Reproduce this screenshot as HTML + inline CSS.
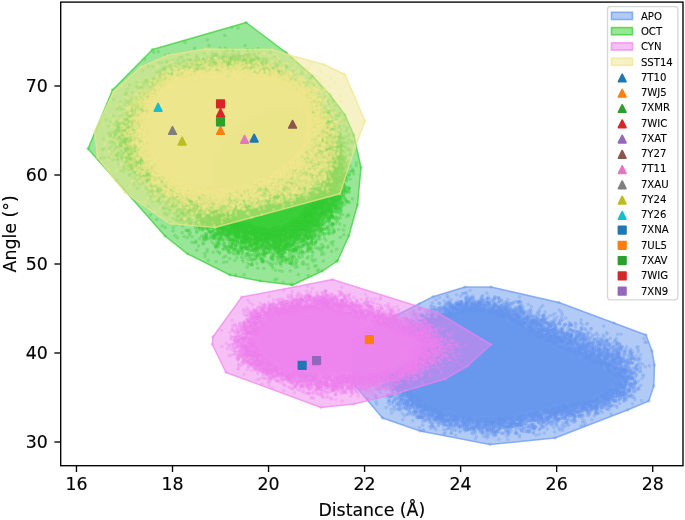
<!DOCTYPE html>
<html lang="en"><head><meta charset="utf-8"><title>Distance vs Angle</title>
<style>html,body{margin:0;padding:0;background:#fff}body{width:685px;height:520px;overflow:hidden}
svg text{font-family:"DejaVu Sans","Liberation Sans",sans-serif;fill:#000;stroke:#000;stroke-width:.15px}svg text.lg{stroke-width:.1px}</style></head>
<body>
<svg width="685" height="520" viewBox="0 0 685 520" style="display:block">
<defs><filter id="bl" x="-10%" y="-10%" width="120%" height="120%"><feGaussianBlur stdDeviation="2.2"/></filter><marker id="mb" markerUnits="userSpaceOnUse" markerWidth="20" markerHeight="20" refX="10" refY="10"><circle cx="10" cy="10" r="7.25" fill="#6d9df1" fill-opacity="0.3" stroke="#6d9df1" stroke-opacity="0.3" stroke-width="2.5"/></marker><marker id="mg" markerUnits="userSpaceOnUse" markerWidth="20" markerHeight="20" refX="10" refY="10"><circle cx="10" cy="10" r="7.25" fill="#3cd13c" fill-opacity="0.3" stroke="#3cd13c" stroke-opacity="0.3" stroke-width="2.5"/></marker><marker id="mp" markerUnits="userSpaceOnUse" markerWidth="20" markerHeight="20" refX="10" refY="10"><circle cx="10" cy="10" r="7.25" fill="#f387f3" fill-opacity="0.3" stroke="#f387f3" stroke-opacity="0.3" stroke-width="2.5"/></marker><marker id="my" markerUnits="userSpaceOnUse" markerWidth="20" markerHeight="20" refX="10" refY="10"><circle cx="10" cy="10" r="7.25" fill="#f4ea92" fill-opacity="0.3" stroke="#f4ea92" stroke-opacity="0.3" stroke-width="2.5"/></marker><clipPath id="ax"><rect x="60.70" y="2.10" width="622.30" height="463.60"/></clipPath></defs>
<rect width="685" height="520" fill="#fff"/>
<g clip-path="url(#ax)">
<path d="M352 340L395 316L433 296.7L465 287L491 287L559 302.5L614 323L646 335L652 351L654.5 365L653.8 386L648.8 401L627.5 410L555 438L490 444.5L420 431L382.5 418L352.5 382.5Z" fill="#6495ed" fill-opacity="0.5" stroke="#6495ed" stroke-opacity="0.7" stroke-width="1.5" stroke-linejoin="round"/>
<g transform="scale(0.2)" fill="none" stroke="none"><path d="M2455 1435l-258 53 39 27-37 2 120-50-36 7-28 25 53 9-63 3 63 4-25 2-1 1 14 0 33-51 0 19 8 1 15 0 10 1-8 6-4 2-1 0 22 7-40 0 43 4-35 1 7 2 47 3 4 1-60 0 51 0-55 1 25 0-26 0 66 0-36 2-36 0 27 0 32 1-3 0-10 1 102-36-33 2-34 3 68 2-4 1-28 2-7 0 1 1 36 1-65 1 27 0-33 4 63 2-52 1 4 0 53 5-9 1-20 1-39 0-1 1-1 0 48 5-1 3 30 0 16-31 6 6-8 1 48 3-5 12-8 2 25 4-16 2-22 1 88-12-23 0 11 5-25 5 342 82-98-13 5 13-17-49-70 10 23 18 36 7-56 9-24-58-52 12-6 5 51 5-11 5 4 4-1 9 29 0-44 1-19 2 60 0-2 6-47 2-22 1 44 3-45 0 14 1 56 1-30 2 29 1-21 1-23 2 42 0-44 0-71-69 6 5 13 0-17 0-3 1 11 6-28 1 35 4-24 3 15 2-28 1 30 3-41 2 73 0-13 1-23 1-6 1 21 2-40 0 23 1 35 2-20 0-24 2-7 3 37 0-45 1-9 1 52 3-56 0 18 0 27 0 27 4-34 0 0 1-8 3-10 1 11 2-8 3-25 0 68 1-55 0-6 1 32 1-23 1 31 1 15 0-57 0 51 0-41 4-41-77-16 0 18 6 9 1-63 1 25 0-24 0 39 1 9 2-50 1 35 1-25 2 44 2-42 2 31 1 10 0-28 1-4 1 26 2-4 0-28 0 49 0-44 1 57 0-70 2 46 2-12 1 24 0-63 0 37 0-8 3-2 0 26 3-53 1 49 0 26 1-46 0 27 1-58 0 22 0 40 2-52 0 20 0 20 1-32 0-1 0-2 1-2 0 23 1-19 1 1 0 34 0-26 2-21 0 26 1 33 0-8 0-47 0 18 1 22 0-7 0-21 0 22 1-18 1 32 0-24 1 36 0-58 0 38 1 15 0-44 1 19 0-32 0 49 0-33 1 27 0 25 1-17 0 2 0-36 0 47 1-35 4-4 1 1 0 41 1-15 0-28 1 25 0-15 1 35 2-1 1-4 1-16 0 13 7-134-78 52 1-46 0 17 1 10 1 2 0 19 1-63 1 16 1-14 1 38 1-27 0 50 1-67 1 23 0 29 1-25 0 38 4-11 0 9 4-44 0-8 2 4 0-8 0 31 1-2 1 22 0 7 3-45 3-12 1 46 0-13 1-36 0 20 0 12 0 20 1 17 0-9 0-55 2 41 0 5 2-35 0-11 2-2 1 67 2-32 1 5 0 24 1-15 1-8 0 12 1 14 2-6 4-148-51 40 2-9 1-1 0 24 1-47 0 66 1-12 1-13 3-8 1 24 2-59 0 58 0-30 2-21 1-1 1 46 1-32 0 32 0-32 1 50 0-36 3-38 0 53 0 5 1-27 0 3 1-39 2 30 1 46 0-34 0 10 1 26 0-17 0-50 0-2 2 39 0-23 1 43 0-43 0 34 1-16 0-6 0-4 0 39 2-16 1-8 0 28 0-56 1 49 0-30 1 14 1-53 0 14 1-6 0 24 0 14 1-33 2-32-41-10 2-4 0-4 1-19 2-1 0 40 0-12 1 8 0 13 1-18 0-10 1-33 1 61 0 7 1-19 1-42 2 7 3-9 0 8 0 14 2-17 0-16 1 29 0-8 0-11 1 53 1-28 0 35 1-2 0-40 0-8 0 12 0 13 0 27 1-33 0-35 2 55 2-42 1-20 0 40 1-34 0 64 1 2 0-48 0 23 2-1 0-2 1 2 0-37 2 13 0 42 1 7 1-14 0-47 1 17 0 46 3-8 0-59 1 49 0-50 0 4 1 36 0-20 0 17 3-3 0 23 0-15 1-36 1 27 2-12 0-26 0 36 1-37 2 9 1 4 1 1 0 5 0 11 0-25 3 12 1-6 0-23-59 7 2-11 3-55 9 47 3-45 1 28 2 1 2 20 0 5 2 8 1-45 0 18 1 25 2 1 3-72 0 40 1-4 1 20 1 20 7-41 0 7 1-43 3 12 1 20 3-10 0-21 2 68 1 7 2-63 1-11 0 61 0-54 1 43 0 1 2 11 0-7 1 19 0-27 0 29 2-27 1 17 1 2 0-67 1 62 0-9 1-23 0 9 1 27 1-23 0 26 0-8 2-17 1-34 0 27 1-10 2-27 1 25 0 9 0-21 1 28 0-9 1-40-60-12 15 14 2-31 4 8 15-23 2-31 0 31 3 0 2-9 0 56 1-39 1 9 2 29 0 0 5-28 2 7 1-3 2-2 4 14 1 7 1-17 0 1 0-67-45-2 22-36 19-45 28-28 14 92-36 19 4-9 6-7 0-6 2 7 15 16 2-23 0 20 4 2 0 0 2-60 1 24 1 12 3-6 3-6 0-17 0 32 1 23 4-2 0-51 1 19 0 40 2-10 0-41 5 18 0 11 1-23 1-5 2 35 2 6 2-12 2-2 0-15 1 29 1-24 2 25 3-24 1 14 2 92-77 3 1 1 2-51 0-14 0 55 1 12 0-40 0-17 2 34 3-19 0 33 0-46 0-3 0 45 1 3 1 4 0 7 2-63 1 45 1-24 1 21 0-1 0-6 4 26 1-57 1 30 0 7 0-12 1-28 0 63 1-76 0 40 0 27 2-67 0 44 2-4 2 26 0-34 2-16 0 43 0-4 0-10 3-14 1 27 2-7 0-27 1 22 0 6 1-7 1-46 0 51 0-22 2 18 0 30 1-69 0 27 0-4 1-23 2 56 1-64 1 42 0 20 1-26 2-2 0 8 0 14 0-35 1 39 0-7 0 6 0-10 1-2 1-10 1-9 2-23 0 36 0-3 1-1 0 10 0-1 1-31 1 3 2 20 0-2 3 7 0 0 1-6 1 12 0-11 2-35 0 18 0-18 1 28 1-7 2-23 1 13 2 15 0-13 0 113-77-13 1-7 1-12 2 30 0-8 0 7 3-27 1-4 1-15 0 14 6-15 0 33 2-11 3-15 2-8 2 9 0-5 6 3 5 388-32 69-3-25 1-33 1 72 1-77 1 52 1-33 1-5 1 16 0 19 1 4 1 14 2-29 2-7 0 36 1-4 1-3 0-25 0-20 0 61 1-13 0-20 1-15 2 6 1 27 0-34 0 19 0 12 0-14 1 11 1-23 0 16 0 7 1-24 0 13 2 30 0-40 1 5 1 2 2 18 5-5 3 17 1-3 2-13 2 0 0 20 1-1 7 69-49-38 1-4 1 4 1 41 0-2 0-27 1-21 0 25 2-21 0 21 1-16 1-13 0 64 1-74 1 5 3 22 0-11 4 13 1 13 3-32 0 33 0 14 1-45 0 6 2 48 0-57 0-1 0 43 2 7 3 5 3-63 1 72 0-34 1-32 3 3 1 6 2 47 0 3 2-17 0 11 0-45 1 15 0 45 0 0 1-72 0 44 1-34 1 61 0-22 1-35 2 55 1-5 1 8 0-9 0-38 3-22 0 46 0-47 1 0 1 15 1 55 0-14 1-30 0-18 1 49 0-12 0 15 2-11 1-7 0 3 3-1 1 15 1-16 0 24 3-46 3 29 0-23 0 33 1-34 1 37 2-16 1 20 0 65-79-24 9-23 3 39 1-26 0 16 3-10 4 6 0 16 1-23 4 32 0-5 1-33 2 16 2-7 1 5 1-10 2 25 3 5 2-47 2 10 3 1 1-18 0 51 1-37 0 22 1 12 0-7 1-42 1-3 1 59 1-34 1 18 0 12 1-22 0-8 1 41 0-21 0-45 0 32 0 39 1-52 1-12 0 14 1-7 1 26 1-34 0 15 3 31 0-24 1-7 0 28 0 14 1-5 1-44 0 9 1 33 1 1 0 3 1-5 3-10 0-2 1 28 0-58 1-3 0 52 1-31 1 16 3-40 0 21 1-3 0 106-62-25 6 18 1 14 1-7 1 7 1-39 3 21 12-33 2 46 3-3 0-39 1-4 1 51 3 9 1-4 2-53 0 60 1-35 3-35 1 37 1 41 3-59 1-14 0 6 1 34 3-8 3 19 1-19 0 19 3-30 1 53 1-26 1-36 0 121-62-31 24 48 3-48 3-27 7 19 10 5 2 14 1 23 2-40 4-4 1 22 2 64-10 7 10 240-1-10 18 6 18-43 27-29 8-24 9 18 2-24 1 40 1-83-67-41 9 36 4-34 9 56 3-15 0 2 13-16 3-1 2 33 2-18 1-34 1 48 1-39 1 48 4-21 2 18 1-62 2 32 2-33 1 79 2-30 1-68-71-29 7-18 5-3 3 43 4-23 3-4 1-8 3 24 1-39 1 66 0-66 3 32 1 28 1-8 0-48 2 30 1-38 2 50 2 9 1-58 7 1 5 61 3-30 0-22 3 53 2-29 0 0 0-32 1 71 2-52 3-3 1 30 0 23 1-70 0 34 1 9 1 16 0-60 2 69 1-138-79-6 3 3 1 30 1 10 1 20 2-40 1-24 1 20 1 15 3 0 0 30 0-13 0-18 4-19 1 40 0-41 0 34 1-21 1 42 2-70 3 17 3-10 3 57 2-34 3 23 2-21 1 32 1-61 1 23 0-17 0 4 1 1 1 28 0 7 2-17 2 19 0-29 1 12 1-14 0-2 3 37 1-26 0-11 1 14 1-13 0 29 0-4 2-14 1 19 1-26 2 31 3-16 0-30 0 39 2-17 0 8 1 36 0-58 2 17 0-5 1-21 1 49 1-49 2 12 1 27 0 12 0-62 1 69 1-53 0 27 1 7 0-24 0-52-78-38 0 11 0 23 1-39 0 24 1-35 1 52 0-28 1-4 0-18 2 11 0 16 3 16 0 5 1-46 0-1 2 49 1 8 2-58 1 75 2-32 1 9 0-45 0 40 2-11 0-18 0-4 1 63 2-59 0 42 1-11 0-39 0 67 2-71 0 29 0 11 1-29 1-9 1 35 1-19 1 30 0 15 0-64 0 54 1-28 0 20 0 21 0-32 1-1 1-12 1-23 0 58 1-45 0 19 1 39 1-69 1 29 1-22 0 41 2-42 1 32 0 17 1-47 1 17 1 29 3-62 0 13 2 10 3 9 1 19 0 3 0-11 1-33 0 28 0-17 1 53 0-25 1-38 0 53 1-56 1 67 0-32 3-15 0 11 4 32 0-40 1 5 1 22 2-23 0 40 0-16 0-13 0 1 1-2 3 23 1-2 0-139-78 30 1-32 0 5 0 32 0-3 0-7 1 7 1 38 0-27 0 0 2-23 1 36 0-63 0 5 1 6 1 0 1 53 0 11 0-53 2-7 0 49 2 11 1-27 2-26 0 21 1 15 0-29 2 39 0-48 0-4 1 7 0-16 0 38 1 9 0 23 1-41 0 41 1-43 1-28 1 59 1 3 0-44 1 35 2-11 0 9 1-3 0-2 1 18 1 7 2-37 1 11 0 10 1 6 1-18 1 22 2 8 1-31 0 14 2-7 1 8 4 5 4-75-52-34 0 15 0 25 0-41 0 26 0 4 1-19 0 10 1 7 1 8 2-12 1 4 1-3 3 9 1 0 2-594-9-31 0 16 2-17 1 28 2-20 2 14 0-3 7-6 5-27-22 7 6-37 138-2 1-19 4 22 0-17 4-14 1 28 0-21 2-6 1 27 0 839-78-9 2 11-2 77 0-16 2-14 0-29 0 30 1-37 0 37 2-32 0-14 0 46 1-26 0-4 0 52 0-47 1 12 0-28 1-8 0 24 3 46 1 5 0-5 1-30 1 21 0-57 1 67 1-66 0 46 2-22 1 25 0-20 2 31 4 0 0-7 1 19 0-4 1-19 0 24 1-16 0 1 1-8 1-21 1 17 0-8 2 32 2 1 0-10 2 5 3-1 7 4 1 2 3 15-51 1 1 43 1-49 2 1 0 28 1 44 1-39 2-8 1 2 1 41 3-57 0 18 0 29 0-35 1 12 2 11 1-45 1 56 0-23 1 24 0 7 1-55 0 19 1-4 2 31 1-32 1 24 0-29 1-3 1-7 3 10 1 11 0 5 2-41 1 58 1-21 1 32 0-35 1 8 0 14 1-56 2 25 2 37 0-37 0 8 0-23 1 64 1-45 1 22 2-41 0 2 0 41 1-47 2 36 0-3 1-13 0 38 0-50 0 37 1-10 1-33 0 10 0 5 1 38 0-5 1 10 0-24 1-17 0 24 0-33 1 31 1 6 0 17 0-6 1 4 0-21 1 29 0-67 0 41 0 16 0 6 2-49 0 45 4-37 2 31 0-1 2-20 0 2 0 30 1 3 1-32 5 79-77 3 2 1 0-34 1 39 0-30 2 14 0 23 4-58 3 39 2-38 0 2 1 20 2-7 1 36 2 7 0-18 4-18 1 34 1-13 1 2 2-12 1-36 1 39 1-11 1 47 0-22 0-31 4 8 1 20 0-9 1-12 0-15 1-6 4 15 1 16 0 4 1 11 0 1 1 9 4-58 0 58 1-38 0 42 2-36 0 24 0 6 2-43 1 46 0-16 0-35 1-12 1 40 1-41 1 0 0 44 1 14 0-18 0-9 1 22 1-50 0 38 1-31 1 55 2-59 0 0 0 13 1-11 2 56 1-29 2-6 3 16 0 62-68 17 14-20 3 16 4 4 1-14 4 25 1-38 3 14 4-15 1 53 1-70 1 5 1 10 3-5 3 29 1 3 1-23 1-13 4 3 6 10 5-17 0 56 1 23-36 1 20 44 13-19 4-7 46-54-39 15 1-4 3-52 1 48 0-37 1-16 0 67 3-32 2-1 3-13 0-4 1-5 0 0 8 47 3-52 1 5 3 13 1 14 0-39 7 25 4 0 1-3 1-11 2 26 2-21 1-9 0 33 2 2 2-42 3 32 2-17 1-10 1 47 2-51 5 14 1 3 1 40 0-42 0-10 0 58 4-58 0 32 1-34 1 50 0 4 1-107-76-4 2 39 0-22 0-39 0 23 1-28 0 48 0-10 0 0 1 32 0-5 1-31 1 11 0 31 0-19 1-49 1 43 0 19 0-62 1 9 2-17 3 8 0 10 3 59 1-72 1 70 0-35 1-30 2 32 0 13 1-6 1 9 1-35 0 22 2-7 0 27 1 4 0-16 1-4 1 4 0-14 0 18 2-1 0-21 1 40 1-11 1-36 1 35 0 7 0-29 3 35 3-9 2 3 0-32 1 8 1 10 1-9 1 26 3 1 1-4 3-10 2-4 1-5 2-1 1-5 1 17 1 2 5-19 5 11 2 18 1-76-70-1 6 0 1-1031-13 8 1-3 3 22 0-18 1 24 1-26 0-2 1 18 0 0 1-17 2-4 4 8 0-13 2 29 3 2 2-15 0-7 1 25 1-14 0-21 0 13 2 5 1-5 1 8 1-17 4 8 4 1 0-8 6 24 0-30 0 32 2-17 0-2 0-12 0 12 2-10 3 17 0 7 1 7 0 1 1-4 0-4 0-19 3 22 2-17 0 18 1-27 0 3 1-3 3-4 1 17 1 9 0-8 0 8 2-14 1 11 0 15 0-19 0-5 2 20 2 2 2-34 2 36 1-4 0-21 0 14 1-17 0 30 0-17 3-34-79 4 3 4 1-11 1 8 2-30 7 13 2-12 1-18 2-15 2-12 5 37 1 20 0 0 1 14 1-20 0 25 0-76 1 34 2 28 0 4 0-6 1-51 0 20 2 47 1-12 1-25 3-7 1 38 1 4 5-2 0-65 1 70 0-6 2-28 0 30 1-43 2 36 1-39 1 34 1-23 1 1 0 26 2 3 0-18 3-18 0 5 2-26 2 27 3-1 1 32 2-46 1-4 0 35 1 5 0-1 0-1 2 12 0-60 1 0 0 42 2-64-53-16 7-13 3-4 3 16 3 17 3-6 1 7 0 2 8-1 13-22 5-50 80 76-62-5 14-24 1 10 2-20 26 8 17 53-70 59 3 2 1-24 1-13 1 6 0-4 0-10 0 17 1-39 1 43 0-15 1 20 0 19 0-14 1-26 3-29 3 31 0 33 1-4 1-7 1-36 3 53 2-64 4 34 2 17 0-24 1 34 1 0 0-6 1 0 0 1 6-6 6-16 1-7 3-22 5 26 3-19 2 12 3-5 0 21 0 27-60 17 3 17 1-10 1-18 0 6 0 4 1 29 1-45 0-1 1 30 0-15 2 0 0 13 2 14 0-2 1-39 0 44 3-23 0-3 1 14 0-33 1 45 1-29 1-9 6 12 0 38 2-11 1-13 2 26 2-27 1 25 1-12 0-1 3-23 0 24 1-9 0-25 1 58 1-42 0-14 2 32 0 11 1-4 1-11 0 4 0-9 1-12 0 18 1 16 0-12 1-12 0-16 0-4 3 56 0 6 0-40 0 7 1-29 0 18 1 30 0-11 1-5 0-41 1 32 0 22 0-47 0 61 2-2 1-55 2 40 2 18 0-12 2-14 0 22 5-31 0 15 2-13 0 17 1-36 1 24 0 9 1-51 0 4 1 64 0-14 2 3 0 28-11 0 2 7 6-2 1 4 0 940-38-3 5-3 3 1 1 0 0 0 0-5 1 10 0-5 0 3 0 0 3-9 7-20 1 8 1-7 1-1 2 2 0 10 0 9 3 6 0-12 1-6 1 16 2-16 0-11 2 14 0-9 1 25 1-75 1 60 0 17 0-50 2 34 0-49 0 10 1-7 0-7 0 20 0 124-79-37 1 8 1 12 0-13 1 23 0-14 1 14 2-1 0-21 3-8 1 40 1-15 1-7 2-18 1-6 0 40 0 5 1 2 0-8 2-16 0 13 1 1 2-15 3-17 2 6 1-5 2-21 1 40 1-26 1-8 0 53 1-27 0-42 0 42 0-5 1-17 0 7 0-19 1 37 0-8 1 5 0 9 1 7 0-31 0 19 0-30 1 48 1-3 0-7 0-48 3 12 1 29 1 27 0-50 1-18 1 14 0 16 3 18 1-31 0 50 0-76 1 17 1 43 0-42 1 4 0-8 1 2 2 61 1-31 1 26 1-10 1-15 0 13 1-44 0-4 0 28 1-36 1 1 1 32 0 19 1 20 3-76 4 10 0 7 4-12 2 4 0 15 1 64-79-2 2 2 0 17 1 11 1-20 1 16 7 4 2-33 5 67 0-36 3 11 3-27 4 2 0 40 1-35 3-23 4 20 3-22 2 8 5-7 3 13 0 22 3-28 5 32 0-9 3-15 2 25 4 10 0-42 3 74-63 65 3-131 120-61-50-5 2-3 2 22 1-13 5-33 0 9 15 6 4-5 42-75-71 33 1-27 2 3 1 40 0-26 1 21 0-10 1 14 0-53 1 42 1-45 0 2 1 15 0 9 0-25 1 33 0-18 2 34 2-50 1 0 0-12 1 71 1-16 0 9 0-20 2 9 0 13 3-54 1-2 1 67 0-20 0-20 1-32 1 14 2 55 6-31 0 16 0-38 0-13 3 14 0 25 1 11 1-11 1-40 0 20 0-24 1 15 1-3 3 57 1-48 1-4 8 2 6 31 1-24 5-1 1-7 1-32-66 9 1-33 1 12 0 20 2-21 0 17 0-35 1 19 0-7 0 24 1-42 0 36 0-25 1-32 0 56 1-43 0 13 3-3 0 26 0-55 0 33 0 29 1-32 0 26 1-31 0 25 0-1 0-45 0 0 1 25 0 2 0-27 2 33 1-35 0 10 0 25 0-8 0-31 1 49 0-15 0 15 0-38 0-13 2 26 1 49 0-47 0 36 1 7 0-35 0 32 1-63 1 39 0-1 1-8 3-2 0 41 0-9 0 11 1-35 0-4 2-36 0 36 2-28 0 16 0 52 1-58 0 10 0-28 0 7 0 2 1 34 2-6 0 24 1-30 0 16 1-17 1 22 0 22 0-36 1 8 1 27 1-58 1 10 1 26 3-37 1 14 0 28 4-35 1-11 1 1 5 53 7-54 0 19 1-8 2 33 2-32 1 41 2-78-65-8 3 2 1 15 0-28 2 6 0-28 1 45 2-1 1 5 1 0 0-12 0 14 1-22 1 2 1-40 1-16 0 21 0 7 0-5 0 14 1 4 1-22 0 34 0-16 1-11 1-13 1 58 0-58 0 17 2-11 0 23 1-7 1 17 0-43 0 18 2 36 1-26 0 36 0-46 0-3 2-13 1-5 1 36 0-13 1-21 0 27 1 41 0-44 0 20 1 20 1-72 1 32 0 40 1-41 1 28 0 6 1-62 1 53 0-6 1 5 0-17 1 18 0-29 0-20 1 32 1 2 2-37 0 55 1-45 1 31 1 32 2-49 0 21 0-9 0-24 2 29 1 10 0-34 0 36 1 9 1-1 2-28 1-25 0-3 0 51 1-28 0 11 1-12 0-23 2 49 0-17 0 16 0 18 1-22 0-64-47 5 3-5 1-26 3 10 0 20 1 6 1-7 0-22 1 20 2 9 1-74 3 63 0-55 0 17 1 21 0-10 0 22 1-41 0-7 1-10 1 59 1 9 0-10 0-32 2 18 2 24 1-73 0 54 0-27 1-12 0 63 0-15 2-46 0 36 0-28 1 38 0-45 0 41 0-46 1 12 0 9 0-11 1 43 1-58 0 16 0 43 0 3 1-35 2-8 0 20 0 11 0-47 0-6 1 61 0-57 0 14 1 31 1-2 0-13 1 17 0-6 3-11 2 18 0-19 2-9 2 30 0-65-31-13 6-6 3-8 2-7 2-4 0 12 3-24 1-10 2 45 1-21 0-30 0 48 0-19 1 34 0-57 0-14 1 9 0 63 1-9 0-23 0 0 0 30 2-17 1-15 0-32 1 18 1-1 0 21 1-1 0 4 1-22 1 41 0-80-5-12 1 10 2-5 1-6 0-371-8 2 1 14 4 18 0-24 1 1 0-77-30 7 3-15 1 20 1-21 2 8 0 26 1-26 1 27 3-16 1 0 0 0 0 8 1 14 1-36 0 33 1-12 3-1 3-18 0 13 0 51 0-53 0 40 0 12 1-51 0 15 1 17 0-50 0 61 2-4 0-6 0-52 1 23 0 33 1-20 0-42 1 64 1-43 1 20 0 34 1-22 0-22 1 30 0-132-79-4 1-3 0 1 3 29 2-8 0-7 0-4 1 7 0 6 2-26 3 15 3-16 1 40 1-19 1-16 1 15 1 1 3 28 0 4 0-36 4 35 0 5 0-13 1-23 1 17 1-32 0 16 1 53 1-59 0 51 0 9 1-19 0-11 0 2 1-6 1 7 0 28 2-67 3-2 0 64 1-4 1-26 1 16 0-1 2 18 2-20 1 12 1-10 0 22 0 0 0-48 3 11 0 33 3-10 0-28 0-14 2 42 1-41 1-2 3 39 0-36 3 27 4-14 2 30 1-4 0-10 3-8 0-19 1 32 0-33 2 13 1 38 0-8 0-132-78-10 1 55 0-35 1-1 2 15 1-9 1 10 1 23 0 6 0-10 1-25 2 33 0-36 1 45 1-33 1 15 0 9 0 1 1-52 3 19 1-16 0 3 1-3 0 48 1-33 2-1 0-20 0 49 1-7 0 4 1-5 0-2 1-17 1 4 0 6 3-12 0-6 3 15 2-43 2 69 0 1 1-18 0-26 2-10 0 61 0-38 4 5 12 34 1-2 4-19 2-46 6 43 1-20 1 6 0 25 3-43 5-78-79 27 2-7 8 28 4-7 2-26 3 25 0-2 4 8 4-21 4 29 1-68 5 59 8-34 2 42 2-40 16-78-56 184 94 31-22-2 1-3 0 65 1-35 1-35 3 24 0-13 0 34 1-33 1 61 6-11 2-2 1-3 1 10 8-38 2 44 8-9 16-31 18 115-71-38 3-2 1-5 1-16 0 43 1-35 1 28 0-14 1-5 2 7 0-17 0-2 0 31 2 2 1-28 2 8 0 30 2-3 0-2 1-44 0 30 1 22 1-19 1-25 0 48 2-2 3 11 2-8 1-34 4 21 2 6 0-56 0 36 1 14 1-21 4 34 1-67 1 68 2 1 1 9 0-71 8 71 9-9 6 59-69-15 2 5 0 5 1 32 0-2 1-22 0-40 1 32 1 4 0 29 2 1 1-62 1 20 0 13 1-17 0 18 2-22 2-13 0 25 2-40 1 35 1-23 1-12 1 36 3-5 0 8 1-35 2 72 0-26 1-33 0 60 0-11 1-61 2-1 1 40 1-31 7 26 0-24 0-2 3 3 0 55 1-16 1-50 0 66 1-45 1-12 3 49 0 13 1-14 2-8 1 0 4-25 1-23 1 36 11-25 0 46 4 23-68 16 1-22 0 40 3-20 2 15 1-10 0 21 1-29 1 20 0-36 0 34 2 4 1-22 1 48 0-62 2 32 1-18 0 15 2 27 2-52 0 42 0 25 0-15 0 7 1 4 0 2 0-47 0-25 2 10 2-4 0 62 2-24 1 25 0-69 1 65 1-16 2 30 1-52 1 42 1-67 1 13 2-9 0-3 2-3 1 14 2 65 0-17 2-25 1 11 0-31 0 56 0-53 2 42 1-33 0-16 1 25 0 2 0 16 0 18 1-71 1 48 0 22 1-34 2 30 0-33 4-26 2 30 1 35 0-25 1-45 5 53 0-6 1 52-63 33 0-24 1 40 2-47 0-2 1 40 0-63 0 15 1 23 0-28 2 42 1-51 1 4 0 26 0 46 2-67 1 57 1-32 0-1 0-28 1 60 1-42 0 11 0-31 1-1 0 44 0 17 3-52 1 55 0 5 0-2 1-32 1-12 1 17 1-13 0 32 1-53 0 16 1 2 1 28 1-29 2-19 1 61 0-36 3-10 2 21 1-14 0 48 1-33 3 33 1-11 0 10 0-18 2-30 0-13 0-6 0 39 1-44 1 26 0 38 0-51 3 37 3-52 1 36 1-27 0 35 1-12 3-5 1-27 0 64 3-12 1-46 1 47 0 2 0 19 1 71-69 7 0-20 0 5 1-24 2 36 0-33 0-26 0 31 1-21 0 33 0-43 1 7 0 20 2-27 0 11 0 27 0 18 1-19 0-10 2-19 2 17 0-19 1 27 0-17 1-8 0 50 1-68 0 25 0 8 1 11 1-28 2 23 1 30 0-58 1-14 0 19 1 34 1-21 1-7 1-18 1 68 1-34 1 25 0-13 1-41 1 6 2-4 1 39 0-36 2-16 1 69 0-37 0 36 0-3 0-38 1 0 2 47 1-32 2-7 0 11 1 16 0-8 2 23 0-26 1-2 0-10 1 17 2 14 0-54 1 3 0 4 3-10 4-8 7 70 4-65 0 3 2 140-77 0 1 4 0-35 1-3 0 8 0 9 1-22 0-1 1-26 0 34 0 25 1-56 1 56 0-63 1 35 1 36 0-69 2 58 2-19 0-13 1-6 0-20 1 39 0-15 0-29 1 59 1-25 1-33 0 19 0 28 3-12 1 29 1-53 1 34 0-12 0 38 2-35 2-22 0-11 4 7 2-9 0 14 1 53 1-47 1 20 2-23 2 9 1-21 0 20 1 18 1 4 0-16 1 18 0-31 1 16 2-10 1-26 1 53 6-16 0-22 1 8 0 48 3-54 13 58 4 0 0-18 1 37-79 19 0 25 0-39 0 8 1 6 0 13 0 27 2-8 0-4 1-13 0 8 1 5 0-15 0 5 1 12 0-3 2 3 0-39 2 38 0 12 2-8 0-51 0 9 0-5 1 57 1-50 2-2 0-22 2 41 1 19 1 4 1-54 2 37 1-38 1 57 1-55 0 44 0-58 4 73 1-57 10 6 2 10 2 34 3-63 1 17 1 59 3-39 0-35 1 27 4-13 1 12 1 32 1-36 1-7 0 9 2 30 4-53 0-2 6 7 2 134-76-28 1-20 1 28 1-36 1 50 2-36 0-15 0 47 1-32 2 9 1-16 3 0 0 6 0 31 1-37 2 46 1 7 1-44 5-25 1 57 1-11 0-26 5 17 5-24 4 23 3 26 2-51 2 57 5-18 8-34 6 107-65-14 0 48 1-51 4 45 6-67 1 22 0-23 0 23 0-7 2 52 4-16 6 11 6-33 3-20 2 9 8 2 11-13 7 2 11 75-69 22 10 49 6-37 5-9 7 5 17 53-48-198 80 2 30-127-28 18 3 3 0 28 6-116-5-101-4 33 3 6 3 21 30-138-37 65 2-55 1 0 5 24 1 36 1 6 7-9 2-28 0-11 2 20 40-91-57 18 30-79-35-41 5 21 11-53-11-5 4" marker-start="url(#mb)" marker-mid="url(#mb)" marker-end="url(#mb)"/>
<path d="M2325 1435l-228 84 138-41-70 6 15 14 41 7-59 9 33 2 117-47-9 12-63 5 50 20 18 1-66 1 58 1 6 0 3 4-13 0-15 2-30 0 0 1 58 0-19 3 61-67-19 11 32 17-26 1 29 9-3 3-37 1 6 1-1 1 13 5 2 0 11 5 37 0-13 1-51 0 62 0-51 1 22 1 34 4-70 2 46 1-14 2-21 1-1 0 44 0 52-53-20 12-4 3 6 15 38 1-45 1 21 7-8 6 26 1-16 1 9 0-1 0-3 0-31 1-3 2 36 0-25 0 76-28 17 14 1 1-13 5 2 1-5 3 44 5 61-32-4 23-2 1 7 1-30 2 37 4 190-4 12 48 4 12 18 18-55-21-11 7-43 0 17 13 34 4-44 5-85-76 72 5-57 6 38 17-40 6-6 10 6 4-13 4 74 2-18 3-54 3 19 1 16 0-21 0 22 7 39 0-1 2-35 2-40 0-81-73 44 6-9 7-20 3 6 3 23 1-10 4 1 1-12 1 20 1-36 1 43 1-48 0 9 1 9 5 37 0-53 1 4 2 27 0-14 2 29 0-48 1 6 1 10 0 36 2 1 1-49 4 11 1 7 1-4 0 19 1-34 1-4 1 26 0-8 2 7 1 4 0-28 0 21 1-9 1 16 1 0 1 2 1 42 0-21 1-23 0-18 0 26 1 39 0-45 0 1 1 10 2-25 0 49 1 8 0-7 1 6 0-43 1 37 0-44 1-9 0 51 2-47 0 11 0-21 1 48 1-36 1 33 0-43 1 35 0 3 0-46 1-85-79 70 0-21 6-24 1-9 0 12 2 36 3-22 2-31 0-2 2 64 0-53 0 9 1 4 0 13 0 3 3 3 1-37 1 18 1-29 1 44 1 4 0 19 1-7 0-46 1 3 2 14 2 16 1-46 1 10 0 58 0-39 0-10 1 15 2-26 0 1 0-12 0 22 0 40 2-64 0 78 0-57 2-1 1 20 0 29 0-42 0 12 2 24 0-29 0-11 2 36 0-40 2 52 0-33 1 18 1-37 2 42 0-18 0-38 1 35 2 4 0-5 1-28 0 10 1 30 0-32 0 8 1-13 0-3 0 28 0-36 0 75 0-59 1 26 1-32 0 47 1-35 1 47 2-49 0 40 0-32 1 38 1-34 1 33 0-34 0 32 0-16 1-14 0 4 2 0 1 26 1 10 6-156-76 71 0 4 0-72 2-3 3 43 0-25 2 21 1 36 1-47 1-28 1 31 0-26 1 67 1 2 0-7 1-2 2-55 4 32 0-19 0 27 1-34 0 2 0 43 1-2 0-13 3-29 0 2 0 49 0-64 1 10 2 55 1-43 0-23 1 76 1-24 0 10 0-56 0 39 0 4 1-25 0-15 1 50 1 16 0-60 1 25 1-8 0 34 1-66 1 57 2-37 0 3 0-4 0 21 1 9 0-33 0 18 1 24 2 9 0-23 1 15 1 1 1 14 1-14 0-1 1-91-50-13 1 9 0 31 1-8 1-63 1 47 0-38 0 32 1-35 2 13 0 34 1-43 0-7 1 53 2-63 1 71 1-25 0 0 1-39 0 69 1-47 0 33 0 16 0-21 1-56 0 56 0-42 1 29 0-23 1 38 0-17 1-10 0 4 1-31 0 71 0-67 1 14 2-23 0 48 1-27 0 23 1-16 1 33 1-43 0-16 0 16 0 40 0-50 1-8 0 8 1 64 0-40 0 33 1-54 0 35 1 30 6-56 0 42 0-15 0 8 1-20 0-29 0 25 0 9 1-82-39 18 1-51 2 58 0 9 0-1 0-60 1 49 0-47 1 43 2-52 1 40 0-15 1 16 0-17 1 33 0-46 0 27 4 11 1 16 1-57 1 65 0-64 2 44 0-28 0 0 1 49 0-54 0 5 1 20 0 30 1-20 0-30 1-11 0 46 1 11 3-18 2-20 2 29 0-13 0 21 2-74 1 42 0 11 0-10 1 11 0-50 1 51 2 13 1 10 0-32 1-21 0 21 1 26 1-63 0 64 0-1 2-48 1-24 1 6 4 17 0-19 0 3 2 32 0-5 0-18 0 6 0-20 0 6 1-7 1 24 2-23 0 0 0 7 5-3 1-42-47 19 0 5 1 8 0-17 0-28 4 27 3-45 4 64 0-55 2-13 1 52 0 14 0-30 2-31 1 44 0-35 2 51 2-3 1-39 3 33 1 7 1-12 1-51 2 48 2-19 0 37 0-27 1 13 4-6 1-5 1 11 0-16 1-15 0 25 0-22 3 20 1-24 0 37 2-33 0 2 2-5 2-29 0 39 1 4 1 32 0-36 2-1 0-33 1 52 1-36 1-18 1 51 0-9 1 24 0-27 0-1 1-25 0 25 1-5 1 19 1-38 0-22-70-59 15 1 1 58 5 0 10-16 2 15 9-15 1-36 0 31 2-19 4 40 0-47 0-6 1 53 1-4 1-30 2-37 7 71 3-3 0-7 0-6 1-20 0 17 2 11 2-56 1-21-33-96 14 20 68-10 0 72-48 8 7-19 4 13 11 2 2 6 2 7 2 4 2-5 0 5 2-44 3 24 6 10 1-8 0 16 2 0 5-56 3 24 2-4 0 32 5 6 2-54 0 32 2 0 1-12 1-17 1 42 0-44 2-2 0 31 1 16 2-31 0-11 1 26 0 10 1-17 1 5 0 24 1-5 2-27 0 27 0 43-76 0 0-5 3 33 2-11 2 27 1-39 4 17 0 7 1 11 2 3 0-74 1 62 2-11 1 12 0-6 0-33 0 49 1-40 0-10 0 27 0-26 1 13 0 8 1 11 0-45 3 35 1 22 0-65 1 24 0 45 5-1 1-15 1-8 1-8 0 6 1-39 1 31 1 4 1-9 0 2 0 23 1 15 0-4 1-63 0 41 1 24 0-24 0-8 2-13 1-25 1 21 1 3 1-28 1 8 1-1 0 21 2 3 1-10 0 1 1-11 1 53 0-45 2 10 0-19 3 33 1-24 1 33 1-9 1-3 2-36 1 23 0 14 1 7 0-22 1 14 1-34 0 19 1 9 2 6 1-36 2 37 1-14 1 79-79-15 0 0 1 3 2 14 3 2 0-19 1 15 0 19 0-43 4 2 3-1 4 9 1-6 5 12 0-13 2 1 0-6 5 9 2-3 1 391-31 12-2 61 0-59 1 20 0 9 0-19 0-12 0 11 1-13 0 45 1-45 1 70 0-73 1 30 1 4 1-13 0-18 1 68 0-40 1 6 1 35 0-40 1 21 0-48 2 14 0 38 0 18 0-43 1 30 1-40 2-8 1 49 0-14 3 4 2-3 2-3 5 23 2-19 3-2 1 22 14 2 4 63-55-57 1 51 1-42 0 5 1 14 3 16 0-12 1 4 0-13 0 41 2-46 1-5 0 30 1 16 0 17 1-30 0-33 0 11 0 29 1-15 1 2 1-14 0 11 0-1 1-22 0 35 1-16 2-17 0 51 1-11 1 9 1-15 0 4 1 7 2-33 0 31 0-40 0-19 1 22 0 17 1 6 0-30 1 51 0-69 0 31 1-25 1-1 3-2 0 39 0-1 2 7 0-22 1-11 0 61 0-51 1-10 2 45 1 1 0-55 2 9 0 29 0-19 2-13 1-11 0 38 2 16 0-41 0 18 0 45 1-33 0-29 1 8 1 29 1 18 0-70 0 34 0-23 0 67 1-56 0-5 1 36 0-25 1 40 0-43 1 42 0-40 1 25 0-23 1 1 0-20 0 11 1-7 1 34 1-2 1 11 0-9 1 18 0-55 0 9 1 19 0-9 0 22 1-36 0 0 0 56 2-39 0 6 2 20 2 10 0-27 1 0 0-3 2-9 0 45 5-10 0 9 1 6-78 7 3 38 2 4 3-48 1 5 1 71 2-62 1 58 2-56 1-6 1-8 1 43 1-24 0 0 1 57 1-43 4-12 3-23 2 19 1 34 1-23 3-25 1 16 1 34 2 10 3-13 1-15 1-19 2 33 0-10 1-27 0-2 2 29 1-35 1 9 0 36 1-7 0 25 4 9 0-50 1 44 3-55 3 17 0-23 0 55 2-17 0-10 0 12 1-25 1 42 0-38 1-12 1 1 1-14 0 52 2-41 1-15 0 10 0 9 1-15 4 76-78 1 4 44 7 28 3-75 4 26 2 27 3-28 0 20 7 32 4-63 2-11 8 11 3 34 4-37 9 44 1-38 2-15 2 10 0 3 2 21 1 1 0-10 0 36 1-10 0-25 2 0 1 32 0-18 2 4 0 58-61-24 8 51 0-20 1-4 16 14 5 35 0-28 2-23 7-19 6 50 0-45 0 6 2 53 1-67 3 5 5 25 0 21 1-35 1 24 4-21 0 18 1 98-46 16 33 1 6-60 3 41 2-55 1 109-61 35 56-17 1 144 40 28 43-70-22-57 1-5 9 64 6-40 5 38 5-138-68 22 12 13 7-24 7 18 3-32 0 37 1 12 2-57 0 6 0 52 2-54 3 66 4-46 1-13 1 54 2 5 2-12 2-21 7 8 0-15 1-26 0 17 0 31 4-50 0 0 1 61 1-36 0-106-69 46 6-25 2 52 5-64 1 32 1 4 1 24 2-19 1 18 2 2 0-35 2-10 3 26 2-51 1 1 3 32 4-2 0 11 0 29 1-49 4 47 3-35 0 6 0-28 0 10 3 39 0-59 0 60 1-42 3-15 1 37 1 26 2-66 0 19 0 35 1 14 1-40 1 9 1 14 1-47 0-3 0 32 2 31 1-34 1-11 0-12 1 35 4-34 0 19 3-2 0-107-77 31 0-29 0 55 1-37 2 8 4-29 0 50 1-37 4 18 0-31 4 21 1 18 2-1 1 6 2 5 5-34 0-16 3 66 1-26 0 29 2-13 2-20 1-3 0-28 2 0 2 55 0-21 1 25 1 3 0-9 2-7 0-43 0 7 1 53 0-58 1 52 1-21 2-31 1 68 3-33 1-6 0-17 1 41 1-53 0 4 0 61 2-32 0-28 0 51 1-32 1 42 0-66 0-9 1 61 0-20 0-19 2 6 0-7 0-18 1 19 0-1 1-21 1 14 0 10 1 16 0-22 0-14 0 13 3 5 0-12 0 37 1 20 1-2 1-48 2-16 1 36 0 24 0-58 0 3 2 70 1 1 0-126-79 18 1-49 0 57 0-55 0 51 0 7 3-4 1-28 1-5 1 54 1-32 2-26 0-1 1 18 1 10 2-41 0 24 0 47 1-14 0 10 0-1 1-37 1 21 1-38 0 56 1-59 2 18 0 26 2 12 1-51 0 53 1-68 0 31 0-15 2 24 0 9 0-9 1-44 1 55 2-43 1 40 1-38 0-7 0 62 0 9 0-28 1-35 0 41 3-21 1 25 2-9 0-19 1 12 1-10 0 41 1-17 1-55 3 26 1 37 1-46 1 2 0 51 1-31 0-14 1-28 2 50 3-50 0 39 0 29 2-34 0-27 0-6 2 59 0-10 0 7 1-30 0-13 0 22 2 34 2-45 1 24 1-22 1 8 0 3 0 32 1-23 0-5 0-12 1-8 1 34 1 18 3-22 1 13 1-22 1-58-79-7 1 9 0-47 0 10 1 5 1-5 0-1 1 16 0 0 0 9 1-1 1-8 0 14 0-40 2 45 0 2 1-37 1 40 0-41 0 15 2 20 0-59 0 36 0 29 2-27 1 2 0 21 0 9 0-43 1 41 1-40 1-25 1 33 0 27 1-19 0 29 0-63 2 61 0-44 1 43 1-61 0 51 0-45 1 19 0 12 1 28 0-19 0-34 1 16 2 27 0-26 0-21 2 45 2-20 1 18 0-29 5 18 3-13 0 20 0 16 6-8 6-101-54 29 0-25 4-1 0 14 4 7 9-605-16 9 0-5 2-3 0-6 1 6 0-13 1 8 4-11 1-4 2 10 1-2 3-22-14 2 4-316 14 276 123 0 2-7 2 8 1-13 8 5 0-1 1-9 1-3 1 13 0 823-79 4 3 13 0 3 4-3 1 10 1-15 0 9 2 58-7-14 3 10 0-43 0 36 1-6 0 0 2-6 0-12 0 35 1 26 0-17 0-36 1-22 0 41 1 31 0 4 4-78 0 73 0-40 1 13 1-23 0 27 0-42 1 23 0 30 1 17 1-24 1 5 0 18 1-11 0-14 1 16 0-6 0-11 2-11 1 12 1-9 2 3 0 16 3-10 1-2 0 9 2-5 1 12 5-2 2 12 4 29-49 11 0-24 0 44 0-49 1 44 1 13 3 8 1-22 0 27 0-67 1 61 0-9 1-16 0-40 2 8 0-8 0 37 2-32 2 30 0 1 1-9 0 18 1-29 1 23 1-5 0-7 0-30 1 38 2-32 0 47 0-30 0 39 1-36 2 43 1-66 1 12 1 58 1-6 1-11 0 10 2-62 3 58 0-52 0 59 0-36 1 3 1 30 1-38 2 40 0-71 0 77 0-55 0-11 1 2 0-13 1 55 0-38 0 30 0-25 1 19 0-26 1 19 0-5 1 37 1-44 1 26 1-42 2 46 3 26 0-74 1 28 0 11 0 21 0-25 1 15 1-17 0-2 1 22 0 2 0 4 1-9 1-39 0 46 3-30 1 17 0-3 5 34 0-44 1 43 0 0 1-27 3-8 0 28 2 2 4 6 1-2 0 7-78 52 2-34 2 13 0 17 3 0 1-48 0-4 0 52 1 27 0-60 2 21 0 5 1-21 1 1 1-6 1 25 1 3 2-27 1-18 0 18 0-6 0-8 3 48 0 0 1-39 0-10 0 34 0 9 1-11 1-37 0 76 1-74 0 3 3 51 2-30 0 41 1-37 1 33 1-40 1 34 0 6 1-42 1 2 0 40 1 2 2-45 0 21 1 30 1-41 0-5 1 50 0-47 2-11 1 61 1-52 0-22 0 4 3 24 0-2 0 8 2 18 2-44 2-4 1 39 0-31 1 22 2-10 1 38 0-59 1 10 3-16 1 15 1 12 0-16 0-2 0 10 1 41 1-39 1-2 3 55 0-59 0-14 0 33 2 10 1 9 0-4 1 65-76-31 1 30 2 8 3-6 6-22 1-14 2 61 1-31 0 9 1 35 11-74 2 37 0 17 1 17 3-20 2-17 2-20 0-14 3 26 9 18 3-18 1 9 0-14 1 49 6-5 3-45 3 43 1-52 0-2 7 18 1 56-64 11 47 58 4-72 10 2 8 0 14-2 1 13 17-3 17-60-51-20 1-7 4 16 0-13 2 60 2-51 2-9 1-1 1-4 1 32 2-12 1-19 0-2 1 31 1 20 0-51 3 46 0-41 1 22 1 18 0 1 1-10 1 28 6-55 0 0 0 30 2-7 1-28 1 55 0-42 8-17 0 59 0-16 1-22 1 16 0-20 0 4 0-6 1 12 1 15 2-1 1-2 2-17 1 2 1-20 1 8 1 41 2-42 1-11 1 74 2-69 0 6 2-9 1 2 2 48 2-43 1 19 5-19 1 43 0-21 0-66-77 14 0-33 1 11 0 29 2-12 0-49 0 44 0-42 1 23 1 0 0 48 0 0 2-63 0-8 0 36 1 13 1-20 0 40 1-3 1 6 1-12 0-33 2 26 0 16 1-63 0 47 1-15 3-24 0 33 0 12 0 11 0-56 1 38 0 14 1-31 0-15 1 26 1 8 1-35 2 16 0 4 3 30 2-29 0-22 1 38 0-6 4-24 2 9 1 19 1 3 1-5 1-12 0 11 1-2 0 2 2-18 0 30 0-31 1 25 1 10 0 1 2-24 1 22 1-1 2-9 0-20 1 28 3 8 1-36 8 6 2 17 0-4 2-4 2 19 0-15 1-3 0 1 1-22 1 22 2-21 1-61-79 21 6-2 8-1001-14-19 1 5 1-8 2-5 0 7 2-11 1 12 0 6 1-18 3 22 1-14 1 13 0 6 1-21 0 16 1-25 1 27 0-10 2 13 2-5 3-19 2 20 1 8 1-14 1-17 1 6 1-7 0 23 1-13 1 8 0 2 6-21 4 21 1 12 2-35 3 9 4-1 1 29 0-25 1 23 1-11 0-3 1-5 0 8 0-18 1-4 2 26 0-1 1-4 1-5 2 5 1-14 5 29 1-23 0-9 0 33 1-22 0 11 1-10 0 11 1-7 2 19 4-47-77-10 2-2 4 15 4-9 2-5 0 14 3-6 1-3 1-58 0 56 2-5 1-1 0 2 2-17 1 28 0-74 2 54 2-46 2 17 1 24 0 28 1-47 1-7 2 51 0-42 2-30 0 26 0 44 0-12 1 11 2-29 1 5 0 8 3-11 0 27 1 0 1-28 3 14 1-29 0-23 3 45 0-7 1 33 1-38 0 13 1-49 1 33 1 38 7-9 0 11 0-10 1-18 1 32 1 0 1-6 1-12 0 18 0-37 1 34 2-13 1 15 0-16 1-62 0 75 0-94-49-47 10 22 5 27 5 9 1-70 10 42 2-122 12 113 14 34 3 8 1-75 3 51 13 7 15-22 23 43-64 29 1-4 1 18 1 34 3-33 3 16 1-37 1 23 0-40 1 67 1-23 0-13 3 17 1 19 1-15 2-1 0 11 1-13 0-20 0 32 2-3 0 4 1-27 1 21 0-12 0 16 1-24 1 24 1 12 2-45 0 12 0 20 0-3 0 11 14-33 1 29 5-49 5 49 2-35 1-3 3 3 2-17 3 52 3-12 2 10 1-18 5 7 2 52-79-25 1 24 2-1 1-5 3 15 1-16 0-3 0 3 2-12 4 16 0-6 1 11 0-26 1 0 4 26 1-13 0-10 0 42 3-26 3 16 1-34 1 49 2-47 0 3 1 35 1-33 2 43 2 1 0-39 1 23 1 14 1-28 0 36 0-15 2-21 1 33 6-35 1-15 0 34 1-40 1 41 1 32 0-47 1 26 2 5 1-47 0 36 1 10 0-59 1 54 1-17 0-17 1 47 0-34 1 46 0-47 1-2 1 22 0-45 0 52 1-58 1 78 1-11 0-16 2-3 0-47 0 73 1-7 0-63 1 48 0-32 2 49 0-22 2 20 0-12 1 12 1-56 1 43 1 35-15 5 4-4 4-1 3 1 4 945-33 1 3-15 3 7 2-9 1-5 2 13 1-4 4 14 3-25 1 3 0-14 0-12 1 29 0-27 0-5 5 48 2-48 0 49 0-46 1 46 0 0 1-39 1 26 0 11 1 69-78-1 4 13 3-25 0-11 0 22 2-9 1-13 0 8 0 26 1-7 0 13 1 0 1-11 0 8 0-22 0 6 2-17 0-1 2-5 0 9 4-24 0 42 0 13 4-45 1 19 3-41 0 43 1-31 0 56 0-32 1-33 0-1 1 3 1-9 1 21 0-5 1 7 0 30 0-21 1 37 1-13 1-25 1 34 0-15 1-35 2 28 0-8 1-4 1 31 3-27 0-6 2 23 0-39 1 30 0-40 1 55 0 8 1-5 1-18 2-1 0-41 1 24 1 19 1-26 2-21 0 71 1-46 2-26 1 31 0-27 2 11 1 2 1-12 3 13 0 43 0-36 1 21 2 13 2-5 1 32-77-5 1 32 0 0 2 13 2 6 0-26 3 16 1-44 3 5 1 3 4 44 0-26 3 23 0-47 1 74 3-6 2-42 1-20 0-3 4 21 0 1 2-4 3 27 2-33 0 20 0 16 1-48 4-2 7-3 4 23 5 5 2-24 11 50 6-53 1 87 5 36 1-121-5 8 0 31 19-122-17 0 1 33 1-6 1-27 0 37 1 42 0-64 1-6 0-1 9-5 1 55 1-32 8 16 3-31 2-3 0 37 5-37 2-4 11-43-49 15 1-30 0 48 3-50 0 4 0-25 2 15 1 17 0 12 3-12 2-1 3-7 1 14 1 32 2-48 1 5 2 48 3-58 0 3 2 32 0 9 1-15 1-32 1-2 0 12 1 12 1-36 0 19 1-16 2-1 2 17 2 2 1-23 1 27 1 50 3-55 2 22 1-22 2-13 2 29 7-21 4-2 7-26-70-3 3-20 2 13 0 12 1 5 1-16 1-4 0 9 0 12 4-29 0 22 2-60 0-1 1 59 0-62 0 69 1-55 1 17 0 0 1-18 0 30 1 23 1-54 0-9 0 15 1 26 0-17 0 0 1 34 3 1 4-11 0-43 0-11 0 19 0 24 2 14 0 6 0-39 1 25 0-9 1-38 2 46 0 20 0-39 4-3 5 5 1 38 0-15 1-6 0-10 1-37 1-5 1 46 0 30 3-16 1 2 0-44 1 15 0 38 0-30 2-41 0 22 1 7 0-25 1-3 2 4 0 55 1-53 0 62 2-58 2 48 2-29 12-15 0-35-62 19 1-4 2 1 0-28 1 10 0-35 1 36 0-4 3-47 1 15 1 53 1 0 0-14 0-4 2-45 1 0 0 14 1 2 1-29 0 38 0-6 1 14 1 28 0-12 1-7 1 21 0-53 0 53 0-52 2 40 2-31 0 29 2-6 0 8 2-46 1 2 0 14 1-1 1 8 2-1 0-26 1 7 0 0 1-2 0-12 0-3 1 44 2-25 0-7 0-6 1 61 0-54 1-3 0 47 3-36 1 11 0 8 0-38 2 0 0 68 0-39 1 2 2-26 2 45 0 11 3-34 4 38 2-52 1 53 1-79-49-14 4 9 3-28 2-15 3 40 1-17 0-10 1 15 1-4 0 25 1-17 1 0 0 15 1-31 0 38 0-35 1 18 0-52 1-3 0 67 0 1 2-3 0-27 1 30 0-4 1-18 1-15 0-8 0-23 0 20 0 18 1-13 0 12 0-9 1 8 0-26 0 10 1 49 0-32 0 23 3-5 4-10 2 5 0-1 1 23 1-35 1 2 1 10 1 22 0-47 1 48 0-75 1 26 0-1 1 29 0-33 2 39 0-12 0-23 1 29 1-59-27-2 2-2 5-43 2 45 1-48 4 22 0 3 0-24 1 11 2 2 1 6 1-42 2 25 1-9 1 15 0 27 1-31 2 33 1-55 0-16-6-21 1-8 2 12 1-23 1 32 1-378-10 3 4 13 0-4 0 0 2 25 3-43 0 27 1-105-39 3 2-8 1 3 2 12 0-16 3 15 2 7 4-7 2-8 0 45 1-12 0-11 1-14 0-14 0 38 1 2 0 4 1-38 2 38 1-39 0 20 0-16 1 19 0-8 0 30 1-12 2 8 0-15 0 5 2-1 4-36 1 0 2 47 0 4 3-104-79-24 1 9 1 14 2-14 1 2 4 10 2-17 0 10 3-9 0 32 2-30 3 39 1-8 1-40 0 25 0-12 1-8 2 14 0 38 1-31 2-6 1 13 1-23 0 43 2-30 0-21 0 38 0-31 1 57 0-12 0-46 0 9 0 28 0-20 1-26 0 39 0 13 0-21 1-12 0 20 2-5 0-26 1 38 1 17 0-31 3 10 1 5 2-21 1-4 0-14 0 41 0 8 2-23 1-14 0 43 1-17 0 0 1-12 1 30 1-55 1 22 0 36 0-15 1-4 2 30 2-55 0-22 1 71 0-38 1-3 1 8 0-23 1 42 4-22 1 41 0-68 2 70 1-36 0 35 0-13 3 3 0 8 1-25 2-50 1 23 1-46-77-7 0 14 1-2 2-25 0-2 1-6 0-29 1 63 1-61 3 57 0-22 0-21 0-8 3 31 0-5 0 32 4 9 1-39 3 35 2 0 0-18 1 5 1-58 0 62 6-2 2-44 4 41 1-5 3-20 3-2 1 42 1-27 2-43 1 65 7 9 1 1 1-8 0-21 1 26 5 0 8-84-70-44 2-1 3 19 3-24 2 57 9-51 2 25 15 16 8-17 4-87-30 28 70 102 9 96-13-9 0 40 1-30 1 33 0-34 1-25 0 9 0 53 1-32 5 17 4-7 0 1 5 23 7-36 15 44 7-60 5 58 4-40 11-15 2 106-75 2 0-40 1 29 0-8 0 31 1 1 0-26 1 9 1-25 0-19 1 73 1-37 0-14 2 3 0 4 0-5 1 13 0-24 0 39 1 12 3 2 1-19 0-15 0 1 1-10 0-10 2 4 0 57 2-31 2 10 0 18 0-65 0 61 1-9 1 5 2-24 0 12 2-28 0 24 0-22 6 30 10 4 5-28 2-30 0 12 9 7 10 38 0 56-68 33 0-43 1 19 0 2 0-8 2 26 1-34 0-24 1 19 1 26 1-13 1 33 0-22 1-47 1 18 2 33 1-32 0 50 0 6 0-22 3-17 0 4 1-5 0-36 0 44 0-12 0 21 0-10 1-35 0 52 1-59 0 29 0 46 1-75 1 15 1 58 0-50 0 22 1 24 1 1 1-48 1 54 0-57 1 33 1-28 2 50 0 0 1-18 3-15 1-5 5 7 1-35 0 44 3-14 0-9 1 22 0 11 4-25 3-35 4 56 1-40 0 56 3-43 12 69-67-20 0 28 4-15 1 19 1 25 0 6 1-26 2-24 1 5 1 9 1 38 0-19 1 20 0-32 1-9 0 15 1 16 0 4 1-43 0 1 1-2 3 2 1-5 0 10 1 25 0 23 1 5 1-69 1 36 0 17 1-59 0 76 1-54 1 10 2 14 0-31 0 24 2 28 1-59 0 61 1-45 2 3 0 41 1-69 0 57 1 5 0 13 1-9 1-65 0 70 1-12 0-46 1 47 2-22 0-24 0 43 3-7 1-1 7 0 1 26 2-48 1-28 0 16 1 9 0-2 0 24 2-25 1-8 0-3 2 96-58-25 0 35 1-32 0 47 2-45 0-4 0 71 1-18 0-27 2-6 1 6 0 22 1-35 2 15 0 16 0-36 3 10 0 15 0 37 1-13 1 12 1-23 0 11 0 1 1-30 1 30 0-1 1-10 0-23 1-3 0 10 1 8 1 19 1-7 0 7 1 6 0-6 0-6 3-18 1 21 1-11 0-36 1 18 0-8 2 40 1-11 1 16 1-41 0 46 1-71 0 49 0 28 0-40 1-23 1 6 4-6 1 31 1-17 0 39 7-7 2 7 0-7 1-26 2 10 0-5 1 25 0-22 1 37 3-65 3 65 2-40 0 114-74-2 3-15 2-34 0-12 2 43 0-41 0-6 1 66 1-47 0-7 1 7 0-7 1 17 0 29 1 15 1-52 1 23 0 8 1-39 0 7 1-10 0 16 1-30 1 39 0 1 3 10 3 23 1-31 0-38 1 60 1-49 2 59 0-72 1 8 1 31 0-23 0 38 1 8 0-33 0-1 2 5 0-8 1 40 1-33 0-23 1 14 0 42 1-43 0-6 1 59 0-3 0-66 2 7 1 56 1 4 3-45 1 28 0 13 1-12 0-3 1-16 1-32 1 28 2-17 1-4 3 59 1-13 2-49 2-9 1 42 2 9 1 7 3-7 3-7 0 61-76 7 0-15 3 48 3-2 1-20 0 10 1-30 1-7 1 25 0-17 1 2 1 45 1-18 2 6 0-15 2-22 0-4 0 28 1-27 0 32 1-42 2-13 2 52 1-13 0 8 1-42 1 46 2-15 1-32 0-1 0 37 2 0 1-38 0 34 3-33 0 58 0-50 2 47 0-12 1-15 1-4 0 16 1-4 0 27 1-52 2 3 0 5 1-3 1 49 2-67 1 40 0-33 3 49 9 0 4-21 3 9 2 3 3-1 2 23 2 65-77-24 0 2 0-23 1 46 0-41 0-10 1 38 0-26 0 26 9-14 0-21 1 17 1 50 0-22 1 12 0-32 1 18 1 16 2 3 0-49 3 14 0-32 1 24 0-28 0 42 0-15 2 16 0-12 3 48 1-28 3 28 1-24 1 23 0-25 3 18 3-7 2-40 3 1 0-18 6 65 3-49 2-20 1 36 0-4 0 40 1-19 10-22 2 57-69 50 4-29 3 13 0-32 1 43 0-24 1-8 2 54 2-8 0-20 1 16 1-48 2 0 1 48 1 10 1-2 0-63 1-1 1-9 2 64 2-31 1 34 0-26 0-16 6-4 3 29 2 10 0-21 9 35 17 3 6 76-66-63 1 15 0 43 1-48 1 28 1-34 2 24 6 35 1-13 4-25 3 40 1-42 0 40 4-47 3 8 2 9 9-5 4-29 1 107-47-20 1 3 0 28 38-23 10-184 35-40 11-99-13-6 4 9 1 13 8-1 10-52-25-64 0 60 4-1 1-33 1-26 4 63 4-10 5-39 17-82-36 57 4-43 2 34 3-14 0-28 12 16 8-59-24-13 2 19 15-127-17" marker-start="url(#mb)" marker-mid="url(#mb)" marker-end="url(#mb)"/></g>
<path d="M404.5 372.5L405 381L406.5 386.5L408 389.5L412.5 395L413 396.5L419.5 402.5L424.5 406L434 411L443.5 414.5L447 415L450 416.5L458.5 418.5L462 418.5L464.5 419.5L480 421L496.5 421L511.5 419.5L514 418.5L518 418.5L541 413L544 411.5L566.5 406L570.5 406L573 405L583 404L595.5 401L606 396L611.5 392L617 386L619 381.5L618.5 377L617 374.5L614 371.5L601 364L581.5 354.5L576 352.5L571.5 350L569 349.5L564 346.5L561.5 346L544.5 337.5L543.5 336.5L535 332.5L532 330L529.5 329L521 323.5L516.5 321.5L512.5 318.5L510 318L504.5 315L495 311.5L482 309L467 309L458.5 310.5L455.5 312L451 313L440 318.5L433.5 323.5L432 324L420 336L413 346.5L408.5 355.5L408 358.5L406.5 361.5Z" fill="#6495ed" fill-opacity="0.94" filter="url(#bl)"/>
<path d="M88 148.8L112.5 90L152.5 49.5L246.2 22.5L286 52.5L312.5 76L330 95L345 115L353.8 135L361 167.5L357.5 205L348.8 236L337.5 261L322.5 271L292.5 285L260 281L230 275L187.5 253.8L165 236Z" fill="#32cd32" fill-opacity="0.5" stroke="#32cd32" stroke-opacity="0.7" stroke-width="1.5" stroke-linejoin="round"/>
<g transform="scale(0.2)" fill="none" stroke="none"><path d="M1231 112l-41 28-265 72 112-14 8 30 79-51 102 50 204 35-32 41-2 8-24 1 15 5-7 2-28-58-65 26-6 6 15 1-7 0 24 2 4 4-30 0 44 1-8 0-35 10-4 2 58 0-5 0-32 1-19 0 9 3 44 1-76-69-26 0 2 1 6 21 24 1 1 5-70 1 20 5 21 5 8 1-2 3 12 1-22 0 4 1-39 2 76 0-57 3 4 1-15 3 30 1-19 1 38 0-3 3-46 1 28 0-25 1 2 2 12 0 1 0-3 1-14 1 24 1-3 2-16 0 50 0 7 1-27 0-10 1-20 0-52-69-29 1 58 11-70 3 35 5 7 6-8 1 38 1-28 2 20 3-59 1 47 5-19 1 42 0-43 0-8 1 10 1 3 3-38 1 30 3-6 1 8 1-7 0 42 1-31 1-35 0 29 1-32 0 64 0-11 0-47 1 62 0-37 1 27 1-32 0 29 2-10 0-18 4 40 2-18 1-16 0-21 1 10 0-10 2 67 0-138-52 16 5-4 3 7 2 33 9-54 5-8 10 9 5-15 3 17 4 37 2-33 1 14 1 12 1-6 1-32 0-81-78 49 27 17 19-4 16-10 2-26 1-20 1 45 4-37 5-1 0 25 1-47 2-12-19-63 1 30 1 31 1-44 13 53 0-74 1 11 1-53-46 21 24-54 18-48-66 29 11-68 38 40 36 20 29 15 4 0 8-31 10 10 2-10 10-2 1 105-76 6 1-39 27-32 4 26 2 38 11-6 1-29 1-8 0-24 3 15 1-12 6 69 4 1 4-19 2-24 0 16 1-11 0-25 1 4 0 63 2-72 1 42 1 24 0-59 1 4 1 15 1 43 0-19 0-46 0 7 2 138-79-43 3-9 1 18 9-3 3 9 1-26 4 40 1-3 0-36 1 11 2-13 2 10 2 2 0 40 1-18 2-6 2 1 2 22 1-2 2-19 0-11 4 2 0-8 0 1 1 12 1 31 4-50 0 14 1-2 0 11 0-26 1 22 1 16 0-40 1-11 0 53 0-25 1 27 0-17 1 24 0-66 3 1 0 7 2 59 1-43 1 26 2-10 1 30 1-40 4 10 1 7 1 4 1-53 1 66 0-45 2-14 0 60 1-52 1-9 0 19 0-8 1 101-77 26 3-58 0 36 1 10 2-41 0 12 0 4 0 8 1-2 2 25 3-44 0 54 1-65 5 63 0-19 2-20 1 39 1-36 2-16 2 37 0-21 2 18 2-14 2-8 1 37 0-7 2-5 0-20 1 35 0-34 1 38 0-21 1-2 1 2 1-10 2-10 0-8 1-20 0 25 1-26 1 67 1 2 1-37 1 20 4-9 2 4 1 4 3-51 0 31 1-29 0-4 1 57 2-50 0 43 1 14 0-65 1 9 3 33 2 12 4-41 1-9 1 11 2-6 0 81-79 21 0-31 1 31 3-9 0 14 1-23 1 9 0-9 2 53 1-32 1 33 1-7 0 11 0-25 1-2 0 15 3 7 2-61 0 36 1 16 0-21 1-32 1 0 6-6 0 70 2 4 2-39 1-5 1 44 0-52 1 16 0 34 1-13 1-40 2 53 0-64 1-3 0 40 1 31 2-58 1 7 4-16 2 32 1 30 0-4 1-7 0-46 1 57 2 1 0-43 1 3 0 30 1-16 1-42 0 15 0-6 1 58 0-10 1-31 1-25 0 20 1 47 1-49 0 32 0-19 1 9 2 5 0 23 0-64 1-9 0 3 1 25 0 30 1-53 0 71 2 26-69 6 1 23 2-50 1 40 0-19 1 47 0-68 1 46 4-25 0 48 1-52 0 21 1 37 1-76 1 29 1 34 2 5 0-23 2-26 2 25 0-13 1-21 1 13 0 2 3 16 2-30 1 53 3-26 2-4 0-9 0 8 4 41 0-57 1 14 2 25 2-32 1 13 2-27 0 56 0-13 0 8 1 5 0-19 1 21 0-54 0 9 3-9 0 10 2-4 1 2 0 49 4-31 3-33 0 65 1 5 0-30 0 20 0 8 1-29 1 22 1-23 2 5 0 13 2-30 1 115-70-57 2 3 0 61 0 1 1-44 1 9 1-20 0-14 3 30 3 39 0-21 3 5 0-49 1 9 1-20 0 39 1-20 1-4 0 21 1-29 1 41 0 27 0-15 4-47 1 64 0-20 1-18 0 22 1 0 1-11 1 5 1 0 0-47 1 18 0-24 1 36 2-22 0 5 0 44 1-4 0-51 2 3 2 63 4-58 3 6 1 1 0-9 1 35 0-30 1-11 1 44 0-17 0 34 0-36 0 5 1-8 1 12 1-2 1 24 4-9 0 2 0-56 2-2 1 75 0-54 0 36 3-47 1-3 4-1 0 117-68-42 0 26 0-16 4 21 1-20 0 42 0-9 3 2 5 27 3-30 1 19 1-48 0 59 0 3 1-66 1 3 2 0 0 47 0-34 1 26 0 4 3-45 0 4 2 19 0-4 1 30 0 4 1 12 0-67 0-2 1 5 0 1 2 38 0-20 1-3 0 11 0 24 8-28 2-19 1-2 1-14 0 25 1-11 2 7 0 40 1-63 0 34 0 25 1-13 0-12 1 33 4-55 1 47 0-2 1 20 0-67 1-4 0 69 0 3 0-10 0-32 1-15 0 39 0-47 2 28 1-7 1-6 0 18 1 25 4-62 0 32 2-2 2 7 2-3 0-17 1 48 0-36 1 67-76-4 2 17 20-13 1 4 1-4 1 23 3-15 3-14 1-2 0 5 1-1 2 12 0-9 0 7 8 25 2-42 1 19 0-3 2-9 0 27 1-33 1 9 0 32 2 8 1-33 2 17 2-14 1-10 0 13 0-23 1 5 0-2 1 29 1-33 0 54 0-66 1 72 0-24 1-19 1 43 1-33 0-22 1-19 0 14 3 45 0 7 2-55 0-8 1 59 2 5 0-56 1 46 1 49-42 44 9-59 18-1 10 112-13 46 68 42 27-91-61-32 7 37 3 5 1-43 7 26 2 9 9-39 10 6 2 13 3 11 0-29 3 19 1-3 0 7 3-24 2 31 8-23 0 14 0-76-75 14 5-32 0-4 1 11 2 62 6-78 1 11 1-5 2 9 0-16 0 58 3-45 2 51 0-60 0 40 4-41 0 3 1 25 3-17 4-9 1 21 2 16 3-20 0 1 0-9 1 15 2-1 1-2 1 6 2 14 1 17 1-40 1 13 1 8 0-2 2 16 1-22 2 15 0-20 2 33 1-17 2 12 8 9 1-7 3-5 0-5 3 1 1 8 1 19 0-150-79 55 0-46 0 31 3 10 0 15 0-20 0-26 1 9 1 34 0 6 2-13 1-28 2-3 0 15 3-20 1 26 1-13 2 23 4-17 1 17 0-6 1 20 3 0 4 1 3-3 0 1 1-81-32-4 0-400-2-7 1-43 0-16 0-4 0 5 2 47 1-52 3 40 0-27 1-14 1 19 0-15 1 27 2-46-11-35 3-14 1 48 2-2 1-24 1 1 1-12 1 22 0-21 0 5 0 27 2-61 0 52 0-47 1 34 0-3 3 39 1-38 1-9 3 40 4-38 1 40 0-46 0 25 1-30 1 22 1 8 1-16 2-21 1 31 2-21 2 10 1-7 2 1 0-11 3 17 4-23 0 14 4 0 1 1 0-13 3-5 4 11 1-17 3 9 4-9 5-69-71 40 1 2 1-15 3 4 2 16 0-3 2 10 1-25 5-24 1 53 4-4 2 11 2-50 1 22 1 18 0-1 2 14 0-23 5 11 0 7 1-25 4 28 3-15 0 14 3-12 1-17 0 4 1 3 0-14 4 39 1-53 1 47 1-20 3-9 0 30 2-11 1-18 1 24 2-18 1-13 2 26 3-61 2 63 1-39 1 25 0 4 4-91-69 33 8-71 8 38 16 23 23-45 1 35 0 18 8-79-32-75 9 70 10-63 38 62 5-28 7 25 14-18 18 7 5 92-65-20 7-30 0 24 2 5 2 31 9-74 1 70 1-72 8 57 0-29 4-28 1 30 2 39 0-65 3 49 1-34 0 51 1-45 3 12 1 23 2 5 0 11 2-15 0-7 0 10 3 3 1-46 0 46 0 0 1 0 2-16 4-1 0 18 1-42 1 49 1-8 2-2 0 4 1 4 1-13 0-13 2-19 1-6 5 36 1 34-78-1 0 22 0 6 1-33 0 1 5 52 0-11 1 0 0-4 1-8 4-2 0-16 1 11 1 13 1 9 6-53 1 58 3-38 4 21 2 16 1-44 2-2 1 28 1-14 1 16 2-29 2 6 1 14 1-9 0-24 4 30 0 22 3-46 3 16 0 23 1-20 0 15 0-3 1-27 0-9 2 22 4-20 0 32 1 10 2-39 4 3 0 2 2 14 1-16 0 13 1-6 2 764-72 7 0-12 3 17 4-16 0 22 1 1 3-19 1 13 5 2 3 2 0-9 5 7 4 1 3 2 17 27-52-5 0 8 0-28 2 21 3 33 3-36 3-2 1 13 1 9 1-5 3-5 3 18 1-1 1-15 1-23 1-3 0 56 1 1 1-27 1 13 1-18 0 13 1 35 0-56 3-10 0 6 1 19 1 9 0-37 3 32 0-17 0-22 2 45 0-41 3 5 0-3 0 6 2 12 0 21 1-46 2 51 0-9 0-30 1 41 0-15 0-5 1-19 1 7 1-19 1 56 1-39 1 37 1-43 1 34 0-25 0 12 1 23 0-16 0 14 1-6 0-24 0 19 0-12 1-25 0-2 0 40 2 29 1-71 0 21 1 15 2 1 0 20 1-10 1-9 0-8 1 22 0 20 1-44 0 36 0-40 1 33 0-31 1 5 0-9 1-3 0 43 1-1 0-38 1 18 1-14 1-14 0 46 1 15 1-29 1-9 0 41-71 63 20-62 7 4 8 66 3-44 7-15 2 18 2-20 6 57 6-66 4 55 1-51 1-1 1 35 0 60 11-18 29 40 2-19 9-19 21 14 4-97-70 10 1 26 2 11 2-41 2 41 2-32 1-2 1 16 3-19 4 22 2 24 4-47 0-1 1-4 1-4 1 56 1-31 2-17 0-7 1 13 0 30 1 5 1-44 0 6 0-4 1-4 1 41 0-19 2 26 0-51 0 41 2-37 0 15 1 30 0-38 2 48 1-23 0-35 1 46 0-28 0 37 1-38 0-3 0 25 2-11 1-18 1 22 1-20 2-13 1 0 1 24 0 34 0-44 1-11 1 15 1-3 0 28 0-19 0-15 0 51 1-58 1 1 2 11 0-10 1 72 0-7 1-37 1-29 0 36 0 10 0-26 2 31 1-5 0 11 1-47 1 15 1 18 0-18 1-14 1 13 2 27 1-42 0 9 0-21 0 55 0-26 0-10 0-11 0 57 0-28 0 10 1-21 0 40 1-29 0-12 0-2 0-43-79 0 0-8 0-36 1 18 0 7 0-17 1 29 1-6 0 31 0-27 0-17 1-7 1 11 1-16 1 44 1-46 1 49 0-55 1 35 0 26 1-55 0 59 1-19 2-35 0 46 1-40 1-16 1 54 0-14 1-16 0 31 1-24 0-16 1 19 1-14 1 7 0-18 2-3 1 56 0-58 0 5 0 4 1 25 0-24 0 19 1-5 2-20 2 1 1 6 0 44 0-22 1-17 0 13 0 25 1-4 0-6 0 12 1 1 1-18 0 18 3-43 0 6 1 16 0 13 1-27 0 16 1-13 0-7 0 29 0-15 0 23 1-16 3-12 1 16 1 17 3-8 3 4 2-22 2 12 1 7 1 1 0-1 2-5 1-7 2-1 0 12 4 4 1 0 3-8 1 6 0-867-73 4 9 4 1 17 2 6 4-9 1 3 1-31 5 12 2-3 1-5 3 0 2 9 3 7 4-16 1 2 1 15 4 8 2-8 2 3 3-7 1-6 1-7 3 1 2 14 2-14 4 24 2-9 0-15 2 5 0 7 4-11 4 19 1-103-78 75 0-47 1 24 0 13 2-35 1 42 1-45 6-24 5 21 3-5 0 30 0-14 3-4 0-20 1 48 4-36 3 34 1-37 2-2 2 51 2-51 0 27 2-46 1 78 0-63 1 5 5 8 2 37 2 12 1 0 0-15 2-51 0 11 1 30 0-9 0 25 3-36 0 20 0-41 3 54 2-35 0 14 0-26 5 47 0 8 2-24 2-33 2 62 1-66 0 24 1 35 1-55 1 18 0 26 1-56 1-2 0 57 0-78-72 14 9-35 2-34 2 26 7 30 6-32 18 18 3 15 1-26 2 28 1-35 2 47 2-16 2 5 7 11 2-47 0 3 1-3 4-61-39 14 33 8 33 0 12-1 34 42-69 22 2 22 0-35 2 32 0-10 3 11 1-49 0-2 3 17 0 24 1-9 1-26 2-14 1 52 2-63 0 29 0 39 4-13 2 19 2-28 1-27 1-8 0 46 5-3 0-45 0 50 1-40 0 18 0 16 1 14 1-18 4 14 3-34 0-23 1 68 0-41 3 25 4-25 1 30 0-28 4 23 0 9 2-9 6 1 2 13 1-28 0 9 0 0 8-53 2 106-75 8 2-13 1 44 0-57 1 11 2 51 0-11 2 2 0-50 2 3 2 48 0-57 2 5 0 7 2 23 0-19 0 33 1-49 0 12 2 57 1-23 0 9 0-47 0 2 1-16 2 10 0 61 2-35 0 9 0-45 0 63 1-66 2 17 0 43 1 16 1-37 0-1 1-4 1 42 0 2 0-78 4 3 0 45 1 25 0-17 3-38 5 10 0-20 0 70 1-4 0-74 1 39 0 18 1-56 1 15 1 19 0 9 1 4 0-14 0-28 1 14 0 10 0 43 0 0 1-11 0-1 0-38 1 33 0-2 0-34 3 25 0 13 0 14 3 3 2-18 0-42 1 53 1 7 2-15 0-56 1 56 0 6 2-63 2 45 1-2 2-34 0 16 1 16 0 53-79-1 1-12 3 23 6 0 0-10 0-9 3 18 7-23 1 19 4-6 1-7 6 10 1-16 2 19 7 0 2-2 8-20 1-1 2 23 0 8 1-27 1-3 0 26 1-26 4 3 0 22 11-21 4 11 2 863-78-9 1 8 14-2 6 14-22 2 2 5 3 27 0-27 0-10 1 56 0-62 1 41 1-31 0 5 1 14 0 7 1-36 2 37 0-30 2 1 0 4 3 41 2 4 0 17 0-30 1-22 0-22 1 35 1-21 1 10 0 47 1-63 0 28 0 3 1-26 2 16 1-23 2 18 0-18 0 1 2 32 1-11 0 48 0-60 1-1 0-8 1 31 0 12 1-18 0 27 0-32 0 43 0-43 1-3 0 18 1-18 0-3 0 0 1 8 0-6 1-10 0 29 0 6 1-24 0 33 0-42 0 37 0-17 2-6 0 28 1-37 2 5 1-16 0 32 0-22 1 27 1-9 0 13 1-28 1 22 0 30 3-41 0-13 0 18 0 21 0-31 1 8 0 9 1-25 1 39 2-45 0-4 1 22 1-13 0 12 0 36 0-6 0-41 2 11 0 8 0 39 1-26 1-16 0-27 1 64 1-13 0 18 0-58 5 11 0 11 1-2 0 19 1 2 0-11 2 3 1-19 1 22 1 79-79-4 14-38 4 2 11 50 6-51 4 38 2-31 2 14 7-14 7 42 2 11 8-25 6-14 1-12 1-23 2 81-3-56 10-24 1 26 2-27 0 7 3 19 0-18 2-7 0 10 0-11 0 21 1-17 0 37 1-17 2-22 2 16 1 3 2 48 5-70 4 11 1-7 3-4 2 16 4-13 1 14 0 11 5 5 1 38 3-65 1 48 6 19 1-48 2 7 0-7 2 9 1-17 1-10 1 38 0-33 2-7 0 6 1-7 1 28 1-23 1 16 2-19 1 23 3-17 0 28 2-96-79 39 0-19 1 25 0 7 1-51 0-7 2 48 0-50 1 28 0-9 0 42 1-22 0-16 0-17 1 33 0-28 0 21 0 11 1 13 0-15 1-20 0 39 1-11 0 12 0-51 1-8 2 49 1 10 1-38 0-19 1 40 1-36 0 28 1-3 1-17 0 4 1-9 0 36 1-43 0 34 1 17 0-29 1-21 1 26 0 20 0-27 1 35 1-11 0-31 1-2 0 33 1-43 0 27 3 17 0-17 1 6 0 22 3-24 1-5 1 18 0-34 1 10 1 25 0-29 1-7 1 14 2-3 0 31 1-24 0 19 0-15 0-10 0 36 0-16 1-7 1-22 1 6 1 2 0 12 0-7 1-23 0 25 0 0 1 10 0-25 0 8 1 36 3-43 0 23 1 4 0-32 1 15 1 20 0-16 1 14 0-38 1 11 0 19 0-23 1-5 1 13 0 38 1-19 1 3 1-10 1-15 0 19 0-17 1 4 2 17 1-19 0 21 1-8 1-3 2-2 1 27 0 0 1 4 0-34 1-6 0 7 0 33 0-15 2-36 0 29 1-2 0 16 0-40 0-900-78 26 1-9 3 3 0-26 0 17 1-5 1-2 4 19 5 1 0-20 1 15 2-13 0 25 4-13 3-14 1 13 1-20 1 11 0 5 1 23 1-38 4 32 0-27 1 21 2-30 1 6 2 21 2-4 1 15 0-40 5 16 0 35 2-1 0-1 1-7 1-36 0 29 1 16 1-28 0-1 1 1 2-8 0 22 2-20 1-9 1 38 1-32 1 20 0 5 1 3 2 6 4-43 0 39 1 11 3-54 0 38 2-2 0 4 1 12 1-121-78 64 1-43 0 0 1 30 2-13 0-9 2-3 1-36 2 4 0 29 0 38 0-17 1 18 2-29 0-32 2 38 2-3 1 3 0-5 1-49 0 53 1-48 0 24 0 29 0 15 1-67 1 65 0-5 3-34 0-19 2 56 0-6 1 0 0-48 1-12 0 5 0 49 2 8 0 3 1 2 0 9 0-24 1 0 2 10 0-64 3 74 0-12 0-4 0-6 1 1 0-17 1-4 1 6 3 21 1-50 1 31 0 15 3-7 1 10 3 12 1-48 0 5 1 27 0 8 1-48 1 4 0 15 2-6 1 30 0-7 1 8 0 6 1-26 0-20 2 29 1 30 1-42 4 0 0 25 2-36 0 39 1-1 3-2 1 0 1-47 1 27 0 16 0-72-79 7 2-16 1-4 2-3 4 27 1-8 0 4 1-4 4 11 2-3 1-7 3 9 0-9 2 7 3-59 1 55 1-6 2 3 7-64 2 72 1-27 1 10 2-32 1 3 1 41 6-30 5-18 0-2 4 6 5 44 0-2 2-20 1 13 0-13 1 24 1-21 0-28 4 27 3 18 2-75-64-35 8 24 3-32 2 46 24-38 18-15 1 40 0 44 9 40 10-35 12 27 12-3 5 11 4 73-43-23 1-16 1-11 1-4 7 64 3-56 0-4 0 57 0-31 2 24 1 9 0-46 0 47 1-27 0 21 1-14 0-4 1 17 1-50 1 7 0-6 0 14 1 45 2-53 1 36 1 17 3-70 0 66 2-39 1 36 1-17 0-6 2-20 0-4 1-6 0 26 1 32 1 3 0-35 1 5 0 31 4-54 0 55 1-73 1 61 2-62 1 73 7-42 2 30 1-28 1 42 0-24 1 5 9 16 2-25 2-40 0-4 4 62 2 61-77-34 1 51 0-62 0 14 0 49 1-27 2-7 2-22 1 53 0 5 2-61 3 44 1 9 2-59 1 11 2 29 0 18 3-60 0 64 2-59 2 20 0-8 1 44 0 10 0 2 0-24 1-12 1 20 0-52 2 4 2-1 1 21 1-26 2 46 0 18 1-33 1-4 0 7 2 29 0-47 1 5 2 36 1-3 0-56 2 70 4-15 2 6 4-32 0-9 0 29 1-1 0-15 1 8 1 15 3-10 1-26 1-20 0 10 1 45 2 4 2-28 0-32 1 1 0 40 0-5 0-18 2 27 0 30 0-63 1 16 2-10 0 65-47 9 12-6 3 6 3-10 4 12 3-5 3 22 5-12 1-5 3 0 1 23 0-5 1 10 1-18 0-2 5-17 0 38 2 816-77-13 0-13 3 0 2 34 1-20 0 13 0-33 0 19 1 3 2 11 1-18 2 36 0-40 1 1 0 18 0 1 1-20 3 34 0-32 1 10 0-24 1 49 1-42 0 7 1-4 0-10 0 47 2-35 1-12 1 24 1 25 0-17 0-31 3-1 0 24 0 24 1-38 0-10 1 12 0 5 0 2 0 19 1-31 1 3 1 9 2-11 1 1 0 42 0-21 1-24 0 21 1 8 0 7 0 3 1-15 1-17 0-8 0 44 1-28 1-9 0-11 1-2 1 16 2-13 0 29 0-22 0 1 1 16 0 20 0-25 0 6 0 8 1-9 1-18 1-9 0 32 1 16 0-25 1 20 0-7 1-14 2-25 0 36 0-32 0 12 1 10 0-4 1-3 2 30 0-33 1-1 2 22 1-18 1 32 1-25 1 3 0 19 2-2 1 9 0-12 0-33 1 22 0-18 0 2 0 5 1 9 0-20 0-4 1 32 1-33 1 8 1 19 0-14 1 19 0 63-76-35 3 4 0-10 1 1 5 18 0 19 1-35 2 43 1-47 0 3 2 18 1 11 1-27 0 4 1 0 0 15 1-1 2-15 4-7 1 8 1 2 0 4 1-7 0-3 1 42 0-24 0-15 2-5 0 13 0 17 1-16 1-12 0-5 0 54 1-52 0 37 3-32 3 28 0-35 4 3 2 46 0-44 1 22 0-5 2-20 1 50 4 17 2-41 0 10 4-10 0-27 1 11 1 39 1-5 0-25 3-20 0 24 1-20 0 27 5 6 0 29 1-55 3 23 1-7 1 96-41-86 42-36 4 44 0 10 0-33 0 19 1-5 1-11 1-12 0-3 1 40 5-38 1 19 0 37 2-41 0 20 0-22 0-6 5-21 3 12 0-8 0 30 0-24 1 20 0 1 1-8 0-21 0 31 3-21 2-7 1 2 0 14 3-21 1 27 2 8 0-23 0 26 3-33 1 28 1-7 2-15 2-6 0 9 3 18 1 15 5 17 3-42 1-7 1 14 1 32 1-42 2 26 0-4 2-25 2-1 0 26 1-14 0-27 1 50 1 2 2-14 3-35 0 10 1 49 1-46 0-36-79 11 1-16 0 15 2-7 1 1 1-35 1-10 2 32 1-28 0 34 1-33 0 49 1-58 0 56 0-1 1-6 0-44 1 28 0-1 0 21 0 8 1-43 0 16 0-17 0 4 0 35 1-49 1 37 0-14 1-28 1 44 1-33 0 49 2-33 0 31 2-54 0 14 1-19 2 5 0-1 1 34 0-41 0 24 1-1 0 6 1 13 0-16 0 18 1 18 1-52 0-4 0 30 0-16 1 42 0-18 0-38 0 43 0-41 0 5 0 42 2-45 0 26 0 1 1-27 0 11 1 9 2 13 0 20 0-16 1-44 0 58 1 1 0-40 0 26 0-26 0 38 1-58 0-7 0 33 1 12 1-28 0-10 1 40 0 5 0 2 0-50 1 41 0 24 0-33 2-8 1 0 0 9 0 29 3-67 0 50 1-36 1 51 1 3 1-51 1 45 1 2 1-59 1 23 0-4 1 17 0 30 0-60 0 50 0-13 0-8 1-26 0 46 0-6 1-45 0-13 1 9 1 27 0-11 0 30 0 11 1-22 1 20 0-3 1-45 0-18 1 49 0 11 1-47 0 16 2 47 1-11 1-32 0-31 1 45 0-37 0 30 0 30 1-13 1 11 0-36 0-13 1 23 0 35 0-607-14-18 1 8 0 6 0-15 1-11 1 26 0-6 0-19 1 32 2 7 1 4 0-41 0 12 1 25 0-41 1 7 0 30 1-29 1 8 1-12 0-2 0 34 0-21 1 28 0 4 0-9 1-23 0-9 0 4 1 33 1-98-21 6 0-20 0 13 1-10 2 1 0 28 1-25 1-7 0 59 0 4 1-63 0-2 0 60 1-38 0 41 1-24 0-38 0 39 0-41 0 20 1 21 0-38 2 48 0 3 0 12 1-1 1-6 0 12 2-15 0-26 1-26 1 45 0 15 0-59 0 28 0-9 1-30 1 54 0 6 0-26 0-3 1-26 0 4 0 58 1-25 0-124-53 9 0 3 1 5 1-14 0 1 1 8 3 5 8 24 1-15 2-13 3 29 1 11 1-4 0-30 0 48 0-19 1-35 0 17 3 11 0-30 0 22 1 30 1-51 2 44 0-6 0 1 2-12 0 22 1-5 1-22 0-12 0 7 1 42 0-62 1-5 0 0 1 58 2-32 1-24 1 55 1-1 1-39 1 2 1 47 0-5 0 0 1 7 0-17 0-6 1 29 0 1 2-13 0-29 1-2 0 25 1-58 0 50 1-7 1-122-79 39 0-3 1-6 0 18 1-11 1 9 1-11 0-18 0 37 0-51 1 46 2-11 2 21 0-44 2 12 1 0 0 0 1 7 0 35 0-5 2-37 0 46 0-55 1-2 1 49 1-17 1 27 2-65 0 11 1 18 0 13 1 13 0-24 0 8 0 12 1-57 0-4 2 76 0-46 1 4 4-29 0 46 3-6 1-27 0 42 0-61 0 5 1 41 0 29 1-5 1-63 3 64 0-48 2 25 0 28 1-52 0-2 1 18 0 29 0-49 3-8 4 19 1 26 1-3 0 15 1-48 2 47 1-57 2 55 1 1 1-59 0 33 0 25 1-20 0-44 2-2 0 17 2 13 0-21 1 13 1 37 0-55 3 20 1 43 3-41 0 30 2-39 1-62-77-21 0 40 3-22 2-3 2-21 0 40 2 16 1-20 1 25 1-5 1 10 0-52 0 43 1-46 0 52 1-45 1 43 1-14 2-29 2-10 1-4 0-1 0 60 0-3 8-20 2 0 1 1 1-5 4 33 1-6 2-35 2 6 1-24 1 34 1-17 1-20 11 37 8-10 3 17 3-2 0-38 0 56 1-102-66 10 1-31 0 44 3-1 3-5 20-42 3 9 7 9 17 69 17 32 6 10 4-29 0 29 6-48 1 14 0 33 1-44 13 39 13 81-44-45 1-25 1 24 0 21 4 18 0-30 3-14 1 32 0-48 1 19 0 38 1-37 1 9 1 35 0-32 3-28 2 13 2 55 1-23 3 23 2-1 1-18 5 9 1-13 7-20 4 26 3-11 1 23 7 0 0-3 1-40 3 26 6-27 2 26 2-13 1 24 1-7 0 3 2 78-73 16 1-41 1 25 0-4 1-43 1-10 2 30 1 26 0 1 0 10 1-26 0 19 1-24 1 25 1-61 1 7 2 2 0 24 1-36 0 75 2-34 0-18 1 28 3-43 0 34 2 14 1-36 1 43 0-46 2 17 1 42 0-5 0-30 1 35 2-39 2-34 1 69 0-19 0-33 2 49 1-3 0-14 1 26 2-12 0 7 1-1 0 5 2-71 3 23 2 35 0-36 1 16 1 19 1 8 1-29 0-4 0 6 0 15 1-11 1-33 0 25 0 24 2-11 1-18 1 33 1-3 0 12 2-20 0-31 1 41 1-37 0 6 0 36 3-6 0-59 1 30 1 11 0 18 3-19 0 30 3-42 3 38 1-9 0 38-79 20 1 32 0-74 1 2 0 54 1-22 1-34 0 69 0 2 1 3 1-25 1 27 0-3 0-68 0 44 1-16 0 3 0 17 2-53 0 55 1 10 0-8 1-17 0-35 1 68 0-28 0-9 0-1 1 13 0 24 0-10 0-37 1-20 1 24 0 20 1-48 1 15 0 11 0 8 1 39 0-7 1-62 0 73 0-73 1 54 1-9 1 23 0-34 1 35 0-22 0-46 0 37 1 2 0 28 1-66 0 46 0-26 1 26 0-1 1 15 0-55 2 20 0-29 0 0 1 69 1-66 1 26 0-8 0 44 0-16 1 22 0-46 1 36 0-48 0 14 0-10 2 11 2-6 0-14 0-4 0 4 1 20 0-18 1 54 0 1 1-52 1 38 0-52 0 58 1-8 0-27 1-20 0 59 2-2 0-36 0 20 1-4 0 31 1-12 1-6 0 13 1-51 0 14 2 8 1-20 2 10 0 48 1 0 0-2 0-74 1 17 0 27 1 32 0-1 1-50 0 34 0 7 1-16 0 7 1-30 0 50 0-58 0 27 1-42 0 7 0 44 1 16 0-46 1 6 0 42 0-35 0-2 1 11 1-23 1-18 1-2 1 44 0-6 1-21 0 28 1 5 0-35 0 18 1-20 1 55 0-2 0-52 0 31 1 25 2-36 0-33 2 53 0-35 0 78-79 17 0-1 1-23 0 27 1 5 0-38 1 21 2 7 1-5 0-4 2-19 0-2 2 28 1-25 0 10 1-2 1 8 0-8 1-6 0 19 0-13 1-1 1 2 1 18 1 14 0-11 1-28 1 27 0-20 1 18 1-6 1-15 0 33 2-48 0 2 1 41 0-1 0-25 1 23 0 14 1-35 0-13 1-5 0 6 2 6 0 21 1-17 0 1 0-1 0-9 1 23 0 5 2-19 0 32 0-40 1 9 0 0 1 27 0-13 1 22 0-45 0-4 1 53 0-9 0-2 1-49 1 7 0 14 0 8 0-21 0 34 1-9 0 16 1-11 0 21 0-1 1-2 0-10 0-6 1 14 1-4 0-16 1-34 0 47 0-8 1-1 1 19 1-24 0-22 0-7 1 55 0 6 0-2 1-43 1 48 1-8 1-31 1 29 0-44 0-2 1 17 1-18 0 8 0 26 0-5 1-29 0 59 1-22 0-43 1 2 1 52 0-57 2 7 0 55 1-33 0 29 1-23 0 38 1-36 0-34 1 52 1-24 0-31 0 12 0 64 1-67 1 8 0 13 0-8 0-3 0-20 1 48 1-39 0 24 0 10 0-42 0 30 1 28 0-15 0-27 1 22 0 11 0 9 0 17 1-37 0-27 1 41 0 2 0-21 1-7 0-6 0 57 1 1-6 469-66-2 4 0 4 12 2-5 0-13 1 4 1 10 1-14 0 6 0 3 1-4 3-9 0-5 4 21 2-4 1-1 2-17 1 4 0 22 0-26 2 16 0-4 2-16 1-3 1 19 0-16 1 13 1-19 0 36 1-32 1-1 0 25 1 7 3-27 0 0 1 15 0 4 2-21 0-12 1 38 0-37 1 20 0-3 2 7 0 15 1-23 1-20 1 34 0-18 1-17 2 13 0 28 1-23 1-9 2 24 0-27 1 17 0-27 0-6 1 36 1 7 0-19 0 31 1-4 0-6 0-4 1-38 0 34 0-42 1 53 1-23 1 6 0-17 0 25 0-18 1 13 0-12 0 8 0-38 1 16 0 1 0 45 0-8 0-25 1 32 0-58 1 35 1 5 0-15 0-15 0 18 1 21 0 17-79 74 0-40 0-10 0 15 1 37 0 1 2-39 0-35 0 9 0 49 1-40 1 52 0-62 1 40 0-52 1 2 1 21 0 13 0 12 1 11 0-51 1 46 0-53 1 71 1-57 0 12 1 2 1-12 0 24 0-3 2 21 0-41 0 10 0-5 1-21 1 50 0-7 1-36 0 27 0 13 1 26 0-11 1-52 0 61 1-60 2 2 1 57 0 3 1-3 1-11 0-55 0-6 1 32 1 30 0 3 1-63 0 8 0 58 1-16 0-17 0-18 1 51 1-47 0-5 0 0 0 23 3 31 0-41 0-21 1 67 0-43 0 44 2-38 0 23 2-1 0-35 1 37 1 16 0-62 1-7 0 41 1-35 0-12 0 22 1 41 1-52 4 19 0-16 0 18 2-14 0-1 1 22 1-31 1-9 1 56 0-28 0-12 1 19 0 37 0-74 0 6 1 50 0-36 1-1 1 3 0 56 1-42 1 32 0-57 1 0 1-11 1 70 0-20 1 25 0-32 0 13 1-16 0 10 0-10 1 17 0-13 0-42 0 32 1-26 1 49 0-40 1 12 1-16 1-4 0 28 0-38 1 72 2 56-76-27 0-20 0 7 1 7 0 20 2 14 0-43 2 10 0 0 3 6 0 2 1 13 0-21 5 13 1-18 0 18 3-23 4 17 2-14 2 9 0-17 0-1 1 21 0-4 2 27 3-13 2-20 3 4 1 35 4-38 0-12 2 52 2-23 2-18 0 44 1-49 0-5 1 31 0 35 3-48 2 6 4 19 2-30 0-9 5 29 2-13 4 62-39 25 31-106 17 12 2 8 0-9 1-11 3 24 2-11 9-12 4 16 1 44 14-10 5-57-43-19 0-42 1 12 0 7 0-25 1-4 0 72 1-23 0-5 0-34 1-15 1 51 2 15 0-32 1 22 0-40 1 34 2 27 0-40 1 6 0 9 0-12 1 20 2-43 0 28 1 27 1-62 0 42 0-29 1-1 1 22 0-6 0-8 0-7 1-16 0 9 0 19 0-10 0-18 1 2 1-1 1 7 0 0 1 12 1-14 1 47 2-39 0 21 2-8 0 22 0-30 1-19 1-3 0 32 1-36 1 14 0 45 1-22 2 21 0-4 1 5 1 2 2 18 0-17 1-57 0 42 0-45 0 3 2 63 1-48 0 36 1 0 0 4 1-24 2 27 1-62 0 14 1 29 0-3 3-41 0 8 1 25 6-19 1 16 5 14 0-41 0 15 5 44 5 1 2-138-79 5 0 66 0-68 1 49 1-19 0 41 0-67 0 64 2-20 0-6 0 11 0-4 1-53 1 62 0 3 0-6 0-40 1-8 0 18 1 12 1-18 0 11 0 18 1-54 0 38 1-34 1 32 0 12 0-31 0 24 1 10 0-53 0 60 0-29 0-27 1 10 0 48 0-57 0 48 0-52 1 24 2 20 0-27 0 35 0-44 1-8 0 41 0 7 0-7 1 19 0-38 0-4 1 13 0 44 0-29 0-20 0 21 0 11 0-55 0 40 0 29 0-67 0 30 1 15 0-27 0 6 0 41 1-7 0-4 1 8 1-22 0-18 1 30 0-43 1 22 1-16 1 11 0-30 0 4 1 18 1 28 1-20 0-22 1 69 0-70 0 17 0 41 0 10 1-32 0-32 1 13 0 51 1-53 0 12 1-9 0 15 1 27 0 2 1-32 1 32 0 6 0-7 1-46 1 28 2-24 1 51 1-59 1 17 0-33 0 29 0-32 0 31 0 9 1-33 0 19 0 27 0-35 1-8 0 0 0 2 0 4 1 9 0 9 0-15 0-13 1 38 0-25 0 8 0 12 1 16 1-45 0 66 1-48 1 21 1-7 2-10 1-18 1 42 0 21 1-18 0-35 1 5 1-19 0 3 0 26 1 10 0 5 0 13 1-18 0-38 0 60 1-43 1-26 0 7 0 63 1-60 1 41 1-15 0 13 0-13 0 4 1 3 0-19 0 33 0-31 1 28 1-18 0 31 2 1 1-59 0 52 1-51 0 11 0-2 2 39 0-41 0 21 1-29 0 63 0-77-66-2 7 0 3-8 1 10 1-17 2 2 5 12 2-3 1 7 0-18 0 14 1-7 3 1 2 4 0-28 1 24 0 10 2-28 1 27 2-16 0 13 1-8 1-16 0-4 1 17 1-21 1-12 1 23 1-1 1-1 1-10 0 5 2-23 0 8 1 10 0-21 0 11 1 3 0 36 1-24 1-17 0-10 1-3 0 25 0 3 0 25 1-31 0-19 0 33 1-29 0 18 1 0 0 22 1-24 0-27 1 22 0 34 1-59 0 44 0 1 1-41 1 52 0-51 0 30 0 20 0-17 1-35 0 25 1-36 0 44 0 28 0-47 0 26 0-2 2-6 0-37 1 34 0-34 1 55 1-39 0-259-13 0 1 6 0 1 1 13 3-4 0-4 0 2 2-10 2-9 2 9 0 31 0-2 3 1 0-27 0-84-74-8 3 0 2 1 2 2 2 15 3-7 0-1 1-3 1 3 2 9 3-14 1 19 0 6 0-16 1-3 2 17 0-22 0 9 2 10 1 7 0-3 1-23 0 23 1-21 1 6 0-8 1 29 0-22 1-1 1 10 0 12 0-21 1 16 0 0 0-24 2-3 0 23 0 5 1 3 0 8 0-26 0 11 0-19 0 42 1-24 0 24 1-30 0 19 1-32 0 23 0-17 0 6 1 19 2-27 1 17 1-27 0 23 1 0 1 28 1 1 0 3 0-1 2-24 0 16 2-24 0-19 1 34 0 10 1 13 0-50 2 55 1 10 0-3 0-36 0-15 0 40 1-59 0 23 1 7 0 37 1-12 0 2 0-11 1-40 0 22 0 19 0 28 1-7 0-68 0 61 1 14 0-32 0-26 1 6 0 31 0 22 1-8 0-17 1 6 1-37 0 33 0-5 0 24 0-32 0 15 1 16 1-42 1 35 0-2 0-36 0 13 0 0 1 13 0 23 2-2 0-60 1 26 0 19 0-47 0 2 0 54 1 2 0-19 0-26 0-16 0-89-79 77 0-72 1 69 0-71 1 49 1-29 0 15 1 39 0-20 0 2 1 1 0-10 0-31 0 53 0 3 1-75 0 31 1-5 2-4 0-19 1 34 1-2 0-21 0 34 0 16 1-47 0-2 0 46 1-8 0-30 1 24 0-33 0-9 1 62 0-67 0 26 1 2 0 16 0 14 1-57 0 39 0-25 0 26 1-6 0-9 1 39 0-27 2 34 0-25 1-27 1 36 0-16 1-16 0 26 0-31 1 19 0-32 2 16 0 7 0 45 1-14 0-34 1-20 0 39 0-46 0 6 1 19 0 41 1-12 1-26 1 41 0 6 1 0 0-49 1 47 0 0 0-51 0 21 1-42 2 21 1-12 1 5 0 21 1 11 0-17 1-23 0 61 0-37 1 47 1-17 0 2 1-18 0-24 0 39 0-3 1 17 0-9 0-19 0 8 1-53 1 40 1-28 0 63 1-31 0-43 0-2 1 5 1 52 0-46 3 32 0 36 0-76 0 51 1-52 2 70 0-6 0-48 1 28 0-12 1 45 2-56 0 54 0-47 2 10 1-31 1 30 1 38 0-32 1 8 1-4 0 23 0-11 1 5 1-54 1 61 0-60 0 37 0 29 2-19 1-16 0 20 1-14 0 17 0-1 1-16 1-17 1 20 0 17 0-57 0-83-79-10 0 17 1 43 1 5 0 13 1-41 0 33 2-47 1 49 0-6 2-51 0-14 0 10 1 27 1-34 3 69 2-55 1 0 1 38 0-24 0 11 0 12 1-42 1 63 0-52 1 46 0 1 0-5 1-22 0-10 1 6 0 15 1-19 1-28 0 27 2 31 0-12 0 7 2 18 1-17 1-16 2-11 1 43 0-19 0 19 0-59 1 57 1 2 1-36 1 29 0-41 1 30 1-16 0 16 4 15 2-45 0 36 1-5 1 3 0-28 1-13 1 37 3 7 0-13 0-27 0 18 8 29 1-18 3 11 1-23 0-15 0 40 2-47 2 31 3-36 1 37 1 19 1-38 1-13 1-82-77 35 3-55 3 64 1-55 6 50 2-5 1 3 2 3 0-23 3-10 3 50 0-46 3 4 2 19 1-34 1 39 0-18 5 37 0-67 6-4 3 22 3 39 4-3 5-1 0-64 1 26 1 9 1 16 6 7 1-18 0-2 11-53-76 14 22-60 5 11 6 36 18-21 18-93-36 99 45 16 17-41 0-1 43 118-59 7 0-70 3 33 6 34 22-10 1-26 11 40 1-30 18-34 6 145-68 3 3-57 1 58 0-24 4-19 3 0 1 20 1-13 3 18 0 14 3-55 0 10 3 10 6 16 4-30 10 34 15 16 1-26 2-46 3 70 5-10 2 18 4 7-75 70 0-46 0-12 0-18 1 27 0 23 0-15 1-33 0 9 0 35 2-5 1 5 0 29 2-12 0-10 2-43 3 27 1-11 1 43 1-68 0 76 0-7 1-14 0 20 0-60 1 63 1-41 1 27 2-3 0-10 1-6 0 6 0-19 1-3 0 34 1 12 1-4 1-71 0 0 1 46 4 3 2 0 1 20 1 8 0-70 2 50 0-50 2 4 1 44 0 2 1-32 0 21 1 29 0-73 0 44 1-29 1 52 1-11 1 9 2-32 1 19 0 4 1-16 1 36 1-34 3 5 0-22 1 17 1 20 0-35 3-4 0 42 0 0 5-43 6 9 1-6 1 28 1-1 3-14 0 38 2 33-79 39 0-23 0 19 0-39 0-7 1-18 1 8 0 31 0 16 1-38 2 52 0-34 0-30 0 43 1 4 0 6 0-20 1-2 1-1 0-33 0 5 1 60 0-16 0 25 0-40 1 9 0-44 0 6 1 32 1 22 1-29 0-7 1-2 0 52 0-22 0-18 1 27 0 4 0-55 0 24 0 25 1-37 0 18 1 0 1 22 0-44 0 16 0 39 1-67 2-5 0 67 0-26 2 15 1-19 1-40 1 55 1-25 0 45 1-46 1 0 1 2 1 33 0 9 0-58 0 34 1 14 0-41 0 55 1-6 2-58 0 7 0 32 1 4 2 5 0-58 1 21 1 2 0 30 0 9 0-23 3 6 0 17 1 10 1-8 0-40 0-1 1 42 0-42 0 28 1-1 0 10 1-33 0-31 1 18 0 39 0-14 0-23 0 4 2 13 1 30 0 11 1-74 0 10 1 57 1-14 0 18 0-60 1-4 0 53 0-48 1 40 1-31 2 42 1-54 1 52 0-3 0-4 0 5 1-45 0 47 1-39 0 40 2-44 1 40 2-47 0 56 2-24 1-11 1 18 2 22 0-17 1-26 1-5 2 88-79-18 1 11 0-5 0-4 2 39 0-17 1 6 0-15 1-20 0 11 0 16 1 9 0-32 1 21 1 10 1-12 0-35 0-2 0 18 1 48 1-58 0 16 1-3 1 26 0-31 1 11 0-5 1-10 0 3 1 42 0 17 0-26 0 28 0-19 1-34 1-18 0 72 0-22 1-2 2 11 0-51 0-10 0 43 2-8 0 38 1-13 0-35 1 30 0-26 3 42 1 0 0-19 1 20 1-40 0 43 0-40 1-10 1-15 2 16 0 49 0-60 0 35 1-28 0 25 0-16 0-27 1 12 1 45 0-35 0 22 0-34 1 41 0-8 2 9 0-9 0 19 2-56 0 4 1 33 0 19 0-4 0-9 0-20 0 23 0-6 1 14 0-47 1 46 0-46 0 22 1 34 0-12 1-7 0-28 2 22 1-9 1 24 0-40 0-8 1 56 2-28 0 15 2 7 0 3 0-23 1-15 1-2 4-30 0 28 0 48 1-56 0 55 1-1 1-61 0 3 1 26 1-25 0 15 0-32 0 22 0 3 1 12 1-20 0-1 1 14 0 19 1-12 1-3 0-3 4-7 0 43 0-39 0 32 2-30 0 66-66-17 1 7 4 21 1 20 0-22 1-9 0 35 1-24 0 37 0-30 0 5 0 10 1-22 1 0 0 0 1 26 1-19 1 32 0-29 0 3 0-39 1 23 1 16 0 31 0-56 1 39 0-14 0 13 0 25 0-57 1 24 1-5 0-8 0-10 2 27 0 6 1-39 1 18 0 38 0-52 0 0 1 48 0 0 0-6 1-21 0-35 0 38 1 14 0 2 1-45 0 44 0-42 1-15 1 41 0-30 0 41 0 16 0-4 1-59 0-1 0 67 1-14 0-37 0 27 1 27 0-3 1-23 0-33 0-13 1 56 1-48 0 63 0 2 0-36 0 22 0 4 2-53 0 17 1-4 0 26 1-54 1 61 0-44 0 29 0 3 1-6 1 4 0 8 2 16 0-70 0 41 1 33 0-13 1-40 0-7 1 62 1-39 0-6 0 6 0 34 0-11 2-17 0-13 1-29 0 56 0-42 0 10 0 21 1 16 0 9 0-1 1-53 0-16 0-2 1 12 0 61 1-23 0 10 1-37 0 25 1 17 1 3 0-57 0 61 1-51 0 8 0 0 1 19 1-9 0 4 0-14 1 1 0-1 1 31 0-43 1 45 0-62 0 37 0-17 1 3 0-17 0 144-77 0 1 4 1-20 6 8 2-21 2 36 1-34 0 28 0-6 0-28 1-6 1 38 0-15 0-25 0-19 0 0 1-6 0 11 0 43 1-45 0-2 0 25 1 8 0-36 2 48 0 7 2-20 0-20 1-8 1 0 0 11 0 13 0 16 1-39 2 55 0-45 0-10 1-10 0 19 0 33 0-7 1-39 0 35 0-23 0-23 0 1 1 15 0-11 1 42 1-11 0 22 0-19 0 18 0 16 0-9 0 12 2-52 0 41 0-64 0 25 1-20 1 28 1-26 1 31 1 7 0-24 0-16 0 10 1 13 0 2 2-21 1 63 1-62 0 7 0 35 0-53 0 11 0 31 2 5 0 14 0 7 1-34 1-16 1-7 0 2 2 58 0-65 1-7 0 48 0 2 1 11 1-3 1-49 0 30 0-31 1 26 0-9 1 40 0-18 1 5 1-32 1 32 2-43 0 21 0 36 1-46 0-20 0 65 1 1 0-37 0-18 1 14 0-24 2 65 0-48 1-2 0 12 0-22 0 5 2 33 0-30 0 1 1 62 0-38 1 22 1-42 0-6 1 50 1-21 0 26 0-46 1 1 1 10 0 11 1-29 0 47 1 29-79 17 0-13 1 57 0-68 2 74 0-27 1-26 0 12 1 3 0 9 0 23 0-9 1-8 2-36 0 10 0-22 0 55 0-27 1-11 0 47 0-16 0 22 0-12 1-44 1 29 1 4 1-28 1-20 1 35 2 16 0-26 0 8 1 33 0-58 1 41 1 23 0-45 1 11 0-6 0-2 0-30 1 63 0-33 1 18 0 11 0-9 0-2 0 24 1-13 2-62 0 12 1 27 0-22 0-17 1 75 0-29 0-49 0 79 2-65 0 48 0-16 0-5 0-10 0 26 2-36 1 47 1-65 1 53 1-46 0 31 1 4 0-36 0 26 0 26 0-43 0 35 1-38 0 14 0 17 0-13 0-26 0 10 1 39 0-29 1 6 1-1 1-8 1-7 1 7 0-11 3-6 0 25 1 38 1-37 0 41 1-60 0 30 1-19 0 19 0 19 2-61 0 18 0 31 1-40 0 13 0 32 0-31 1-4 1-5 1 32 0-26 0-10 1 27 0-33 0 18 0-13 0 45 1-31 2 48 1-33 0-39 3 42 1 3 0-33 0-2 0-9 1 3 0 58 0-41 2 20 0 36 1-18 0-11 1 26 0-74 2 49 1 8 0 1 1-13 3-4 0 12 0-47 1-2 0 81-78 39 0-32 1 52 0-21 0-14 2-2 0-11 0-13 1 8 0-8 0 55 0-52 1 21 0 34 0-60 1 7 0 14 0 48 0-7 0-7 0-51 0-1 0 51 1 3 1-57 1 70 0-15 1-41 0 28 0-43 0 2 0 4 1 8 1-14 0 22 1 47 0-37 1 0 0 0 1-19 1 32 1 19 1-51 0 17 1-7 2-4 1 20 0 33 2-3 0-54 2-2 0-5 0 4 1 45 0-40 0 15 1-28 0-4 0 26 1 7 0-9 2-5 1 42 1-26 1-31 0 11 1 13 2 21 0-22 0-4 1 20 1 8 2-23 2 43 2-60 0-4 3 39 2-45 0 3 3 25 0 9 1-15 0 2 1-17 1 70 1-69 0-6 0 71 2-60 0 45 0-49 2-7 2 20 5-7 1 1 1-11 1 17 0 15 3 0 2-24 1 111-77-37 0-4 3 62 1-53 1-10 5 30 8 0 6-13 0 1 1-15 1 1 2 41 2-42 1-7 5 41 3 27 0-54 7 31 3-20 0-12 3 9 17-22 6 123-68-30 20 51 32-61 67-54-45 36 7-23 22-29 5 23 2-27 5-8 7 57 7-100-56-1 7 20 1-51 1 28 3 15 0 8 0-39 1-7 0 25 3-18 3 2 0-18 1 20 2-6 1 23 2-14 5 6 8 28 1-20 3-8 1-12 2 26 16-43 2-4-64-64 0 60 2-47 0-11 1 56 4-43 2 33 4-33 1-25 1 9 2-12 0 48 1-23 0 44 2-62 2 15 0 5 2-11 1 58 1-51 1-12 2 40 3-51 0 38 0 28 3-23 0 6 5 15 2-35 0 5 0-27 1 30 3 6 3-17 0-8 1 15 2-26 1 33 1-16 4 47 1-11 4-21 1 15 3 15 3-64 1-43-71 16 1 20 0-42 0 6 1-40 1-3 0 57 1-20 0-19 0-4 0 33 0-32 0-5 1 39 0-39 1-8 0 49 0 22 1-11 0-43 1 52 0-30 0-9 1 17 0-7 1-11 0-1 1-20 1 5 3 29 0-2 2 1 0-33 1 15 1 41 1-58 1 66 0-29 1 15 2 17 0-53 1 18 3-8 1 7 0-8 3 38 1-12 0-27 0 1 2-20 1 41 1-28 0 8 1 37 0-55 1-9 1 26 0-15 2 2 0 52 1 5 1-9 1-63 2 53 1-16 1-23 2 12 1 4 4 9 4 17 2-42 1 41 0 7 0-62 5 3 3 22 0 19 2-39 5 31 1-62-78-40 1 29 0 17 1-49 0-1 1 10 1-23 1 2 0 55 2-7 1-24 0 31 0-57 1 33 0-28 2-5 1 48 3-16 1 3 1 26 1 12 0-73 1 64 1-59 1-5 2 61 3-22 1-7 0 15 2 23 0-37 4-16 1 8 0-22 1 43 2-31 0 52 4-26 0-42 1 51 0-50 0 71 0-21 1-52 3 19 2 24 1-37 2 32 2 0 3 35 2-72 3 49 2-29 1 20 4 1 1-31 1 2 1 15 4 50 3-73 0 36 0-96-79 21 1 15 0 17 0-43 1-2 0-12 1 41 0-56 1 69 0-23 1-40 1 12 1-14 0 25 2 26 1 12 1-59 0 22 2 42 3-7 0-19 2 15 2-67 2 8 0 58 0-43 4 32 1 3 1-1 3-23 1-10 0 3 1-22 3 1 2 62 1-40 1 2 3-12 1 22 2 1 0 21 4-54 1 60 0-12 1 4 0-43 7 20 7 5 2 15 6 22 2-29 3-102-78 20 0-3 2 22 0-11 1 9 5 2 1 0 1 2 2-66 0 39 3 1 3 0 2-3 1-14 3 31 2 5 1-57 1-4 3 36 2-2 1-21 4 38 2-23 0-25 1 41 3 6 1-24 4-9 5 47 3 12 2-6 1-48 1 18 0-13 2 20 6-57-70-20 9-33 0 9 10 21 7-9 8 14 1-13 5 33 5 5 3-31 9-21 4 31 1 1 6-74-68-45 5-19 7 12 1 47 5-26 12-9 21-46 18 88 14 91 4-75 15 106-9 97-11-37 4 19 2 28 5 0 5 15 1-30 0-24 10 22 9-2 18 50-55 37 0 33 3-55 5 55 2-49 2 49 2-43 11-3 2 3 0 6 2-30 31 79-61 28 1-6 0 23 0-7 3 4 0 15 2-41 3 23 0 12 1-57 0 38 1-7 2-28 4 71 4-24 1 2 5 14 7-28 2 5 1 0 10-41 13 32 13 96-73 20 3-67 2 53 4-40 5 9 11-9 1 26 0-27 5-12 4 9 2 28 1-6 17 10 0 56-52-6 8 29 15-26 18 34 8-31 11 45 11 30-49-5 50 76-50-196 69-36 47-41-9-195-38" marker-start="url(#mg)" marker-mid="url(#mg)" marker-end="url(#mg)"/>
<path d="M1159 138l214 145-83-39 6 25-16 15 67 8-21 3-36 0 40 6 7 8-16 1-4 1-37 0 19 1 15 2-34 3 5 1 49 1-62-46-42 3-2 1 14 1 10 1-21 1-19 2 32 7 7 0 13 9-42 1 33 1-24 0 14 0 30 1-41 0 25 0-40 1 5 0 7 1 47 0-34 1 23 2-3 0-17 1-15 2 0 3-6 0-2 0 0 1 1 1 12 0-5 5-9 0-96-78 39 12 11 21-40 3 54 2-23 4-48 5 8 1 44 2-18 0-29 1 56 1-57 0 65 1 7 2-75 1 20 2-15 0 70 4-66 0 65 2-44 1-7 1-18 3 23 1 42 1-4 1-49 0-8 1 49 1-1 0-47 0 58 1-6 1 9 0-2 1-23 0-68-77-16 30-18 5 51 0-29 3-29 6 56 1-16 2-31 2 48 1 3 5-59 1 20 1 17 0-37 3 13 3 5 2-32 0 10 0-6 1 50 1-19 1-20 1 33 3-37 1-8 1 45 0 25 0-60 1-11 0 11 0 35 2-13 1-97-40 1 7 54 7-18 0-25 2 20 2-18 0 14 2-33 2 40 0-53 2 60 7-43 1 22 1 22 2-51 2 47 0 12 0-61 2-34-44-29 12-12 1 41 11 12 6-1 4-34 2-88-34 7 29-2 7-64-51 26 55-82 37 29-21 53 26-22 40 84-77 15 5-23 3-3 1-18 5 45 2-6 1-5 3-45 0 4 3 38 1-36 3 11 2-17 3 54 1-46 0 6 11 43 2-9 2-38 2 49 2-35 0 14 1 6 1-19 0-42 3 41 1-8 0-18 0 57 1 3 1-20 2 6 2-58 1 39 2 23 4-10 1-1 1 8 0-61 1 74 2-14 0-13 1 20 0 11 0-24 0-8 1 26 0 60-79 7 12-59 4 75 2-5 0-19 1-1 1 21 1-33 2 24 1-43 0 43 1-48 0 31 0-25 1 47 0-22 0 0 1 6 2-18 3-30 1 17 0 8 2 19 0 14 0-28 1 7 1 36 5-11 1-62 0 39 1-6 3-29 0 70 1-57 2 11 0 11 1 31 1-33 1 36 0-45 1-13 0 37 1-9 0-46 1 70 0-47 3 7 2 5 0 34 3-19 0-43 1-3 0 12 1-5 4 63 0-23 1-3 1-28 0-18 0 48 1 22 0-33 1 32 2-29 0 9 0 0 1-23 1 106-78 0 6-47 1-7 3 51 1-11 3 19 0-29 1-11 1-4 2 46 0-23 0 21 2-36 1-24 3 74 0 5 1-52 1 3 0 2 1-22 1 68 1-28 0-16 0 44 3-38 2 8 2-39 3 59 2-50 0 25 2-33 1 7 0 8 1 4 1 19 0-11 0-16 1 23 1-28 0 37 2 13 2 5 0-6 1-1 1-2 3-40 0 30 2 12 1-60 0 30 1-12 0 21 1-32 2 21 1 33 2-2 0-30 0-32 1 33 1 23 0 9 1-49 1 14 0-2 1 17 1 5 1-2 0-24 0 9 1-15 0-3 1 88-75-21 0 40 2-6 0 28 1-58 0 53 1-57 0 64 1-67 0 31 3 16 1-15 1-22 2 27 0 14 2-40 1 64 1-75 0 33 0-3 0 20 1-5 5-33 0 53 1-34 0-20 4 47 1-36 0 19 1-4 1 24 2 17 0-23 2 3 1-28 0 36 0-30 1-34 1 7 1 2 4 29 2-8 1-30 1 25 0 39 2-53 1 31 0-23 1 45 2-54 1 53 3-32 0 28 0 11 1-16 0-3 0-9 5 35 0-50 2-28 0 43 1 35 3-78 1 12 1 78-71 60 0-30 2-1 1 1 1 17 1-50 0 66 1-33 0-37 1 75 1-5 0-5 2-35 1-32 0 59 2-19 0-19 0 21 1 34 1 0 0-23 2-14 1-32 0 53 1-59 0 43 2-12 0 8 0-17 1 2 1 52 0-64 2 34 1-38 1 58 1-12 1-41 1 15 1 5 1-1 0-34 2 11 1 67 1-68 1-7 0 58 0-48 0 38 3-34 1 54 1-18 0-52 1 67 1-36 0 43 1-75 0 59 0-50 2 49 1 17 0-29 0 12 1-12 1-33 0 64 1-18 0 0 0-49 0 37 0-23 2 24 0 1 0-34 1-5 1 26 1 9 0 31 3-1 1-73 2 41 2-43 0 25 0-2 1 25 1 24 2-2 0-68 1-1 0 46 1 57-70 21 0-32 2 36 1-12 0-18 0 45 1-10 0-20 1 9 4 24 1-3 0-65 1 78 1-66 2 51 2-31 0 2 2 10 0-22 0 43 2-12 0-7 0-24 2 50 1-37 4-13 0 33 1 4 3-52 1 66 1-25 2 16 0-36 0-28 1 6 1 30 0 10 1-8 1-21 1-13 2 31 0-35 1 69 1-42 0 9 2 33 1-25 1 9 0 19 1-14 1 1 1-13 0-31 0 23 1 40 2 0 0-68 2 55 0-23 1-22 0 36 2-20 1-12 1 16 1-40 0 35 1-2 1 10 1-19 1-9 1 5 0 49 0-25 2-18 1 41 3 67-73-15 3-8 0-18 3-6 1 64 3-34 1 18 1 17 2-4 1-26 0-19 1 1 1-10 0 14 1 23 2-41 0 67 0-64 0 37 2-44 2 67 0-61 0 7 1-4 0 37 1-12 2-38 0 32 1 34 0-17 1 6 0 14 0-55 1 40 2-40 1 29 1 32 2-7 0-27 0-15 0 1 1-16 3 34 1 25 1-54 0-8 0 65 3-39 1 24 1-55 0 53 1-47 2 67 1-76 0 49 1-47 0 46 1 25 0 1 0-41 0 24 2-5 1 13 0 8 1-45 0-1 1-23 0 5 1 26 1 35 0-27 1 0 0 26 2 7 0-76 2 71 1-54 0 21 1 22 0-32 1-30 0 10 2 64 0-59 2 41 3 22 1 23-73 42 4 13 1-50 0 45 0 3 10-67 2 3 1 30 0-13 0-5 2-20 1 7 2 33 3-23 2-6 0 20 0-24 3 27 1-26 2 50 0-16 1-15 0 11 1 10 2-49 1 30 1 0 1 4 0-3 1-31 1 66 6-18 1 6 4-41 1 64 0-3 4-68 2 15 0 36 0-11 1-24 1-12 3 39 3-35 1 5 0 7 1 8 0-7 1 27 0 23 2-60 1 62-43 35 25-9 3 11 5-22 0-7 2 4 2 100-3 48 87 1 1-64-61-5 26 7 15 4 3-15 0 6 0 17 1-29 4 29 0 6 1-18 9-19 0-53-66-18 1 10 1 7 0 25 2-43 1-2 3 36 2-25 1 40 1-54 1 51 0-17 2 7 0 28 1-3 2-17 1 4 0 22 1-74 0 12 1 17 0-12 4-19 2 10 1 50 0-10 1 5 0-51 1 63 1 5 1-2 1-60 0 11 3-1 1 1 5 27 1 22 1-11 2-21 7 20 2 10 0-9 0-10 2 6 2 10 1 12 1-37 1 18 1-13 1 15 2 12 2-152-78 16 1 47 0-43 1-2 0 12 1 34 0-65 0 7 2 69 1-17 1-9 0 7 0-11 1 29 2-24 1-11 4 12 2 10 4-7 1 17 1 1 3 4 1-88-26-375-1-62 0-17 2 11 4 19 1 3 0-35 0-12 1-1 2 17 3-16 0 11 2-13 2-36-16 30 1-29 0 28 0-6 0-25 0-20 2 27 1-4 1 21 2-45 0 37 0-5 1-5 1-9 0 9 1 28 1-17 2 10 2-67 0 19 1 32 1-42 3 42 1-46 1 54 0-44 4 37 1-13 0-4 2 21 1-1 0-54 1 34 2-2 2 14 2-21 1 10 1-37 0 7 2 21 8-24 0 2 1-6 4 19 0 5 1-21 3 0 5 3 3 4 1-5 3-4 4 5 2-32-77 8 1-43 2-12 2 68 2-47 0 34 3 4 6 0 5-3 4 3 6 11 2-43 2 39 1-44 4-2 6 43 0-55 3 44 3-19 6-13 0 4 2 13 1 25 1-57 0-7 4 57 1-30 0-21 1 26 0 15 1 16 0-50 1 32 1 18 2-50 1-13 2 60 2-104-46 37 3-13 1 1 5-8 1 10 31 7 1-8 3-81-5 3 1-36 64 13 5-20 4 126-63-6 2 1 7-2 1-51 0 64 2-58 1 28 1 11 1-7 1 17 5-5 1-14 1-36 1 62 1-13 3-11 4-14 2 40 1-70 0 61 2-6 1-18 3 25 1-2 1 6 3-30 1-20 1 24 0 25 1-8 3-23 0-3 2 7 3 7 1 23 1-41 1-15 4 28 1-18 1-16 2 62 1-16 1-6 0-21 1 28 2 0 0-22 0-10 1 39 1 73-78 9 1-55 0 42 1-27 0 39 1-60 3 16 0 39 3-28 2-10 1 24 1 13 3-18 1 19 1-42 0 20 1-22 1 29 0 12 1-21 3 18 0-42 1 43 0-24 3 15 2-29 4 20 1 10 1-8 3 6 4-15 6-14 2 13 1 7 0 1 2-1 5-39 2 0 0 14 1 27 2-8 4-34 3 20 4 14 0-34 3 25 0-10 1 771-77-13 3 20 0 3 1-20 1 14 1-7 4 0 3 4 1-5 0 12 2 0 6 2 3 1 3-2 2-3 5 0 1 4 7 2 1 42-46-3 1-24 4 20 3-7 1 5 3 32 0-54 0 12 3-22 1 24 2 5 1 16 0-33 1 11 0-21 2 17 1 13 1-2 0-12 0 37 1-25 2 25 0-40 0 12 0-5 2-19 0 18 1-20 3 32 0 34 0-55 1 48 0-53 0 8 2 12 1-21 0 39 0-14 0-28 2 34 1 4 0-16 1 13 1-11 0 11 0-1 2-25 2 42 0-16 2 3 0-14 0 9 1-17 1 44 0-50 1 14 0 40 1-9 0-35 0-4 1 2 0 28 0-16 1-18 2 34 1 7 0-23 1 11 2 21 0-58 0 35 1 8 0 13 0-51 0-7 1 49 1-51 1 2 0 42 0-42 1 25 2 8 0-23 3 5 0 57 0-47 1-8 0-11 0 21 0 13 2-11 0-10 0 10 1 0 1-13 0 11 1-22 1 18 1 77-68 15 15 5 11-39 18 7 3 8 2-6 3-11 2-3 3 9 2 13 0 18 4 10 2-46 0 92 13 28 7-42 2 9 2 10 25-2 20 18 8-26 6-66-77 12 4-24 1 0 1-10 0 38 2-42 1 2 1 1 1 4 0 1 1 32 2-24 1 27 3-35 1-3 1 32 0 9 3-11 1-15 2 39 1-11 0-16 1-22 0-3 1 9 1 8 1-4 0-1 0-1 1 14 0 32 0-26 3-35 0 37 1-27 2 35 0-29 1 38 0-52 0 26 4-10 0-12 0 25 1-12 0 6 0 28 0-49 2 51 2-21 0-31 1 9 0-4 0 31 1-29 0 9 3 3 0 12 3-13 0 12 1-9 0-3 1 0 1 13 1-13 0 16 2-4 1-14 0-3 1-5 1-3 2 0 1 15 1-23 0 29 0-8 0 6 1 28 0 1 0-31 1-25 0 9 0-11 1 0 1 5 0 13 1 19 2-3 0-6 0-2 1 2 0 33 0 8 1-27 0-30 0-3 0-40-79 14 0-36 0 11 0 8 1-6 1-20 1-2 1 8 0-16 1 38 1-3 1 7 1-22 0 2 1 33 1-13 1-7 2-1 1 32 0-21 2 19 0-53 1 45 0-49 0-3 3 37 1 22 0-34 0-3 1-21 1 55 0-38 1 26 0-27 0 3 0 19 0 2 1 12 0 7 1-24 1 18 0-6 2-6 0 13 1-43 0 52 0-35 1-20 0 34 0-22 1 15 0-17 1 25 1-31 0 17 1 19 0-32 1 19 1 1 0 7 1-27 0 19 0 17 1 2 1-17 2 8 2-1 1 2 1 6 2 0 0-9 1-4 4 14 1 3 3-1 0-5 1 13 1-7 4 4 2-9 3 3 0 8 1-8 0 4 1-8 1 9 0 1 1-3 4 6 1-15 0-860-77 4 1 22 6-15 3 20 2-6 6 1 3 4 9-3 2-14 1 6 2-19 0 0 0 0 1 5 2-5 5 7 1-10 2 8 0 4 3-9 1 13 11 12 3-5 7-5 3-5 1 14 2-25 1-9-78-20 1-20 0 45 2-8 3-5 1 10 1-5 1 8 1-51 1-5 2 50 0 1 3-49 1 12 2 41 1-63 0 12 0-21 1 64 1-17 0 22 1 0 1-31 3-34 0 65 1 1 1-48 1 17 1-22 2 6 1 14 0-41 1 40 1 8 0-12 0-6 1 35 0 0 2-44 0 47 1-13 0-7 1 27 0-42 2-24 2 23 0 25 0-2 1-49 0 24 1 4 1 24 0-39 0 21 2 29 0-17 1-20 0 41 1-27 1 27 1-6 0-61 0 70 1-59 0 14 0 42 1-19 2-42 1 12 1-23 0 72 2-36 0 25 1-3 0-57 1 19 2 12 1 44 1-12 0-21 1-41 2 52 5-19 2 14 1-63-72-3 3-12 5 19 17-2 5 0 1-4 8-46 3 54 3-44 4 29 3 7 2 6 2-63 4 13 1 37 6 10 1-77-28-11 59 10 13-36 16 94-53 28 0-50 1 30 7-40 2 43 1 18 1-32 1-1 15 25 1-51 2 8 2 7 0 43 2-6 0-6 5 12 4 0 1-15 3-21 2 8 2 8 0-32 1-19 0 59 0 3 1-33 1 29 3-48 0 23 4 24 1-55 2 32 0-37 1 74 2-21 1 15 1 2 2-7 0-9 2-18 3 83-79-33 1 9 2 19 2 28 0-60 2 26 0 8 1-12 1 42 1-26 2-31 1 25 0-38 1 33 1 34 0-40 2-10 3-17 0 71 1-37 0 7 4 35 0-4 1-38 0 11 1-29 1 27 4-33 1 30 0-36 1 18 2-9 2 62 2-9 0 3 3 0 0 1 0-54 1 45 2-19 0 26 0-11 2-30 0-26 2 57 0-25 2-21 0 10 2 38 1-43 1 19 0-14 4-4 0-17 0 39 2-37 1 66 1-55 1 55 0-26 1 27 1-56 0 64 0-64 0-7 1 25 1 10 2-35 1 48 2 13 0 4 2-33 0 36 1-46 2 56-78 7 2-7 3 2 2 11 1-12 4 18 8-10 1 14 5-11 4 12 0-10 1-2 3 4 1-11 1 2 0 2 5 7 1-16 3 22 1-6 1-2 1 7 0 1 1 2 2-14 1-5 0 19 0-18 1 17 0-18 6-3 1 12 0-5 1 0 4 18 1 0 4-4 0-15 0-5 1 22 1-23 1-7 1 27 1 847-72 2 1 2 0-4 5 2 3 3 1 3-14 2 0 21 1 31 2-55 0 28 0-4 1-18 0 41 1 3 1-39 0 14 0 2 1-13 0 36 0-44 0 1 1-6 1 12 2-13 0 56 1-49 0 53 0-46 1-3 1-7 1 13 1 28 0-23 1 3 1 27 1-44 0-3 0 3 1 8 1 48 0-35 0 25 1-45 0 50 1-60 0 37 0-19 1 7 1-7 0 18 1 15 0-43 1 51 0-22 0 38 2-38 0 7 0 25 0-23 1-29 0-13 1 13 1 55 1-34 2 22 2-27 1 10 0-37 1 10 0-7 2 38 2-33 0-6 1 55 1-16 1-24 0-9 2 62 0-40 1-1 1-24 0 14 1-15 1 55 0-26 1 25 1-35 1-11 0 1 1 37 1-12 0-27 0 42 1-4 1-31 1 42 0-12 1-37 1 53 2-26 1 35 0-56 0-11 1 50 0-12 0-39 1 49 2-11 2-33 1 58 1-34 0 39 3-32 2 18 1-23 0 2 0 62-74-24 6 16 14 4 6-15 0 12 2-15 9 13 1 8 3-7 0-13 1 3 0 34 6-34 0 16 1-16 1 3 9 3 5 5 0 19 4 22 3-53 2 82-43-65 50 4 1 1 3-29 3 46 2-34 1 10 1-16 3 52 1-56 4 19 3 35 2-48 1 27 2-13 0 7 1 41 2-41 0-16 2 3 0 27 2-38 0 19 0-24 6 7 2-2 0 21 0-16 1 28 0-35 2 19 0-20 1 19 2-21 1 11 1 6 2 8 1-5 2 2 4-11 2 36 3-44 1 11 0 25 1-17 2-10 1 10 2-21 0 2 1 10 0 19 1-21 0 3 1-15-79-35 1-8 0-3 0 4 1 7 1-6 0 5 0 15 1 4 1-16 0 15 2-20 0 5 0-8 1-5 0-12 1 17 0 33 0-26 0-30 1 2 0 52 0-12 1-29 0-8 0 11 1-10 0 27 1-20 2 10 2 37 1-29 0-12 0 19 2 21 1-32 0-6 1 15 0-30 1 23 0 34 0-25 0 11 1-42 0 40 0-12 0-11 4 25 0-18 0 21 1-9 0-35 0 20 0 28 1-12 0-35 1 24 0 3 0-22 1 49 1-16 0-4 0 7 3-34 1-2 1 4 0 9 0 12 0-20 0 40 2-47 0 18 1-7 1-4 0 33 1-27 0 17 0 5 0-34 3 5 0 22 0-16 2 6 1 24 0-5 0-33 0 48 1-13 0-32 0 19 1-13 1 37 0-50 0 1 1 7 1 37 0-26 0 2 0 3 1-6 1 26 1-3 2-1 1-10 1-23 0-3 1 25 1-24 0 32 0-12 1 6 0-6 0 27 1-48 0 0 1 44 0-44 0-7 2 26 1 27 1-38 0 35 2-17 0 10 2-16 0-6 0-13 1 45 1 0 1-23 0 3 0-19 1-2 0 7 0-902-76 8 1-26 9 32 1 2 0-20 1-5 2-1 1 21 5 8 1-18 4-18 0 17 0-16 1 42 2-11 1-14 0-12 1 28 2-32 3 41 4-5 0-27 4 17 1-21 3 27 0-16 2 4 0-5 1 12 1-3 0-16 2-9 2 0 1 34 1-32 0-7 1 1 0 37 0-36 0-1 1 34 0-8 2 4 0 4 0-1 4-1 0-3 0 13 1-4 1 0 1-17 1-19 0 36 1-10 2 13 3-28 0 52 1-76-75-45 0 16 0-17 1 48 1-37 1 39 1-19 1-22 0 19 1-32 1-4 1-12 0 51 1-8 0-27 1-20 0 13 0 55 1-28 1-38 1 9 0 60 2 3 2 4 1-35 1-34 1 9 3 58 1-68 1 3 0 21 1 37 0-40 1 46 0 3 2-21 1-39 1-7 1 32 3 20 1-10 0-30 2 52 0-42 1-23 0 19 1-10 1 50 0-54 1 53 0-60 0 42 0-10 2-35 0 67 1-65 0-2 2-2 3 3 1 29 2 35 3-62 2-1 0 68 1 1 1-32 1-31 0 56 1-9 1-42 0-2 2 45 0-14 2-2 1-18 2 30 1-11 1-12 0-26 1 2 0 1 0 48 0-8 1-57-76-20 0 22 2 1 0-58 2 22 0 27 1-30 1 5 0 12 0 1 2 23 1-15 3-31 1 34 0-45 1 44 9 3 2-2 3-21 3 14 2 4 15 14 3-28 0 24 4-53 1 51 2-7 3 11 3-21 0 17 3-66 11-73-2-53-53 188 61 9 1-33 12 23 7 8 12-31 17 14 2 97-56-60 2 48 0-38 1 47 0 5 1-5 3-63 1 54 1 14 1-20 0 10 0 9 1-41 0-15 0 17 0-9 1 7 0 15 0-41 1 34 6 32 2-4 2-1 2-34 1 43 3-58 0 54 1-37 0 13 1-47 3 61 0-10 5-29 2 33 0 0 2-36 0-12 0 61 1-70 1 67 0-4 1 3 1 6 0-51 1 42 4-14 3 28 3-15 3-29 0-9 1 41 4 9 6-35 0 35 4 25-75 33 2-2 3 4 0 14 1-67 0 59 1-31 2 12 2-19 1-7 1-16 2 15 1 23 2 23 1-2 0-8 1-38 1 41 1 22 1-17 0 17 1-18 0-37 1 57 0-23 1 3 1-41 0 1 2 20 0 16 2-26 2-21 3 43 0-2 1-1 0 27 0-13 1-14 1-6 2 14 1-16 0 39 1 0 2-79 0 25 1 8 0-18 2 44 2-33 0-7 0 3 2 53 2-5 1-12 1-48 1-9 1 2 0-1 1 43 1-17 0 15 1-32 1-4 1 8 2 64 0-66 1 60 2-69 1 72 2-5 1 8 1-5 0 2 0-41 2 35 0-67 0 64 0-46 0 63-36 8 5-3 0 3 11 9 2 2 1-8 4 10 1 11 1 6 1-13 2-11 3 6 1-23 7 825-79 18 0 28 0-22 0 17 1-11 0-5 1-12 1-8 0 6 1 33 1 2 0-5 0-11 1 21 0-40 1-8 0 20 0 8 0-4 1-21 0 30 0-20 0-10 0-2 1 10 0 22 1-22 1 25 0-16 1 26 1-14 0-7 1 16 0-39 2 35 1-12 1-20 1-4 0 41 2-33 1 27 0-20 1 26 0 0 0-28 1-2 1 8 2 27 1-39 1-6 4 7 0-1 1 34 1-9 1 15 0-9 0-41 1 8 0 2 0 26 0-36 0 14 1 7 0 13 1 10 0-25 1 12 1 17 1-44 0 44 0-4 0-42 1-4 1 10 0 15 1 8 4-30 1 14 1 21 1-23 0-1 0-13 0 29 1-16 0-2 0-9 0 9 0-2 0 3 0 34 1-3 0-10 0-10 0-13 0 14 5 21 1-32 0 9 1-13 0 38 0-4 3-13 0 13 2-20 0-4 0-12 0 12 1-15 2 6 1-4 0-1 0 11 1-22 0 3 2 15 1-13 1 20 1 22 0-36 0 46 1-16 0-39 2 49 0 41-75-20 1 51 0-50 3 1 3 1 1 19 1-4 2 19 2-32 0-13 1 28 1-19 1 53 0-61 1 14 2-5 1 36 2-25 0-21 1 18 2-1 0-20 0 0 3 69 0-61 1 23 1-19 1 20 0-19 0 11 1 32 0-37 1-13 1-4 1 23 0-1 1-22 1 1 2 2 0 30 2-8 0-18 1 2 0 13 1 7 0 3 1 2 0-34 1-3 1 2 2 20 3-6 3-15 1 24 1-14 0 7 4-10 0-6 2 28 0 19 1-1 0 16 6-31 1-24 1 40 0-4 0-33 1-11 1 45 1 56-64-1 14-18 19 4 9-7 0 9 14-78 12 11 4 23 1-37 2 21 1-13 0 19 0-18 1 1 1 23 1-21 2-19 1 6 0 35 2-24 1 12 3-20 1-10 1 52 2-28 2 3 1-18 0-3 3 30 1-29 6 1 1 30 2-30 3 3 5 33 0-20 2-19 1 43 1-7 2-30 3 14 1-24 0 65 1-47 2-18 0 65 2-30 4-36 3 19 2-19 1 31 3-81-77 21 1-7 1-25 1 6 0 17 0-8 2 44 1-16 0-29 1 38 0-48 3 34 1-1 1-28 1 2 0 47 0-16 0-21 0 35 0-29 0-6 0 10 1-4 0-18 0 30 3-4 0-24 1 45 0-22 0-18 1 10 0 0 1 28 0-6 0-48 0 50 1-15 0-11 0 35 0-11 0 10 1-55 0 8 1 44 0-16 0 0 1-40 1 29 0-21 0 13 1 38 0-28 2-33 0 14 0 10 0-1 0-15 1 17 0 25 0-5 1-48 1 8 0 18 0 31 1-60 0 5 0 55 1 3 0-57 0 37 1-3 1-39 1 59 0-34 1 24 2-19 0 9 0 4 1 8 0-29 1-7 2 50 0-64 0 46 0-10 0-9 2 20 0-1 1-47 0-2 0 55 0-1 1-30 0 44 1-22 0-33 0-7 0-1 1 2 1 14 1-16 2 10 2-21 0 35 0 5 2-18 0 17 0 33 0-31 1 4 0-33 1 56 0-6 0-51 2 13 1-15 0 56 1-32 0-2 0 1 2 35 0-28 1-13 0 40 0-14 1 1 0-7 1-46 1 20 0-16 2 37 0-22 0 33 1 0 1-33 0 9 0 23 1-17 0-34 0 66 0-61 1 63 0-1 1-33 0 23 0-59 1 56 1-62-6-2 3-552-13 40 1-26 1 28 0-29 1-5 1 2 0-9 1 43 0-3 2-11 0 10 0-41 0 30 0-22 1 11 0 1 1 26 0-19 2-10 0 4 0 26 1-43 0 42 0-16 0-13 1 26 0-4 1-31 2 23 0-8 0 24 0-34 0-86-24-7 2 1 1 30 1-2 0 3 0 17 2-38 0 41 0-48 2 40 2-40 0 70 2-21 0-11 0 32 1-69 0-1 1-3 1 16 2 57 0-5 0-31 1-18 2 37 0 21 2-26 0 16 1 8 0-58 0 13 1 36 0-147-59 10 5-8 2-1 5 13 3-7 2 7 1-8 1 10 0 10 2-12 0 1 1 24 1-23 1 13 0 14 3-33 1 31 3 3 1 24 0-61 0 12 2 36 0-23 0 46 1-69 1 3 1 18 0-23 1 63 0-41 1-18 0 2 0 7 1 14 1 40 0-74 1 68 0-13 1-9 1-45 1 63 0-45 1-9 1 60 1-47 1 2 1 26 1-4 3 8 1-30 0-3 1 3 1 36 1-10 1 4 0-94-79 6 3 13 0-12 0-7 2 12 2-44 1 40 1-39 0 26 2-5 0 14 4-2 2 30 0-17 0-49 1 0 0-3 2 64 0-44 2-12 0 14 0 9 0 4 0 18 2-31 1 33 4-45 0 37 1-16 1 5 1-34 1 33 2-36 1 60 2-52 1 36 1 17 1-24 0-18 0-4 2 33 1-21 0 26 1-1 1 17 1-53 0 37 0 0 1 13 1 5 4-1 1-34 0 35 3-4 1-49 2 26 1-14 0 1 1-20 1 51 1-22 1 34 2-52 0 12 0 40 0-2 1 2 1-22 0-20 0 7 4 22 0 8 2-57 1-62-76 14 0-25 3 37 2-12 2 18 1-9 2-21 1 44 3-40 3-21 1 9 2 15 1-27 0 57 0-26 1 28 2-65 4 27 0 26 1 6 0-15 1 7 2-15 2 21 0-8 5 5 3 1 1 6 2-18 0-14 7 33 1-1 4-63 3 65 2-26 1 21 3 4 2-4 4-15 2-14 3 17 2-63-74 6 2-50 0 23 14 19 8-11 10-118-17 208 58-15 0-35 4 55 11-15 5 17 7-23 0 22 9-2 4-10 5-22 2-19 26 64-73 58 0-2 1-35 2-12 1 45 0-3 3-29 0 44 1-3 1 8 0-11 1-35 1 9 0-2 1 34 0-30 1-7 1-6 0 27 0-6 2 14 6 14 0-19 1-39 0 32 0-9 1 5 1 18 0-11 1-6 3-6 1 17 1-21 6 12 5-4 3-33 2 28 1-41 8 49 4 27 2-28 5 28 2-58 9 9 0 116-77-49 0 25 1 30 1-35 0 27 0-4 1-45 0 22 1-13 1 51 0-72 1 40 0 2 0 12 1-14 1-22 1 7 0 43 1-11 2 4 3-20 1 3 1 8 0 9 0-57 1 56 0-23 1 0 0 14 0-39 3 41 1-48 0 23 0 39 2-8 0 3 0 14 1-9 0-48 1-7 1 1 1 9 1 49 1-14 1-34 1 12 0 36 1-45 1 8 0-19 0-16 1 35 0 23 2-20 1 20 0-31 3-2 1 53 2-39 1 17 1-3 2 7 0-11 0 28 1 2 0-42 1 15 1 3 0 18 0-5 2-13 1-37 0 43 1 5 1-18 5-9 0-33 3 50 1-5 1 28 1-71 1 50 0 17 7-40 0 49-77 46 0-24 1 21 0-13 2-4 1 2 0 29 0 12 1-3 0-67 1 37 1 35 0-6 1-25 0 4 0-4 1-44 0 1 0 56 1-47 0 64 1-12 0-60 1 14 1 9 0 17 1 37 0-64 0 58 1-5 0-11 1-14 0-37 0 23 0 44 1-55 0-5 0 35 1-23 0 1 3 41 0-5 1-40 0 38 1 12 0-27 1 4 1 0 0 29 0-63 3 63 0 0 0-44 2 37 1-47 0 49 0-72 0 44 0 10 1 1 0-25 0 19 1 27 0-60 1 14 1-20 0 46 0-10 0-14 1-19 0 65 0-70 0-8 1 35 2 18 1 17 1-68 0 45 1-3 1 33 2-68 0 59 0-29 0-21 1 23 0 8 0 9 0-16 1-36 1-2 1 58 0-22 0-14 2 8 0 4 1 19 1-36 1-22 0 11 0 62 1-53 1 24 0-20 0-21 1 21 0 6 2 9 2-33 2 12 0 58 1-3 0-25 0-1 1-19 2 15 0-34 1 14 0-16 0 54 0-26 0-21 1 19 0 30 0 11 0-57 1 28 3 12 1-55 0 42 1 22 0-11 1-48 0 33 1-25 0 46 0-5 2-19 0 82-78-21 0 22 2-28 1-4 1 27 0 2 0-16 1 0 0 20 1-10 0-24 1-3 0 0 3 10 0-11 0 5 0 22 1 21 0-34 1-8 1-2 0-3 0 14 0 33 2-30 1-4 0 10 1-1 4-26 0 45 0 4 0 3 1 0 0-17 1 9 0-23 1 6 1-5 1-22 0 53 1-1 0-50 0 53 0-39 1 28 0-1 0-34 0 29 1-6 0 23 0-22 0 23 1-21 1-1 0-13 1-12 0 31 0-28 1-8 1 34 1-14 1 37 0-36 1-4 0 34 1-25 0 30 0-17 1-31 0 46 2-14 1 11 1-21 0-13 1 37 0-25 0 29 1-62 2 66 0-28 0-1 1 0 0 29 1-26 1 15 1-19 0 13 1 16 0-48 0-10 2-7 0 21 0 5 1 20 0-44 0 21 0 48 0 0 1-29 0 12 0-44 1 0 0 31 1-12 0-7 0 30 0-42 0 40 1 2 0-39 1-1 2 47 0 1 0-30 0 36 0 8 1-69 1 7 0 38 0 6 0-28 1-7 1-4 0-16 0 55 1-54 0 4 1 24 1-10 1-5 0-5 1 42 1 1 1-9 0 21 0 12 0-21 1-48 0 30 0-22 2 41 0-13 1-12 0 27 1-40 0 531-71 1 1-4 2 8 1 0 3-6 3 7 1-22 7 20 0-14 1 7 1-10 4 16 0 3 1-7 0-1 0 4 1 7 0-15 0-15 0 24 1-10 1-15 1 31 0-6 1 1 1-30 0 19 1 9 1-29 1 24 0-19 1 22 1-15 1-5 1 10 1 19 2-35 0 19 1 16 1-8 0-5 0-20 1-14 1 14 1 28 0-33 1-9 1 14 0-5 1 36 2-50 0 47 0-32 1-1 0 18 1 19 1-28 0-27 2 33 0 2 0 2 0 15 1 0 5-38 0-4 0 21 0-5 2 0 0 11 1-8 0-23 0 44 2-4 0-1 1-48 0 29 0-39 1 43 0-23 1-11 0 33 1 24 0-41 0 47-79 4 1-4 0-2 1 62 0-61 0 56 1-19 1-28 0 34 0-25 0 56 0-66 0-7 1 55 0-57 0 5 0 53 1-25 0-4 2 14 0-26 0 15 1 33 0-3 0-28 0 17 0-14 0 15 1-52 0 5 0 18 0 32 1-32 1 38 0 13 0-74 0 25 1-11 1 39 0-33 1 28 2 5 0 22 0-30 1-28 1 37 0-54 0 13 1 63 0-34 1-31 1-7 0 6 0 3 0 17 1 28 2-55 0 0 1 7 0 12 1 28 0-3 0-11 2-24 1 1 0-4 1 0 0 51 1-52 0 17 1 44 0-13 0 0 0-32 1-6 1 15 0-10 2 7 0-25 0 26 0 14 0-4 0 21 0-43 0 17 1 37 0 2 0-60 0 2 1 1 0-1 0 38 1-23 0 42 0-65 1 27 1 22 0-19 1 20 1-2 0-43 0-2 0 22 1-17 0 41 1 17 0-56 0 54 1-58 0-13 0-2 0 75 2-66 3 57 0-37 1 19 0-41 0 55 0-19 1-18 0 40 1-23 0-35 0 57 1-56 2 47 0-8 1 19 1-48 0 15 0 17 0-39 1 16 0-9 1-7 0 4 1 34 1 23 1-42 1 43 1-64 1-3 0 64 0-61 0 54 0 11 0-39 1-19 0-1 1 42 1-48 1-7 2 72 1 5 0-26 1-53 1 66 0-14 0-18 0-33 1 11 1 94-79 40 0-57 0 18 2-22 0 12 0-17 1 5 7 11 4-3 0-8 3 35 1-25 5 24 1-23 4-6 3-5 2 13 1 6 1 23 0-28 2-19 3 10 2 6 1 40 5 6 0-28 5-13 3-11 1 16 2-19 2-6 7 4 5 21 1-16 1-1 2 7 7-9 11 19 2-22 5 30 11-13 1 40 0-52 15 13 1-10 3-12 8 8 6-7 11-58-77 15 1-12 0 17 1-19 0 22 1-43 0-2 1 9 0 31 1-14 3 6 0 21 0-19 0-31 0 30 2-22 1 5 1 21 2-23 0 44 1-44 0 48 1-8 2-34 0-4 0 31 0-23 0 23 1 4 0 17 2-41 1 29 0-35 4-18 2 23 0-13 1 8 0-11 0-1 1-9 0 19 2-14 2 2 0 13 1 8 2 2 2 12 0-24 2 8 2 23 4-5 0 34 2-56 0-8 1 57 1-32 1-20 2 25 0 3 5-1 1-34 2-1 0 36 5-15 1-13 5-14 0 59 4-132-77 27 0 20 1 18 0-13 1 2 0-16 0 26 1-24 1 4 1-2 0-15 0-29 1 66 0-3 0-39 0 26 1-11 0-19 0 14 1-17 0 19 0-31 0 11 1 25 0 4 0-18 1-20 0-15 0 66 0-24 1-45 0 5 0 9 3 1 0 4 1-14 0 4 1 34 0-38 1 36 0-9 0-9 1 31 2-39 0 57 1-16 2-55 0 19 0 43 1-46 0-3 1 25 1 0 0 11 0-28 0 50 1-65 0-1 0 49 1-32 0-5 0 34 0-47 1 26 0-31 1 56 0-18 0-20 1 25 2 30 0-39 0-11 0 54 2-24 1-6 1-1 1 4 0-24 1-16 0 24 1 1 0 0 0 4 0 6 0-7 1 7 0 11 0-42 0 32 1-37 0 43 0-33 2 50 0-43 0-14 0 56 0-48 1 32 1 0 0-22 1-16 0 7 1-19 0 10 0-6 1 33 0 25 0 7 0-35 1-35 0 42 0-5 0-31 1 8 1 39 1 2 0 17 1-71 0-2 0 45 1-21 0-19 1 60 1 4 0-14 0 8 2 3 0-17 0-49 0 68 0 1 0-64 0 2 1-5 0 12 1 14 1-21 0 59 1-55 0-10 0 41 0-10 3 2 0 15 0-27 1 14 1 10 0-15 1-24 0 26 0-11 0 26 1-37 0 27 0-14 0 47 1 8 1-46 0-17 1-1 0 13 1-19 0 54 0-47 1 52 0-45 0-23 0 32 1 18 0-39 0 12 1-12 1-19-57 6 5-4 0-10 0 14 2-4 1-15 1 16 3-1 1 3 0 1 2-12 2 0 0 8 0-12 1 2 0-11 3 4 0-8 1 26 0-2 1-1 0 5 2-14 1 11 1-24 0 11 2-4 1 19 0-10 1-14 0 20 1-3 0-16 0 23 0-45 2 5 2 11 3-16 0 18 1-31 1 57 0-56 0 14 0-4 0 0 1-4 1 15 0 16 1-4 1 25 0-65 0 59 0-16 0-28 0 11 0 19 1-36 1 42 0-28 0 13 0 11 0-31 1-1 0-16 0 33 0 35 0-1 0-25 0 2 1-1 0 17 1-37 0-22 0 40 0-11 1-8 0-30 1 59 1-35 0 24 0-42 2 11 0 11 1 7 1-16 0-1 0-30 0-230-19-1 10 25 0-12 2-12 0 9 1-8 0 21 2 12 1-21 0-10 0 33 2-12 1-102-77 0 1-2 2 12 6-7 1 5 4-9 2 16 2-17 0-1 3 0 1 24 1-8 1 6 0 0 2-13 1-4 1-5 1 6 0 17 0 2 1-20 0 10 1 13 1-20 2 10 0 19 1-8 0 14 1-19 3 14 0-18 1 14 0 16 3 4 0-51 1 18 1-19 2 34 0-16 1 13 0-2 1-9 1-11 0-2 0 1 0 5 1-15 1 26 0-3 0 13 1-28 0 8 0 54 1-22 0-3 1 13 1 6 0-56 1-4 1 3 1 40 0 18 0-50 0 24 0-33 0 54 0 3 1-60 0 22 2 50 0-45 0 33 0-11 1-34 0 54 0-51 1-7 0 50 1-2 0-38 1-9 0 1 0-4 0 33 0 1 1-18 1 38 0-48 1-13 0-3 0 2 1 70 0-17 0-16 0 31 0-49 0 23 1 17 2-29 0 32 0-46 0 19 2-19 1 19 0 32 1-3 0 1 0-149-79 11 0 10 0 13 2-6 1-18 0 14 0 22 2-33 0 51 0 12 1-64 0 29 1-39 0 77 0-10 1-29 0 24 0-46 0 11 0-1 2 41 0-7 0-21 0-35 1 11 0 54 0-22 0-41 1 4 1 60 0-26 0-45 2 33 0-31 1 21 0 46 0 5 1-51 1 54 0-35 0 24 1-33 1-32 0 40 1 23 1 9 0-54 2 4 1 36 0-36 1 18 0-7 1 20 2-16 0 37 0-59 1 14 0 48 0-2 1-14 0 5 0-29 0 11 1-23 0 7 0 41 1-26 1-47 0 38 0 36 1-51 0 25 1-26 1 10 0 22 0 16 0 6 1-14 0-12 1-3 0 8 0-3 2-44 1-6 1 71 0-61 2 18 0 39 0-12 0 10 2-35 0 36 0 4 1-1 0-30 0 26 1-27 0 3 0 26 0-35 0 35 1-63 0 15 0 39 1-33 0 40 0-48 0 26 1 17 0-46 1 23 0 35 0-58 0 38 1-36 2 29 1 14 0-14 0 23 0-44 1 21 0 2 0-27 0 31 0-22 1-13 0 57 0-40 1-30 1 22 0 34 1-14 0-43 0 64 1-10 0-49 2 40 0 24 0 2 1-67 0 30 0 10 1-14 2 31 0 9 0-22 1-52 1 74 0 3 0-26 0 19 0-11 1 6 1-65 0-2 2 36 1 21 1-26 1 31 1-85-79-40 0 57 1-2 2-41 0 44 1-35 0 23 3-3 0-51 0 11 1-5 1 42 0-4 1-21 0 5 0 3 1-2 0 13 1-38 2-3 2-8 1 52 0-31 0 37 0 15 1-20 0-9 1 29 0-33 1-7 2 39 0-67 0 11 2 26 0 12 1-42 0 22 1 40 0-45 0 18 0 19 1 11 1-56 1 10 2 23 1-19 4 2 3 40 0-16 0-38 1 17 0-19 0 14 2 42 2-52 0 19 0 7 0-10 0-6 1 0 2 17 11-6 1 3 2-15 0 11 2 27 1-9 1-6 2-36 3 25 1 12 1-9 1-30 0 29 2 11 2-5 2-100-78 37 1 0 1-47 0-16 1 37 1 22 0-46 3 32 0-13 2 2 2 14 1-55 1 68 0-5 1-26 1 31 4-48 1 45 5 6 3-29 3-13 2 31 0 16 2-68 1 40 1-48 3 70 13-15 1-36 1 10 4 47 2-74 2 11 1 5 6 57 0-9 2 7 3-126-73-15 1 29 2 7 5 28 6-52 5 23 4 19 1-32 7-54 24 28 32 54 25 10 24 79-58-24 30 9 3 8 21-10 13 101-68-7 2-20 0-33 0 37 4-6 1-15 0-20 1 39 3-19 0 36 1-32 2 37 1 1 1-22 7-11 1 27 0-15 1-32 12 43 12 6 1 1 6-6 7 2 1-11 5 17 2-38 3 33 4 84-78-25 1-42 0 33 0 25 1-61 1 58 2-36 1 10 0 39 2 3 0-33 0-25 0 34 1-42 1 9 0 31 0-48 1 44 1 25 1-6 0-66 0 76 0-62 1 6 3-8 0 33 0 14 0-17 1 29 1-33 2 32 2 8 0-19 1 8 0 10 0-30 1 20 2 9 0-1 2-52 1 54 1-4 1-44 2 44 0-54 3-7 2 61 1-2 5-32 2-3 1 29 3-29 3-23 2 16 1 34 5-36 1 5 2-3 0-16 1 32 2 11 1 7 2-3 1-48 0 43 6 17 1 19-79 17 0 22 0-28 1-1 0 40 0-19 0 18 1 4 0-42 0 23 0 13 0 2 1-7 0-4 1-8 0 5 1 31 0-12 1 1 1-10 0 18 1-16 0-19 0 37 1-21 0-12 1 30 0-23 0-49 0 58 0-11 1-7 0 25 0-61 1 4 0 46 1 16 0-29 0 17 0 10 1 0 1-41 0 10 0 1 0 6 0 24 1 2 1-26 0 13 0-37 1 45 1 1 0-11 1 17 1-50 0 52 0-1 0-65 2 46 0 20 0-74 1 45 0 4 0 6 2-6 1 24 0-29 0-32 1 16 0-13 0 13 0-16 1 60 0-28 1 9 0-42 1 41 1 3 0 8 1 8 0-56 1 60 0-44 1-31 2 71 1-60 0 50 0-6 0-12 1 12 0 1 0-11 0 26 1-37 0 37 1-24 1-17 0 39 0-56 0 57 0 3 1-37 2 1 0 23 1-8 0 14 1-17 1 16 0-66 1 25 0 31 0-39 2 52 2-59 0 58 2-59 2 25 0 23 1-14 0 25 0-18 1 4 2 18 0-70 3 66 4-37 5 17 2-11 0-23 2 5 1 77-78 13 1 19 0-13 1-33 0 28 0 24 1-9 2-31 0-1 0 1 0 8 1 28 1-49 2 29 0 29 0-48 1 24 1 23 0-15 0-19 0 4 1 28 0-48 0-6 0 36 2 4 0-27 0 59 1-38 1-29 0 66 1-17 0-4 0-11 0 21 1 14 0-21 1 13 0-59 0 47 0 6 1 8 0-3 0-53 1 52 0-42 1 4 0 2 1-21 0 32 0-29 1 64 1-31 0-23 0-20 1 42 1-33 0 53 0-51 0-9 1 5 0 59 1-3 0-52 1 20 0 37 1-37 0 44 0-56 1 46 1 5 3-38 0-27 1 59 0-65 2 52 0-50 0 71 0-29 1-15 0-4 0 6 1 2 0-32 0 52 1 12 0-5 0-31 1 17 0-40 1 43 1 0 0 16 1-47 0 32 1-2 1 7 2-34 1 13 0 2 0-31 1 21 0 50 0-6 1-3 0-12 0-24 0 41 1-12 1-34 0 3 2-17 1-11 0 62 1-47 1 61 1-68 0 2 1-1 0 66 1-23 1-26 0 2 1-10 0 57 1-74 0 32 1 3 0 39 1-34 0 34 0 1 1-31 0 11 0-8 1-37 0 29 2 27 1 9 0-14 0-29 1 18 0-54 1 15 1 20 1 37 0-22 0 28 1-68 1 74-66 4 0-6 2 19 0-12 1-3 1-5 2 2 0 31 0 6 1-27 0-8 1 73 1-66 1 0 0 3 1 64 1-38 0-14 0-23 0 37 1 3 0 27 0-47 0-9 0 59 0 4 0-32 0 17 1-30 0-5 1 47 0-42 1-24 1 34 1-16 1 15 0-33 1 51 0-11 0 13 1-30 1-31 0 45 0 28 0-19 1-53 0 40 0-25 0 12 1 1 1-2 0 3 0 34 0-65 0 17 1 41 0-58 1 23 0 10 1-33 0 15 1 24 1-18 0 28 1-4 0-37 2 24 1 18 0-13 1-6 1-5 1 13 0-13 1 7 0-11 0 38 0-6 0-10 0-43 1 0 0 13 1 56 1-61 0 25 0-32 0 64 1-26 0-5 0 7 0 2 1 14 0-24 0-10 1 1 1 52 0-1 0-27 0 1 0-42 1 45 0-39 0 32 1 0 0 27 1-37 0 17 1-30 0 52 0 2 3-60 0 31 0 1 1-49 0 0 0 31 0-12 0 14 1-2 1-22 1 47 2-5 0 7 0 3 1 15 0-32 1 13 0-5 1-30 0-9 0 0 2 35 0-35 0 58 1-63 0 50 0-9 0 6 1-3 0 20 0-53 0-6 0-11 1 144-78 7 3 4 0-7 2-8 3-1 0-6 1 12 1-33 0 27 1 17 0-5 2-38 1 34 0-55 0 20 1-11 1 46 0-60 0 18 1-1 0 44 0-47 1 25 1 29 0-65 0 63 0-12 1-42 0 42 1-51 0 7 1 5 0-10 1 23 0 2 1-5 0-31 0 75 1-67 1 40 0-5 0 19 1-44 0 19 0 38 0-25 1-44 0 42 1 8 1-10 1 4 0-14 0-22 2 23 1 29 0 9 0-24 0-15 1 8 1-46 0 77 0-11 0-57 0-7 1 61 1 9 1-7 0-66 1 46 1-46 0 31 0 26 0-49 1 70 1-56 0 11 0-14 1 33 0-30 1 39 0-17 0-26 0-10 0 69 1-69 0 2 1 27 1 5 0 35 0-63 0 5 0 48 2 1 1-19 1-28 1 23 0-4 0-9 0-27 0 14 1 11 1 9 0-2 0-9 0 40 0-18 2 14 0-19 0-27 0 38 1-54 1 71 0 7 1-27 1-25 1 10 0-35 0 31 1-11 1-22 0 34 0-23 0 59 0-20 0-32 0 17 1-14 0-1 0 48 1-59 0 27 0 8 0-34 1 16 1 40 2-23 1 10 2-17 0 11 1-7 0 12 1-40 0 9 1-21 0 51 1-42 0 9 0 51 1 61-79 0 1-9 1 38 0-63 0 17 0 28 1-55 0 9 1-11 0 6 0 58 0-30 0 24 0-10 0 13 1-3 0-18 0-41 1 58 0 14 0-56 0-11 1 14 0 54 1-49 2 15 0 14 2-48 1 39 1 27 0-22 0-49 0 29 1 32 0-47 1 59 0-76 0 50 1-32 0 24 0 22 1-52 0 38 0-4 0 25 0-33 1-4 1-26 0 42 0-44 0 53 1-35 0 4 0 3 0-29 1 68 0-36 1 9 0-18 2 45 0-69 2 23 1 23 0 12 1-22 0-22 0 63 0-69 1 44 0 20 1-53 0 56 1-44 0-32 0 30 0 24 0-41 1 49 1 14 1-55 0 5 0-1 1 18 0 29 1-54 1 45 0-40 0-22 1 48 0-7 0 3 2-40 1 12 0 13 1 37 0-26 1 7 1-31 1-13 1-4 0 32 1 38 0-39 1 0 0-9 0 1 1 12 0 17 1 14 0-32 0 31 4-29 1 17 1 5 1 1 0-34 0 32 1-38 1 36 1-40 1-6 1 8 0 33 0-30 3 29 0-39 3 24 0 3 0-19 1 16 0-26 0 26 1 6 1-34 0 64 0-26 3-8 1-7 0 11 1-33 0 11 2 63-79 1 0 4 0 24 0-17 1 14 0-18 0 8 0 44 0-26 1-25 0 59 1 6 0-57 0 10 1 17 0-14 1 34 0-18 1-41 1 16 0 27 0-48 1 26 0-27 0 47 1 15 0 12 1-1 2-14 0-21 2 41 2-61 0-9 3 11 0-11 1 35 1-21 0 24 2-46 0 69 2-12 1-4 5-9 0 6 0 21 1-18 0-38 1-15 2 17 0 16 0-11 2 20 2-35 2 6 1 0 1 3 2 19 0-35 2 29 0-24 1 51 1-29 3 31 1-10 1-48 4 32 1 19 0-38 1 20 1 1 2 1 1 18 0-45 0 64 0-34 1-13 0-26 4 42 0-24 1 35 1-34 2 2 0 23 0-41 1 69 0 15-74 55 2-48 0 8 0 40 2-6 6-18 2 0 5-34 3 12 3-11 1 60 0-22 1-39 3 67 6-70 3 70 1-59 0-8 5 41 3 17 1-37 1 75-48 17 30 2 24-17 13-46 27-47 8 56 3-48 7-7 26 10 12-12 2-25-71-58 4 32 1 24 5-25 6 10 5 9 1-54 1 21 13-5 0 60 1-8 5-38 5-9 1-4 8 21 0-22 0 25 22-48-79-56 2 21 1 30 0-36 0 22 1-19 2 39 0 3 1-16 2-30 1-20 1-8 1 29 0-33 1 28 3 20 0-46 2 8 1 24 2-17 5 7 1 55 2-6 1-65 1 9 0 38 1-50 0 54 1-46 3 26 6-34 7 33 0 14 0-23 0 1 1-9 1 13 2-29 1 19 3 43 0 6 3-58 7 13 10-93-77 58 0-38 1 41 3-21 0-21 1-28 0 65 1-61 1 38 0-40 1 12 0 47 1-46 4 16 0 16 0-39 0 8 3 53 2-11 0-52 1 42 0-31 1 18 1 23 1-53 0 14 1-14 0 68 0-53 0 3 0 14 1-42 2 71 0-8 1 6 1-35 0-19 1 58 0 5 0-49 0 24 1-49 1 42 1 26 0-6 1-9 2-39 0 44 0-52 0 8 2 13 0 34 0-22 1-35 1 19 2-9 0 53 0-56 1-10 0 51 0 3 0 3 1 15 0-49 0 27 3-9 0-5 1 4 1-30 0 43 0-5 2 11 0-34 1 14 0-21 0 12 1 5 1-30 3 51 2-38 1 27 2-20 3 0 0-4 0 9 0 1 3 18 2-3 2-6 0 7 7-122-78-6 1 53 1 17 0-33 0 24 0-56 0 30 2-5 0 1 1-2 0 11 0 3 0 22 0-64 1 42 0-39 1 34 2-11 1-30 0 8 1 45 2-52 1 47 0 0 1-48 1 59 0-57 1 24 0-16 0-1 0 1 1 52 1-58 1 67 1-41 1-9 0 6 1-4 0 5 1-24 0 50 0 8 0 13 2-32 3-9 0-8 0 51 0-67 0 67 1-5 0 2 0-71 1 21 1 32 0-19 0 39 2-51 1 33 0-5 1-41 1 37 0 16 2-16 1-37 0-2 2-8 1 27 0 35 1-62 2 35 0 24 1 9 1-7 0-32 1 30 0-24 1-31 11 47 1 17 1-10 0-22 1 15 1-9 0-10 5 12 0-18 1-15 7-50-78-3 0 18 2-36 1 0 2-15 0 67 1-65 1-1 1 40 1-43 0 41 2-4 0-24 0-5 1 35 0-31 1 3 0 0 0-19 1 38 1-7 1-8 1 53 0-54 0 46 3-9 0-11 1 1 0-40 2 37 0 0 2 16 1 12 4-31 1 27 0-16 1-19 3 16 0-22 1 14 1-35 0 0 1-10 1 28 0-19 0 0 0 69 1-46 4 29 1 5 2-28 0-30 0-5 1 69 4 1 0-25 3-39 7 62 2-39 7-22 2 31 2 25 0-38 1-62-74 18 0-30 3-1 3 12 1 1 0 31 5-53 1 34 0-59 1 58 9-9 0 12 1 16 1-41 4-6 1-20 0 10 2 21 5 17 1-46 4 53 1-9 3-5 3 24 0-52 1 46 4 4 11-15 3 13 1-94-65-16 10 7 0 8 1 1 4 17 2-34 6 4 1-7 2-62-31-33 11 32 7 23 28-1 11-12 11 57 39 37 4 10-31 57 8-11 14-40 7 144-20-12 5-54 4 49 9-2 14-11 1 13 0-2 2 24-45 26 15 5 0-34 2 23 1 13 4-4 6 23 1 12 5-62 3 66 7-31 18 109-47-64 3 66 2-20 0 15 1-39 2 13 6-37 8 18 1-20 11 16 22 34 6 51-74-3 1 13 1-9 6 19 5-40 0 5 3 68 9-65 8 26 2 35 1-54 2 6 2-12 32 108-59 18 4-56 21 60 8 13 20 88-42-141 72-79 46-78-30-10 5-74 5-122-31-28 1" marker-start="url(#mg)" marker-mid="url(#mg)" marker-end="url(#mg)"/></g>
<path d="M304.5 112.5L292.5 109L280.5 109L274 110L266.5 112.5L255.5 117.5L241.5 126.5L236.5 130.5L225 143L220 151.5L215.5 163L215.5 165.5L214 171L213.5 179L214 186.5L215 192.5L217.5 200L221.5 207.5L225 212.5L233 219.5L242 224L256.5 229L263 230L276 229.5L286.5 226L297.5 219.5L306.5 211L319 196L322.5 189.5L326.5 176L327.5 167L327.5 158L325.5 143L324 139L324 136.5L323 133.5L317.5 123L313 118Z" fill="#32cd32" fill-opacity="0.94" filter="url(#bl)"/>
<path d="M332.5 279.5L437.5 312.5L491 344.5L467.5 366L445 379L395 394L354 404L321 407.5L226 372.5L212.3 344.5L212.8 337L241.8 297Z" fill="#ee82ee" fill-opacity="0.5" stroke="#ee82ee" stroke-opacity="0.7" stroke-width="1.5" stroke-linejoin="round"/>
<g transform="scale(0.2)" fill="none" stroke="none"><path d="M1709 1436l-47-38-123 34-330 53 29 15 12 13 96-31-2 32-42 3 117-64-15 40 12 5-30 1-18 1 25 1 20 3 16 3-1 0 9 1-26 0 16 1-30 1 12 1 3 2 21 1-11 3-57 0 31 0-5 1 16 0-3 0-39 1 71 0-5 0 30-63 30 6-33 9 45 2-11 1-52 4 47 1 22 1-53 2 27 3-42 1 21 0 57 1-18 3-47 1 48 0-25 3 31 2-8 0-13 1-12 1 34 0-22 0-19 1 42 0-1 1-7 0-35 0 44 1 2 0-69 0 63 1-24 1 8 0-27 1 34 0-30 1 41 1-29 0 34 1-20 0 14 0-27 0-23 2 0 0-16 2 40 0 35 1-73 1 13 1 8 0 30 0-32 1 25 0 17 0-7 1-8 0-4 0 13 1-37 0-21 1 58 0-15 1 77-77-27 14 20 4 31 3-49 11 7 1 44 1-51 1 15 1 39 1-42 2-22 0 16 0 54 1-42 1 27 2 7 0-61 0 18 0 27 1-20 1 45 1-66 0 19 1-5 1 12 0 34 1-19 0-27 1 24 1-2 2 7 0-50 1 54 0 9 0-56 0 20 1 19 1-33 1 37 1 13 0 11 1-3 0-19 0-33 1 14 0-7 1-12 0 10 0 51 0-43 1 40 0-13 1-58 0 65 0-61 1 5 0 34 1 6 0 7 1-9 0 4 1-16 0 30 1 8 0-20 0-46 1-1 0 44 1-7 1-3 0 24 1-33 2-31 2 55 1 13 0-51 0 87-65-3 1 3 3-3 3-16 3 3 1 46 5-30 2 16 0-14 3 31 0-30 2 3 1-21 2 9 0 52 1-34 0-31 1 5 2 36 0-7 1 29 2-64 0 64 1-72 0 53 1-29 1-3 0 42 0 4 0-58 1 42 0-45 1 19 1 15 1-8 0-18 0 45 1-40 0 43 1-42 0 54 0-33 1 21 0-30 1 11 0-28 1 9 0-10 1 44 0 9 1-38 0 2 0 25 1-8 1-25 0 27 0-47 0 56 0-37 1 38 0-6 1-42 0-5 0 32 0-36 1-3 0 12 1 12 0-8 0-1 1 32 0 13 0-3 0-56 0 37 2-38 0 37 0-31 0 25 1-22 0 15 1 14 0 32 0-33 1 28 0 0 0-49 0-6 0 38 1-7 0-22 1 48 0-11 1-30 0 3 0-2 1 14 0-31 0-4 1 31 0 33 1-39 0 43 0 22-60 5 0 7 7 39 4-38 1-8 4-5 1 20 2 6 0 17 0-13 1 17 1-64 1 42 5 4 2-38 1 60 4-24 0-40 1 47 1-11 2 35 0-29 1-46 1 1 0 24 0 6 2 32 1-32 0 0 1 20 0-23 1-23 1 25 0-18 0-5 0 30 1-4 1 22 2-25 1-25 0 19 0 2 0 28 1 14 2-33 0 22 3-11 0-11 1 10 1-16 0-21 1-4 0 38 0 4 0-37 0 139-47-58 14 67 4-5 6-26 2-22 2-3 5 6 2 43 1 7 2-77 1 0 2 0 1 63 0-30 3 24 1-37 0 123-30-26 7 23 1-42 2-12 12-6 2 20 2 9 1 19 4 54 0 246 43-101 5-6 18 1 6 32 2-33 2-21-33-9 2-32 2 58 13-48 1 25 1-37 7-17 0 31 3 33 0-49 1 26 2-21 0-18 1 29 1 6 1-9 1-22 1-80-70 12 2 49 2-42 3 23 4-14 5-15 1 53 2-32 4-5 1-5 2 6 1 6 1 32 0-68 1 47 2-18 4-22 0 18 4-2 1 13 3 23 0-13 0-40 1-12 1 72 0-38 0-16 1 13 1 3 0-2 0 15 1 22 0-33 1 18 1-54 0 20 0 41 0 4 0-57 1-8 2 62 0-13 1-11 0-1 1 0 1 27 0-37 1-17 1 39 0 6 1-17 0-33 1 22 0 34 0-41 1 31 1-41 0-5 1 3 1 32 0-6 0-14 1-15 0-3 1 13 0 11 2-2 0 26 1-5 0 5 0-32 0-10 1-6 0 13 0 14 0 37 0-84-73-58 2-3 1 9 1 3 2 11 1-8 1-8 0 8 1-5 0 55 2 2 1-56 2 35 0-19 3-22 0 51 1 11 3-46 1-3 0-19 1 73 1-46 1-8 0 23 1 14 3-8 1-24 0-19 1 51 0-44 2 29 0-39 1 59 0-13 0-48 1 13 0-11 1 9 1 18 2 4 0 26 0-7 1 22 0-63 0 6 1 61 0-64 0-12 0 6 0-4 0 5 1 18 0-25 1 26 0 25 0-32 1 1 0 53 1 0 2-74 0 47 1-43 0 0 0 67 0-27 1 9 1-19 0-35 0 33 0-4 0 38 0-13 1-47 0-6 0 29 1 29 0 20 1-32 0 20 1-10 0 11 0-43 1 40 0-30 1 36 0-22 0-35 0 8 0 45 1-25 0-17 0 54 0-71 0 2 1 30 0 12 0 16 2-32 0-13 0 16 1 36 0-42 0-1 1 14 1-44 0 28 0 2 1 10 0 14 0-8 1 10 1 12 0-64 1 61 0-41 1 30 1-39 0-14 0 52 1-32 0-11 0 52 1 5 0 6 1-31 0 11 0-42 1 5 0 18 0-99-79 58 1-12 0-54 0 34 1-39 3 75 1-63 0 62 0-70 0 12 1-19 0 41 1-4 0 34 1-65 0 21 1 3 0 42 1-50 0 22 1-2 1-31 0 43 0-24 1-13 0 34 1-32 0 17 1-16 0-21 2 0 0 79 2-45 0-4 2 15 0-43 1 10 1 48 0-47 1 27 3 1 0-33 1 11 0 13 0 36 1-27 1 11 0-48 0 12 1-3 0 52 0-26 1-22 0 60 0-38 0 33 0-9 1 3 0-32 0-33 0 43 1 33 0-67 1 33 1 3 0-40 0 48 0-31 1 49 0-53 0 30 1-11 0-27 0-7 1 11 0 1 0 38 1 0 1 2 0-34 0 0 1 4 1-3 1 16 1 16 0-30 1 20 0-19 1-12 1 23 0 16 0 12 0-26 0 15 1-26 0 22 0-40 0 39 1 9 0-13 0 14 0-47 0 1 0 16 1 19 0 15 0-43 1 19 1 31 1-23 1 30 0-5 0-46 0-12 0 56 1-54 0-16 0 47 0-46 0 67 1-22 0 4 1-46 0 74 1-62 1 52 0-17 1-8 0-3 2-19 0 24 0 16 0-59 1 46 1-1 0 15 0-45 0 2 1 29 0-2 0 20 0-35 0 36 1-10 0-24 1-5 0 26 1-29 0 8 0 27 0 9 0-30 1 4 0 16 1-26 3 21 1 16 1 4 0-6 0 5 2-136-79-16 0 76 0-56 1 3 0 46 1-67 1 69 1-28 0-24 1 58 0-42 0-24 0 6 1-7 1 50 0 14 0-21 1-30 0 22 1-23 0 6 0-27 0 8 1 43 0 1 0 1 0-23 0 13 1-41 0 26 1-29 1 63 0-51 0-3 1 67 0-40 0-2 0 31 0 13 1-17 0-49 0 44 0-14 1-10 0-19 1-1 0 49 0-38 0 2 1 48 0-6 1-44 1 22 0 16 1-29 0 17 0-15 0 34 1-45 0 6 0-4 0 15 1-5 0-27 1 67 3-51 0 45 0-51 1 48 0-64 1 54 1-31 0-20 1 8 0 11 1-12 0 38 1 10 0-4 1 21 0-47 0-10 0 25 1-18 1-12 0 2 1 21 0-29 1-2 0 70 1-37 0-7 1 42 0-35 0-34 0 9 0 52 1-53 0-13 1 14 0 16 0-26 1 58 0-49 0 55 1-38 0-10 0-21 0 14 1-7 0 10 1 34 2 13 0-4 0 11 0-36 0-14 1 56 0-17 0 1 0-11 0 21 1-23 0 19 0 0 1-24 0-5 0 31 1-31 0 16 0-1 1-1 0 4 1-3 0 6 1 17 7-141-62-1 0 30 0-13 0-27 1 65 0-55 1 35 0 14 0-49 0-14 0 19 0-17 1 70 0-70 0 39 0-27 2 21 0-29 0 46 0-10 0 31 1-28 1-20 0 34 1-45 0 51 0-60 1 31 0 32 0-44 0-1 0 35 1-28 0 47 1-14 0-26 1 19 1 5 0 14 0-71 0 27 2-4 0 8 0-12 0-7 1 20 0 17 0-8 1 24 0-62 0 71 0-38 1 20 0-19 1 6 0 26 0-54 0-12 1 23 0 0 1-12 1-19 0 16 0 25 0 1 1-31 0 46 0 6 0-50 1 10 0 37 0-36 0 32 0-11 1-8 1 3 0 15 0 8 1 5 1-68 0 61 1-20 0 33 0-53 1 25 0-5 1-29 0 66 1-14 0-8 1 22 0-49 0 46 0-24 0 19 0-54 1 43 0 7 0-19 0-47 1 58 0-51 0 71 1-49 0-23 1 58 0 6 3-5 1-125-41 53 0-4 1-28 1 27 0-5 0-48 1 45 0-37 1 48 0-4 1-31 0 26 0-2 0-9 1-47 0 36 0 12 1-27 0 10 0-26 1 25 1 7 0-32 1 53 1-58 0 64 0-44 0 30 1 11 0-16 0-16 1 45 0-44 0-23 1 4 0-13 0 8 0 41 1-13 0-10 0-1 0-27 1 21 1 45 0-64 1 5 0 51 0-6 0-40 0 1 1 19 0 8 0-23 1 19 0 26 0-12 0-27 1 49 0-40 0-30 1 5 0 57 0 14 0-58 0 27 1-37 0 48 1-8 0 17 0-40 2 51 0-78 1 41 0-40 0 19 0 25 1-11 0 33 1-35 0-24 1 43 0-38 1 50 0-38 0 33 1 14 0 0 0-50 0 22 0 33 0-54 2 23 1-35 0 40 1-45 0 41 1-44 3-20-40-46 1 19 0-15 1 25 0 2 0-32 1 48 0-42 2 11 0 36 1-68 0 40 0 34 1-53 0 39 0-14 1-14 1-16 0 15 0-27 0 45 0-50 2 54 0-2 0-39 1 27 0-8 1 7 0 13 0-34 1 28 0-33 0 18 0 20 0 5 0-2 0-35 1-2 0 42 0 17 0-29 1-35 0 45 0-19 0 32 0-28 1 8 0-40 1 4 0 32 0-36 0 14 1 45 0-66 0 75 0-52 0 13 0-27 1 52 0-26 0-27 0-8 0 23 1 37 0-34 0-16 0 27 0 7 1-40 1 27 1-23 0 62 1-18 0 19 1-9 0-14 1 26 0-52 0-19 1 36 0-9 0 40 1-56 0 33 0 28 1-56 0 27 0-25 1-23 1 65 0-36 1 18 0-38 1 26 0-27 0 61 0-35 1 7 0 19 1 9 0-38 0 27 1-29 1-25 0 21 0 25 0-51 0 52 0-31 0-8 1 35 0-27 0 27 1 17 0-10 2-50 0 38 0-19 1-17 0 16 0 8 0 2 1-26 0 19 1-10 1 0 0-10 1-6 0 6 3 9 0-38-50-44 1 33 0-8 0 34 2-11 0-3 0-56 2 67 1 9 0-60 0 31 0 1 0-49 0 23 1 5 1 21 1 13 0-51 1 55 2-1 0-16 3-41 2 11 0 46 0-5 0-31 0 33 1-9 0-31 1 42 0-56 0 39 1-40 1 25 0-16 0 28 0-21 0 17 1 36 0-65 0-9 1 69 0-15 0-55 0 22 1-3 0 48 1-32 0-15 0 31 1-40 0 11 1 32 0 7 0 1 1-21 0 34 0-35 1-22 1-14 0 59 0-44 0 29 1-32 1 41 0 20 1-34 0-9 1-31 0 31 0-5 0 35 1-27 0 6 2 14 0-4 1-38 0 55 0 2 1-60 0 22 0-33 0 19 0 25 1 17 2-33 0-3 0 19 0-34 0 32 1-27 0-8 0 48 0-6 0 6 1-22 0 38 0-63 0 66 1-10 0 4 0-56 0-6 0 27 1 3 0-39 1 37 0 10 0 15 0-31 0 11 1 29 1-45 0 46 0-37 0 18 0-2 0 13 0-21 0-39 0 8 1 31 0 25 2-9 0-40 0 2 0 43 1-6 0-32 0 38 2-27 0-9 0 27 1 3 0-5 0-24 1 3 1-21 1 37 1-44 0 30 1-26 0 22 0 13 1-36 0 25 1-14 5-11 1-23-67-20 0 32 2-39 1 7 1 24 0-24 1 23 1 12 2-48 1 36 2-21 0-32 1 55 1 5 0-39 3-15 1 24 0-15 1 28 0-50 0 58 1 6 1-4 1-33 1 26 1-12 0 30 1-14 0-33 2 48 0-56 1 14 0 30 1-57 1 58 0 3 0-39 0 2 1 10 0-43 1 64 1 5 1-41 0 41 1-8 0 8 1 8 0-46 2 10 0 19 0-34 0 43 1-58 0 36 1-4 0-42 0 63 2-24 0 3 1 12 1-7 0-42 1 10 0 31 0-22 1 35 0 8 1 9 0-57 1 55 0-70 0-2 1 19 0-6 0 44 1-15 0 3 0-41 0 50 0 9 1-27 0 34 1-70 0 1 0-4 0 40 1 6 0-47 0 55 1-41 1-6 0 46 0 16 0-21 0-45 1 27 0 43 3-71 0 59 1-39 0-1 1 7 0-18 0 8 0-10 0 60 0-45 1 50 0-60 0-11 0 3 1 0 0 69 2-60 0 28 0 3 0-8 0 21 0-41 1 12 0 36 0 5 0-69 1 57 0-49 1 2 0 43 0-40 0 39 1 7 1 6 0-21 0-22 0-19 0 5 0 8 1-12 0 1 1 68 0-44 2-31 0 16 0-3 0 27 1-4 0-23 0 61 0-30 1 33 2 2 0-96-75-28 16 31 7-26 1-23 1 59 0-54 4 50 2 5 0-1 3-27 1 11 0-26 0 35 1 8 2-29 1 19 3-13 1-37 2 43 1-7 2 15 1-3 1-22 0 15 2 0 1-27 0-1 2 18 3 15 1 4 0 2 1 2 1-11 4 7 0-15 1 23 0-10 0 10 0-14 1-8 2 25 1-37 1 34 1-1 0-15 0-3 2-20 0 17 1-17 0-128 53 54-51 36 17-25 4 2 6 23 1-36 0 21 2 14 6-35 7 23 1 2 3-27 2 6 3 11 4 18 1-5 2 5 1-46 2 37 2-12 0 18 8 7 5-14 1 50-77 29 1 11 2-8 0 6 1-32 1 6 1 1 1-5 1 19 1 8 0-30 0 4 0 6 0-32 0 37 1-31 0-1 0 3 2 46 1-4 0-4 0-8 0-56 1 64 0-23 1 30 1 6 0-63 1 40 0 6 0-38 2 50 1-17 0-30 0 53 1 1 0-48 1 44 0-22 1-38 1 6 0 21 0 16 0 14 0 3 1-48 1 24 0-12 3-11 0 24 0-4 1 21 0-57 0 36 1-26 0 13 1 22 0 7 0-51 1 62 0-50 0 49 0-34 2-14 0 24 0 14 1-5 0-14 0-38 2 21 0 18 0-8 1-8 1-6 1 45 0-43 0-16 0 14 1 36 1 5 1-44 0 13 0 34 1-45 0 11 0 43 1-4 1-21 0 21 0-14 1-58 0 28 1 34 0-3 1-51 0 65 0-38 1-16 0-11 0 52 0-17 1 5 0-18 0 48 0-12 2-35 1 20 1 22 0-35 1 19 0-17 1 0 0 33 1-61 0 65 0-36 0-14 0 2 0 8 0 38 0-39 2 42 0-31 0 14 0-2 1-23 0 18 1 21 1-34 0 10 0 16 0-10 1-31 1 21 0-9 0 5 0-28 0 22 1-25 1 33 0 26 0-36 0 39 2-5 0 6 0-25 0-43 0 51 0 18 1-11 0 9 1-47 0-7 1 45 0-14 0 13 2-8 0-28 2 58-79 16 0 11 0-27 2 46 1-39 0 54 0-67 1 31 1 22 0 13 2-45 0 45 0-47 0 22 1-6 0 12 1-38 2 16 0-8 0 1 1-3 0 16 0 24 1-49 0 12 1 2 1 9 1-27 0-2 0 1 0 39 1-32 0 33 1-3 0-32 1 38 0 1 1-19 1 13 0-6 0 3 2-36 0 42 0-12 0-7 2 0 0 12 1-33 0 29 4-32 0 15 1-9 1-1 0 30 1-1 0-18 2 10 1-15 2-4 1 13 0-9 0-7 0 24 2-22 2 16 1-8 0-2 1-11 3 2 2 10 0 1 1-6 1 9 1-14 2 5 1-3 5 8 0-4 3-7 1 8 0 3 0-5 3-3 0 1 1 1 2 2 4-8 2 548-76 1 5 65-6-12 0 21 0-34 1 44 1-21 1-4 0-21 0 50 1-61 0-11 1 72 0-38 1 7 1 3 0-30 0 55 1-34 0 8 0-26 0 13 0-24 0 39 0-8 0-28 1 22 0 17 0-25 0 12 1-4 0 14 1-28 0 43 1 13 1-31 0 7 0 11 1-28 0 31 0-18 1 19 0-53 0 56 1-14 0-6 0 11 0-2 1-19 1 30 0-43 0 39 0-34 1 24 0-38 0 33 2-12 0-7 0 39 0 2 0-7 0-7 2 5 0-2 0 3 0 1 1-9 0-14 0 29 1-23 1-5 1 20 0 11 0-30 3 15 0-12 1-2 0 21 1 7 1-6 1-1 2 7 6 53-42-48 1 14 0-13 0 11 0-11 1 45 0-44 0 69 0-37 0-3 1-2 0 30 0-44 0 39 0 18 0-40 1-6 0-19 0 64 0-72 0 55 1-49 0-2 0 46 1 10 0 2 1 3 0-23 0-1 0-3 1 8 0 23 0-44 1 10 0 9 0 16 1 5 1-36 0 44 2-50 0 20 1 26 0-36 0 38 0 0 1-53 1 44 0-11 0-32 1 11 0 17 0-34 0 13 0 6 1 43 0-53 0-5 0 35 0-5 0-40 1 58 0 6 0 5 0-25 1-10 1-33 0-9 1 9 1 31 0 4 0-34 1-6 1 5 0-7 0 17 1 24 0 13 1-36 0-7 0 6 0 14 0 5 0 14 1-23 2-23 0-1 1 12 0 59 0-44 1-25 1 57 0-60 0 69 0-47 0-26 1 29 0 35 0 15 2-29 0-2 0 7 0 3 1 6 0 3 1 7 0-13 0-5 0 19 0-51 3-1 0 2 0 22 1-8 0 25 0-45 0 34 0 22 0 1 0-17 0-20 2 29 0-27 0-20 1 13 0-2 1 6 0-31 0 40 1 1 1-7 1-26 0-2 0 34 1-24 1 11 0 14 0-12 0-17 1 0 0 12 1 11 0 22 1 2 0 7 2-37 0 1 0 36 0-3 0-39 1 26 1-3 0 17 0-27 2 24 0-14 1-7 0 22 2-1 0 9 1-13 1-1 1-4 0 6 1-1 1 6 1 0 2 41-70 46 0-34 1 2 0-17 1 3 1 0 1-2 0 5 0-10 1 28 0 21 2-37 0-6 0-13 1-7 0 54 1-60 0 35 1 2 0-6 1 36 0-44 0-11 1 13 0 6 1-34 0 76 1-9 1-64 1 43 0-32 0 1 1-7 1 37 1 20 1 12 0-23 1-1 0-9 1 7 1-43 1 67 0-71 1 6 2 36 1-13 1-1 0 7 1-35 0 47 0-28 1 48 0-63 0 18 0-20 0 51 1-50 0-3 0 29 1 40 0-16 0 13 0-37 0-19 1 38 0-53 0 27 1 16 0-23 0 37 0-35 1-22 0 27 0 14 0 17 1-35 1 11 1 28 1 10 0-61 0 1 0 11 0 38 0-4 0-34 1 1 0-19 0 61 0 3 0-35 1 23 0 13 0-62 0 61 0-66 2 43 0-41 0 34 1 12 0-30 0-17 0 46 0 29 0-35 1 12 0-18 3-9 0 14 0-2 1-13 0 23 0-23 1-4 0 19 0 1 0-32 1 64 0-67 1 11 0 20 0-5 0-12 1-21 0 74 0-58 2-1 0 2 1 42 1-32 0-4 1-3 0 17 0 18 0 4 1-47 0-13 0 69 0-28 0 16 1-24 0-2 0-25 0 45 0 26 1-26 0-11 0-11 0-9 1-11 1 3 0 57 0-45 0 7 2-2 0-28 2 31 1 18 0 23 0-52 0 28 1 26 0-17 0-38 0 48 0-18 1-18 0 16 1-24 0 26 0 6 0-45 1 46 0-14 0-22 1-16 0 35 0-3 0 34 1-16 0-35 0 16 1-22 0 14 0-18 0 19 0 33 0-28 0-30 0 34 2-25 0 31 0 85-74-2 2-7 1 7 2-24 1-2 1-22 2 37 1-15 0-15 3 52 0-56 4 29 0 34 0-53 1-4 0 68 2-74 0 70 1-24 0 8 2-30 0-6 0 17 0-31 1-2 1 45 1-41 1 26 0-8 0 16 2 21 1-6 1 12 2-23 1-7 0-33 2 22 0-23 0 37 1-19 1-1 1 48 0-19 1 18 1 4 2-39 0-1 1 6 0 29 1 10 2-76 1 51 0-12 0-40 1 27 0 22 0-17 1-11 0-5 1 27 0-21 0 31 0 15 0-46 0 44 0-38 0 38 1-20 1-17 0-17 0 45 3-23 1-32 0 10 1 46 0-60 0 10 0 8 1 25 0-36 0 10 0 11 0 1 1-23 0 7 0 64 0-45 0 4 1 27 1-30 0-3 1-22 0 60 1-37 0-22 1 7 1-3 0 56 0-20 1-45 0 25 0 40 1-54 0 13 0 27 0-8 0-23 0 8 0-27 0-4 1 57 1-2 0-22 1-28 0 17 1 7 0 34 1-32 0-12 1 40 0-15 0-10 0 51-54 27 14 25 3-40 3-3 1 32 1-44 1 22 3-23 2 17 0 56 11-48 0-8 4-13 1 11 2-13 1 12 2 20 2 64-14-20 11 10 6 205 43-124-1-81-21 9 0 8 4-6 4-16 8 46 1-31 4 15 2-22 2 31 0-34 0-7 2 39 3 8 1 9 6-42 1-15 1 24 1-9 3 6 10-12 4-65-77-24 1 15 4 32 3-5 2-35 0 58 3-63 0 27 1-13 1 7 0 19 1 9 0-40 1 36 1-40 1-6 0 19 0 4 2-2 0-2 1 42 0-21 1-28 2 5 0 52 2-35 0-36 1 33 0-27 1 1 0 49 1-45 2 10 0-14 2-5 2 16 0 11 1-20 0 33 0-12 1-23 0-4 0 2 1 17 0 53 0-50 1 11 0-14 1 9 1 25 0-12 1-39 0 27 1-4 1-3 2-11 0-9 1 71 1-45 0 4 0 12 0 18 2-56 0 18 1-14 0 25 1-31 0 5 0 40 1-35 0-14 0 43 1-32 0-10 0 36 1-40 2 75 0-34 1-3 1 24 0-57 2 28 2 6 0-38 2 13 1 9 1 13 1-15 0 15 1 31 1-14 0 7 1-50 1 38 0-27 0 37 1 12 0-69 3 22 0-19 0 23 0-10 1-48-78-23 0-18 0 38 0 19 1-44 0-17 0 51 1 15 0-41 0-24 1 15 0 56 1-69 1 36 0-29 0-4 0 20 0-6 0 3 1-24 0 55 0 18 0-69 0 35 1-27 0 37 0-18 1 28 1-61 0 23 0 30 0-41 2 42 0-55 1 29 0-27 1 12 1 45 0-16 1-12 0-20 1 57 0-62 0 3 0 33 1-15 0 32 1-11 0-7 0 25 1-44 0 8 0 16 0 11 0-35 1 51 0-63 0 37 0-3 0 0 1-19 1 27 0 14 0 11 1-26 0 10 0 15 2-33 0 30 1-62 0 56 1 9 0-56 0 1 2 0 0 30 0 23 1-70 0 30 1-14 0 14 0-15 1 17 0-25 0 42 0 9 1-51 0 12 1 43 0-10 1-35 0 42 1 8 1-64 0 20 0 17 0 19 1 10 0 0 0-12 1-27 0 6 0 25 0-35 1-15 0 5 0-10 0 13 1 18 0 2 1 8 0-1 1 6 0-13 0-31 0 18 0-1 0 27 0 18 1-26 0 15 2-40 0-2 0 28 1 29 0-17 1 6 0-49 0 20 0-16 1-5 0 24 0 10 2-2 1 11 0 12 0-43 1 43 1-19 0 20 2-58 0 37 1-13 0 8 0-2 1-27 1 24 0 14 0-24 2 8 1 16 2-3 0 14 0 10 1-26 1-37 0 1 2 63 0-31 1-6 0-17 2-11 0 57 0-49 1 21 0 13 0-38 1 15 1-7 0-4 0 29 1-31 0-6 1 21 1-3 0 47 1-29 1-15 0 15 0-70-79-22 1 5 0-24 0 12 1-6 0 41 0-6 1-29 0 15 0-7 1-5 1-11 0 45 0 10 1-18 0-5 1-20 0 43 0-9 0-27 0 6 2 12 1 12 0-18 1 9 0-6 0-11 1 13 0 0 0 2 2-8 0 3 2 22 3-3 1-3 0 0 2 6 1 0 0-2 2-789-25-7 21 2 3 4 30-5 5 8 0-2 1-3 5 0 1 0 2-1 1 4 1 5 4-9 0 11 1-13 0 1 1 13 3-65-77-24 1 27 0 44 0-21 1-53 0 69 1-32 0-12 1 25 1-38 1 33 0 19 0-28 0-17 1 10 0 44 2-64 0 5 0 48 0 3 0-62 1 20 1 18 0-26 1-10 0 44 0-36 1-11 1 16 0-6 0 39 1-17 0-6 0 18 1 8 0 19 0-59 0 7 1-5 0 51 0-8 0-22 1-3 0 9 0-31 0 1 1 41 2 0 1 9 0-1 1-12 1-30 1 37 0-34 0 50 2-52 1 14 1 32 0-54 0 25 0 21 0 16 1-9 0-21 0 8 0-11 0-25 1 19 0-36 1-2 0 62 1-55 0 70 0-22 0-6 1 9 0-23 1 39 0-65 2 20 1-22 0 39 1-3 0 13 0-35 1-19 1 61 0-5 1 14 0-24 0-3 1 28 1-5 0-3 0-15 0-29 1 13 1 27 0 2 0 10 0-59 0 42 0 8 1-35 0-20 0-8 1 29 0 34 0-55 1 52 0 12 0-49 0-16 1 67 0-48 0-10 0 17 1 43 0-8 0-20 2-31 0 20 0 26 1-31 0-12 0 35 0-53 0 6 1 31 0 38 0-43 1-10 1 13 0-1 0-12 1 33 0-4 0 10 1 13 1-3 0-55 0-9 1 59 0-68 1 34 0-2 0 13 1-7 0-7 1-9 1-9 1 8 0 0 1 17 0 38 0-22 0 21 0-51 1 13 0 27 0-18 0-3 1-36 0-4 0 46 0-37 0 43 2-18 0 13 0-14 1-1 0-6 1 19 0-10 0-18 0-22 1 38 1 32 0 1 0-13 1-3 0 10 1-33 0-76-77 34 2-11 2-8 0 10 1-4 1 16 1-33 0 15 7-21 0 40 3-5 0 1 0 2 2 6 0-27 1 25 0-24 2 7 0 6 2 5 3-1 0-15 3 17 3-6 0 0 1-53 0 42 0-15 6 6 2 5 0-22 2 42 2 6 1-53 1 41 0 3 5 2 1-23 2 10 0 1 3-22 3-18 0 29 8 27 2-17 2-3 0 22 3-131-74-2 37 48 11 88 30-12 2-12 6-7 2-13 3 34 1 6 1 0 0-50 1 52 6-13 2 7 6 0 1 1 2 0 4 2 22 3 6 22-68 58 0 2 0-8 1-6 0-49 1 29 1 17 0-14 1-6 0-8 0 46 0-37 1-32 1 41 0-26 0 48 1 3 0-40 0 36 0-36 0-4 0-29 1 30 0-17 0 52 0-36 0-11 1 23 0 17 0-20 0-12 0 23 1-1 1-10 1-38 1 38 0-9 1-17 0 58 1-23 0 11 1 1 0-7 0 7 1-44 1 0 0-10 0 35 1-20 0 19 0-37 1 24 0 45 0-39 0 20 0-18 1 2 1 30 0-6 0-51 0 14 1 18 0 18 0 3 2-28 0 36 0-61 1 65 0-9 0-36 1-1 1-21 1 41 1 11 1 1 2-18 0 19 1 2 2-13 0 24 1-54 0 1 1 28 1-37 0 30 2 2 0-27 1 15 0-1 1 36 1-46 0-2 0 44 1 13 1-7 1-11 0 12 1-35 1 40 0-39 0 35 1-57 1 0 0 30 1-13 0 31 2-57 0 29 0 21 3 6 0 15 0-28 0 21 1-10 0-26 0 19 1-1 0-36 0 30 1 19 0-6 1 17 1-25 0-1 1 4 0 1 3-49 1 71 2-10 0 7 1-5 0-13 0-17 4 2 1 26 2 13-75 14 0 5 1-19 2 5 2-4 3 6 0 1 0-10 1 15 1 11 0-22 1 3 0 14 1-3 0-3 3 17 0-31 0 31 0-29 2 13 1 6 0-20 0 20 1 14 2-30 0-1 1 28 1 4 0-29 1-1 1 0 0 1 1 19 0-17 1-8 1 7 0 22 0 15 1-5 1-32 0 36 0-17 1-20 1 29 1 7 0-8 1-8 0 13 1-13 4-24 0 4 0 2 0 35 0-39 1 4 0 44 0-34 0-10 1 6 0 33 0 11 0-44 0-16 1 26 0 13 0-39 1 40 0 12 2-34 0 7 0 36 0-40 1 47 1-31 0-8 0 7 0-10 1 38 0 6 0-64 0 69 1-36 0 34 1-70 0 54 0 4 1-28 0 6 1-6 0 6 0 17 0 2 0-34 0 1 1 40 0-50 1-11 0 16 0 29 0-21 0 17 1-21 0 11 1 21 0 23 0-57 0 40 0-7 0-47 1 57 2-41 0-2 0 1 1-20 0 11 1 51 1 2 0-30 0 28 0-54 0 65 0-71 0 30 1 20 0-10 0-23 1 53 0-68 0 51 1 8 0-36 2 37 0-40 0 0 1-18 0 47 0 1 0-10 1 6 0-12 0-28 1 56 1-56 0 15 1-19 0-3 1 52 0 11 0-16 1 10 0-50 0 64 1-34 1 27 0-24 0-32 1 60 0-40 0 49-20-2 3 1 2 7 3-4 0 11 0-11 1 14 1-9 1 9 2-6 1 1 1 25 3-4 1-7 0-28 0 46 1 1 0-36 0 615-14 1 5 7 1 2 1 2 0-12 3-19 1 27 1-38 1 7 1 116-62-1 1-1 0-2 1-5 8 6 4-1 1-5 3-3 0 11 0-12 1-4 2 14 0-31 2 11 1 15 0 0 1 4 1-22 1-2 1 11 1 15 0-22 1-12 2 30 0-7 0-13 1 9 0-23 1-3 0 37 0-35 2-19 0 33 1 24 0-35 0 20 1-8 1 2 1-38 0 6 0 43 1-15 0-1 0-34 1 24 0 35 1-3 0-36 0 38 0 3 0-31 1 5 0-18 0 37 1 6 0-67 1 46 0-52 0 0 0 53 0-53 0 58 1 8 0-53 1 32 0-47 0 51 0-49 0 76 1-36 0-22 1 11 0 31 1-4 0-11 0-30 1 32 0 18 0-62 0 70 0-26 0 22 1-60 1-5 0 68 0-49 1 14 0 26 0-35 0 8 0-12 0-26 1 47 0-4 0-18 1 14 0-11 0-3 0 33 0-51 0 68 0-45 2 27 0-26 0 32 1-38 0 48 1-74 0 68 0-20 0-31 1 55 0-17 0-34 0 67-79 35 1-1 0-33 0 20 1-12 0 30 0 12 0 11 0-16 1-12 0-20 1-4 0 61 0-70 1 5 0 26 0-29 1 23 0 24 0 6 0-27 1 25 0-19 0-36 1 58 1-60 0 54 0-41 0 52 0-63 3 10 0-7 0 66 0-48 0-16 0 40 0-17 1-28 1 57 0-10 0-50 1 21 0 18 1-35 0 14 0 2 1 17 0 19 0 15 1-75 1 35 1-16 0 21 0 5 1-31 0 37 0-10 0-8 1-29 0 30 0 23 0-27 0-30 1 58 0-45 0 18 0 4 1 21 0-23 0 29 0-33 2-22 0 33 1 7 1 20 0-23 0-22 1 25 1-38 1 48 0-54 0 30 1 43 0-39 0 8 1-39 1 40 1 3 2-11 0 29 2 2 0-57 0 65 1-13 1-57 0 13 0-7 0 6 1-16 1 6 0 33 0-28 0 1 2 7 0 8 1 12 0 23 0-47 0 54 1-45 0-22 0 67 0-38 1-23 0 8 0 47 0-54 1 32 0 1 0-16 1-23 0 33 0-39 0 49 1-21 0 10 0 35 0-39 1-28 0 31 0-5 0-12 2 58 0-35 2-6 1 37 1-73 1-1 1 50 0-50 2 31 0 19 0-39 1 20 0 12 0 22 2-12 0-12 1 16 0-44 0 30 1-29 0 43 2-37 1 6 0 1 0 9 1-30 1 18 0-23 1 0 2 8 0 26 2-29 2 92-79-1 0-2 2 62 1-52 0 10 0 9 1-35 1 12 1-4 0 39 2-30 0-18 0 40 2 13 2-37 0-15 1 57 2-48 0 17 0-4 1 41 0-53 1 31 3 1 0 28 1-66 0 52 0 9 0-63 2-11 0 5 1 14 0 30 3 3 3-41 1 34 2-38 4 21 0-13 0 18 2-25 0 25 0-32 4 31 0-22 2 25 0 10 3-43 1 14 2 26 1-40 3 11 0-12 3 19 6 38 5-57 8 24 1 78-75 34 6-25 9-7 3 16 9-38 6 4 4 4 1 34 9 21 12 32 8-146 13 12 12 3 9 18 31-123-55-9 0 45 0-22 2 8 0-9 1 27 0-55 1-2 0-5 1 58 1-55 2 14 2 15 1-17 1 24 0-34 2 22 0-26 5 15 3-13 1 21 2-21 3 66 2-34 4-13 5 6 1 43 2-68 10 30 24-81-76-11 1 42 0-16 1-23 0 19 0 3 1-10 0-34 0 47 1-43 0 35 0 28 1-50 0 30 0 2 0-4 1 12 0-46 0 48 1 4 0-34 1-3 0 37 0-29 0-36 1 35 0-1 1 39 0-57 0 43 0 11 1-34 0 22 0-33 0 54 0-10 1-60 0 18 0 6 0-21 0 48 0-42 1 48 0-41 0-10 1 14 1 48 0-77 0 55 0 9 0-15 1 19 1-62 1 40 1-34 1 28 0-3 0-12 1 54 0-13 0-2 1-49 0 44 1-9 0-41 0 18 0-12 0 2 0 49 1-50 0 13 0-9 0-9 1 9 0 25 1-36 1 54 0-56 0 56 0-18 0 24 3-52 2-7 0 27 1 5 0-19 1-10 0 27 0 7 0-31 1 4 1-17 0 11 0 0 1 44 3-45 0 13 1 14 1-28 0-3 1 65 0-70 1 67 1 7 2-33 0-42 4 21 1-20 1 12 2 50 1-30 0 33 0-30 1 40 1-36 13-43 2-55-73 54 1-50 1 11 0-8 0 37 0-45 1-2 0 30 0-25 0 11 1 21 0-26 1 15 0-5 0 7 0-13 1 28 0-42 0 24 0-38 1 47 0 13 2-51 0 22 0-21 1 2 0-4 0 22 0-30 1 35 0-9 0-15 0 38 1 20 0-44 1-25 0 55 0-17 0 22 0-69 0 54 1 4 1-4 1 25 1-57 1-16 0 70 0-31 0-4 1 7 1 16 1-45 1 0 0-11 1 26 0-19 1 33 0 22 0-31 1-9 0-20 0-9 0 18 1 59 0-55 0 40 0-33 2 45 0-8 1-50 0-4 1 9 0 54 0-13 1 8 0 2 0 0 0-68 1 10 0 4 0 4 1-15 0 53 0-41 0-5 0 40 1-51 0 49 3-32 0 5 0-3 1 6 0 46 1-60 0 58 0-61 0 17 1 42 0-36 0 40 1-70 1-3 1 12 0 36 0-43 1 10 1 56 0-72 1 18 0 19 0 12 0-6 2 11 0-30 1-7 0 24 0 26 1-46 0 2 1-22 0 39 2 37 1-21 0-45 0 36 1-32 0 5 0-17 1-3 0 30 0 28 1-34 1 35 1-43 0 24 1 0 0 26 0-23 0 25 0-17 2-12 0 33 1-33 2 24 0-42 1 23 0-9 1-30 3 3 2 2 0 4 3 49 3-70-70-5 2-1 1-10 3 12 0-8 0-12 1 25 0-26 1 29 1-38 2 38 1-20 1-29 0 31 0-49 1 3 0 57 0-2 1-32 0 41 0-31 1-27 0-7 0 48 0-7 1-34 0 27 0 27 2-32 0 9 0-14 0-19 0 4 1-6 0 17 1-8 0 51 0-18 0 16 0-63 1 9 0 3 0-9 1 31 0-3 0 36 1-70 0 12 0 32 0 2 1-29 0 20 0 4 1 26 0-11 0 15 1-56 0 46 0-31 1-14 1-8 0-8 0 28 0 21 0-23 1 23 0-25 0-32 0 75 1-50 1-6 1-6 0 1 0 62 0-48 0 47 1-61 0 2 0 32 1 12 0-10 0 14 0-38 0-16 0 8 1 18 0-22 1 20 0-34 0 41 1-36 0 73 1-30 1-28 0 57 0-40 0 25 0-45 0 4 1-3 0 16 1 28 0 2 1-52 0-10 0 31 1 22 1-35 0 31 0-31 1 0 0 36 0-40 0-5 1 25 0-14 0 56 1-4 0-14 0-43 0-9 1-7 1-1 1 42 0 4 0 27 1-67 0 6 0 36 1 17 0-54 0 15 1 2 1 8 0 5 0 13 1 25 1-66 0 35 0-40 1 62 0-31 1-24 0-8 1 10 1 23 1 19 0-23 1 4 0-25 0 61 0-68 1-3 0 15 0 23 0-35 1 33 0 11 1-48 1 25 0 30 0-19 0-4 0 33 1-43 1 14 1 39 0-57 1 57 0-26 0-11 0-43-53-8 0-3 1-26 3 19 0-52 0 52 0 1 0-55 1 12 0 11 1-21 0 31 0-12 1 31 0-24 0 2 1-28 0 10 1 16 0-17 1-1 0 48 1-39 0 32 1-38 0-4 0 14 0 28 0-53 1-4 0 54 0-5 1-9 1-6 1-25 0 22 0 29 0-18 0 25 1-50 1 23 0-16 0-17 1 52 0-47 1 59 0-22 0-25 1 4 0-29 1 78 0-57 1 43 0-55 0 53 0-3 1-8 0-41 0 1 0 32 1 18 0-36 0 50 0-24 1-3 0 13 0-12 0 10 1-20 0 22 0-11 0-39 1 18 0-21 2 69 0-69 0 37 0 22 1-19 0-7 0 24 1 2 2-24 0 35 0-42 0 16 1-20 0 31 0-63 2 65 0-23 0 15 0 0 1-46 0-9 1 9 0-2 1 18 0-26 0 5 0 64 0-48 0-19 0-1 1 58 0-56 0 40 1-36 1 0 0 4 1 4 0 10 0 13 0 7 2-3 0 0 1-35 0 55 0-2 1 13 0-53 0-2 0 17 1-35 1 70 1-68 0 10 0 54 0-7 1-4 0-28 0-27 0 45 0 28 0-69 0 40 1-82-46 1 0-36 1 54 0-23 0 28 0-49 0 20 0 28 2 4 0-44 1-3 1 15 1 25 1-30 0 4 0 0 0-18 1 21 1 19 0-36 0 45 0-27 0-14 1 15 0 16 0 19 1-73 0 25 0 43 1-69 0 10 0 23 0 0 0 30 0-66 1 58 0 4 0-58 1 24 0-22 1 14 0 13 0 38 0-68 1 11 0 21 0 13 1-33 0-7 0 64 0-65 1 46 0 1 1-33 0 15 0 19 0 12 0-16 1-45 1 58 0-54 0 51 0 9 0-61 1 39 0-7 0 37 1-1 0-48 1 45 0-44 1 22 0 14 0-13 0 10 1-63 0 16 1 7 0 28 0 13 0-16 0-11 0 31 1-39 0 10 1 2 1 24 1-50 0 15 1 8 0-27 0 52 0-30 0 9 1 23 0-57 0 51 0-57 1 20 0 31 0 0 0-12 1-17 0 32 0-27 1-26 1 75 0-58 0 31 0-3 1-29 0-1 0 46 0-61 1 55 0-51 0 3 0 27 1-7 0-9 1 17 0-17 1-1 0 44 1 13 0-33 1-29 1 2 1-79-48 1 1 26 1-43 0 43 0 6 2 20 1-15 0 17 1-45 0-3 1 31 0-49 2 31 0-4 1 14 0 13 0-27 1-2 1 10 0 34 1-57 1 32 0-10 0 0 1-4 0-20 0 20 1 1 0-24 0 7 0-5 0 11 1 3 1 5 0-28 0-2 0 70 2-51 1-15 0 64 0-25 0 3 1 1 1 18 0-5 0-37 0 50 1-6 0-39 0 18 0-6 0 9 2-32 1 19 1 34 0-67 0 33 1-10 1 27 0 2 1-57 1 30 0 23 0-45 1-2 0 64 0-34 1 34 0-8 0 3 1-8 0-31 1 28 0-40 1 59 0-49 0 35 1-36 0 8 0-11 1 40 1-61 1-2 0 0 0 8 1 6 0-5 0 18 1-1 0 5 0 25 0 3 0-18 1-4 1 36 1-59 0 60 2-51 0-103-58 0 3 4 0 0 1 30 2-17 1 18 0-18 1 41 0-52 0 27 1 3 0 0 1 3 0-7 0 14 0 2 0 17 1-24 0-9 0 25 0-36 0-9 0 46 1-26 0 20 1-29 1 7 0 1 0 33 0 1 1-60 0 4 0 31 0-1 1 34 0-33 0-21 1 1 0 22 0-21 0 44 0-24 1-9 0-31 0 9 0 3 1 7 0 21 0-33 1-6 0 45 0-20 0-12 1-5 0-7 1 68 0-65 0 26 1 32 0-63 0 3 1 41 0 12 0-41 1 45 0-14 2 9 0-10 0 30 1-73 2 40 0-39 0 52 0-46 0 17 1 43 1-61 0 35 0-28 0 29 1-8 1-32 0 42 0 22 0-21 0 2 0-28 1 40 0-3 0-21 0-4 0-34 1 56 0 4 0 15 1 4 1-31 0 29 0-56 1 17 0-14 0-7 0 29 1-35 0 10 0 44 1-6 0-31 1-1 0-6 0 39 0-58 0 77 0-35 1-16 0-25 1 32 0 27 0-13 1 20 1-28 0 3 0-11 1 11 0-21 0 11 1 6 1-34 0 4 0 68 0-64 2 61 0-15 2-29 0 41 0 6 0-19 0 0 2 20 0-66 1 66 2-148-70 15 2-13 0 21 2 0 0-7 1-11 0-15 0 25 2 3 0 24 1-24 1 0 0 29 1-25 0-7 0-6 0 23 0-13 0 3 1 36 0 4 1 1 0-28 0-45 1 50 1-23 1-20 0 26 0-24 0 17 1 2 0 39 0-49 0 60 0-20 0-12 0 5 1-3 0 16 0-37 0 39 1-37 0 6 0 35 1-2 0 4 1-27 1 1 0 16 0-57 0 50 1-7 0 7 0 23 0-70 0 27 1 8 0-26 1 41 0-33 0-8 0 24 0-28 0 60 1-73 0 57 0 20 1-41 1 21 0-24 0-26 0 66 1-4 0-14 0-53 1 63 0 10 0-21 0-44 0 62 1-45 1-8 0-14 0 23 1-9 0 44 0-1 1 3 0-43 0 41 0 0 0-42 1-6 0 9 0-5 0-14 0 51 1-6 1-12 0 25 0-61 1 5 0 69 0-17 1 4 1-49 0 64 0-18 0-28 0-16 1 31 0-3 0 26 0-36 1 28 0-16 1 28 0 4 0-63 1-12 0-4 0 9 0 15 0 8 1-20 1-10 0 34 0-36 3 9 0 0 0 6 2 34 0-43 1 27 0 41 1-19 0-43 0 53 1-2 0-31 0 8 1 26 1-13 1-34 0-7 0 49 1-61 0 28 0 34 1 7 0-18 0-9 1-16 0 18 1 1 1 30 0-20 1 19 0-59 1 3 0 10 1-16 1 43 0 2 3-34 0 21 1 5 1 21 0-119-79-20 0 41 1 14 0-49 0 4 0 30 2 1 0-35 1-14 0 70 0 2 0-8 0-42 1-6 0 45 0-52 1-4 0 21 0-3 0 16 0-23 1-8 0 28 0 8 1-27 1-18 0 47 0-31 0 60 0-25 0-28 0-23 2 61 0-45 0 13 1-26 0 14 0-13 0 12 0 6 0-20 2-4 2 77 0-22 0-53 0 53 0 14 0-51 0 37 1-31 0-4 0 55 2-18 0-22 1-20 0-11 0 66 1-15 0-18 0 9 3-45 0 33 0-4 1 8 0 10 0 3 0 27 1-5 0-50 0 40 0-56 0 42 0 10 1-35 0 2 0 12 1 9 0 19 1 3 0-45 0 49 0-33 1 11 0 1 1-26 1 19 0-45 0 54 1 12 0-18 0-20 1 21 0 27 0-54 1 31 0-19 0 35 1-10 0 13 0-65 0 37 1 4 0 9 2 7 0-34 0 44 1-30 0 9 0 25 0-70 1 64 0-63 0 8 1 62 0-54 0-13 0-6 1 34 0-13 1 52 0-2 4 2 1-13 1 5 0-25 0 28 0 5 2-30 1 19 0 6 0-62 1 60 0-35 5 26 0-10 0-1 0-35 1 37 1-27 1 1 3-1 1 52 1-40 3 15 6-104-76 12 0-15 0 14 0 8 1 25 1-27 0-31 1 23 0-39 0 34 1 10 0 16 2-57 0 60 0 1 1-25 1-23 1 43 0-25 0-11 1 21 0 23 1-9 0-8 0 23 0-43 0 33 0-41 1-5 1 30 0 5 0-4 0 17 1-18 1 23 0-18 1 3 0-18 0-4 0-24 1 61 1-11 0-23 0 7 0 17 1-29 2 18 0 21 0-26 2 13 1 21 2-11 0-58 0 62 2 7 0-10 0-11 1 15 1-16 0-23 1 24 0-6 3-7 1 21 3 4 1 9 4 0 2-16 4-30 0 41 3-31 0 36 1-31 0 26 1-9 1-47 1 55 3-68 1 56 10 7 1-74-71 3 6-40 3 37 1-17 2-35 20-30-30-1 4-60 16 180 58 35 8 76-4 4 3-64 11 57 16 42-34 25 1-11 3 36 2-27 0 31 1-10 3-27 0 22 1 9 0 0 0 6 3 1 0-34 0-36 1 28 0 1 1-12 2 39 2-48 2 11 4 25 2 12 4 11 8-40 3 106-43-35 0 39 0-18 0-32 0 48 1-32 0-6 0 14 1 34 1-2 0-31 0-6 1-30 0 55 0-16 0 24 2-52 1 13 0-21 0 57 2-18 1 30 0-1 1-55 1 8 0 45 1-53 1 14 0 46 2-5 0-57 1 26 1-21 1 57 1-15 0 4 0 4 0 3 0-10 3-33 1 11 1 30 0-48 2 52 1-75 0 29 1 29 1 2 1-2 3-55 9 19 2 24 0-2 0-29 2 54 0-43 1 37 0-37 0 49 4-36 16-2 1 12 3 33-72 18 0 55 0-41 0 2 1 28 1 12 0-72 1 74 0-29 0-27 0 53 0-23 0 18 0-33 1-14 0-9 1 14 0 27 0-30 0 11 0 24 1 1 0-22 0-29 1-8 1 10 0 21 1 3 0 9 0 31 0-46 0 36 1-37 0-17 1 59 0-30 1 30 1-16 0-12 1 32 0-13 1 17 0-4 0-34 1 22 0 4 0-35 1-30 1 1 0 42 1-39 2 22 0 33 1-46 1 62 1-35 2-40 0 62 2 0 0 11 1-5 0-67 0 25 0 38 0-9 1 5 1-47 2 64 0-16 1 4 2-61 1 47 1-30 0 16 4 0 2-11 1-20 4 2 1 68 2-77 1 74 2-34 8-29 1 20 2-16 0 42 7-5 1 26 4 26-78 44 0-25 0 11 0-32 1 10 0-20 0-13 1 2 1 74 0-51 0 46 1-46 0 29 1-26 0-27 0 4 0 4 0 28 2 14 0-45 1 58 0 15 1-73 0 70 0-44 2 11 1 19 1 16 1-65 0-6 0-7 0 26 0 28 1-27 0 39 1 8 0-60 1 18 1-2 0-23 1 6 0-11 0 29 0 28 1 5 0 12 1-19 0 20 1-14 1 2 0-45 1 14 0-3 0-24 2 66 2-24 2-40 0 38 1 30 3-41 0-19 1 11 0 42 3-27 2 5 2-12 1 15 1-15 0 43 0-54 4-23 1 71 12 30-61 13 1-5 0 48 0-25 1-10 1-17 0 33 1-45 1-11 0 64 1-61 0 10 0 62 1-36 0 16 0-50 1 42 0-32 0 56 1-51 1 27 0-13 6 20 0-39 1 29 1 18 1 9 0-38 1-26 0 1 2 34 0-44 1 57 1-16 2-25 0 32 0-50 4 68 0-29 2 31 0-55 1 50 1-43 5 2 0-23 6 32 3-30 1 76 0-49 13 32 2 30-61 12 1 15 0 13 0-36 1 11 1-6 0 46 2-31 1-22 1-10 1 44 0 12 2-59 0 45 1-31 0 42 5-5 2 11 1-18 2-8 3-36 2 13 4-4 0 12 4-4 16 119-50-13 1-11 5-22 2 3 3 25 1-2 1-33 4 44 0-42 3-2 1 30 2 21 24-205 50-60-15-105 33" marker-start="url(#mp)" marker-mid="url(#mp)" marker-end="url(#mp)"/></g>
<path d="M254 337L254 345.5L257.5 354L265 362L270.5 365.5L281 370L285.5 370.5L291 372.5L293.5 372.5L296 373.5L312.5 376L324.5 377L358 376.5L373 374.5L385 371L389.5 370.5L395.5 368.5L398 367L401 366.5L405 364.5L407.5 364L414 360.5L418.5 356L421.5 347.5L421.5 345L420 341.5L418 339.5L414.5 337.5L409.5 336L407 334.5L404 334L390 328L386 327L382.5 325L380 324.5L376.5 322.5L374 322L364 317.5L343 311L340 311L338 310L328 308.5L315 308L301.5 309L291 310.5L289 311.5L286 311.5L274.5 315L267.5 318.5L262 323L258.5 327L255.5 332.5Z" fill="#ee82ee" fill-opacity="0.94" filter="url(#bl)"/>
<path d="M94.5 131L97.5 157.5L125 192.5L170 223.8L215 227.5L340 193.8L355 147.5L365 121L345 74.5L324 64.5L289 55L272.5 49.5L205 49L167.5 55.2L140.8 67L113.5 92Z" fill="#f0e68c" fill-opacity="0.5" stroke="#f0e68c" stroke-opacity="0.7" stroke-width="1.5" stroke-linejoin="round"/>
<g transform="scale(0.2)" fill="none" stroke="none"><path d="M1445 275l-60 1 7 14 8 9-30 9-6 0-44-42 3 3-38 34 6 8 50 4-130-49 18 17 23 4-32 26-11 0 58 4-64 0-47-44-23 23-10 2 21 2 18 8-31 2-10 6 72 0-14 0-138-24 36 0 1 3 15 9-34 1 45 1-51 10-28-71 13 59-32 1 16 1-9 7-20 2 7 0-27 0-3 4-25-8-31 8-76-43 21 43-155 16 82 5 10 31-13 7 2 9-5 7 89-70 8 16-6 2-4 0-27 9 0 3-6 1 41 5-52 1 48 2 3 3 3 1-6 0-39 6 46 0-45 1-23 3 41 2 28 0-65 1 31 0-9 1 37 1-26 2-28 1 33 1 16 1 2 1-57 0 2 1 52 1-28 1 2 2 37 1-18 1 19 1-62 1-16 1 72 1 34-76 0 13-10 0 41 1-36 5 19 2-37 1 71 0-48 2 45 1-15 1 21 0-40 0-15 1 9 1-1 2 34 1 7 0 4 0 3 1-26 0 12 1-62 0 4 0 41 2-21 1-7 0 35 2-7 0 13 1 4 1-63 0 56 0-12 0 2 1 3 1 20 0 4 1-11 0-3 2-47 0 12 4 44 1-3 3-19 1 7 0-11 1 20 0-40 3 8 0-19 2-7 0 17 1 4 1 50 1-29 0 31 2-38 0 7 0 1 1-13 0 29 1-11 1-53 0 53 0-8 0 18 1-60 0 66 0-5 1-41 1 26 2-31 0-11 1 9 2 34 0 99-79-12 1 0 3 7 3 7 3-62 0 41 1 19 2-62 2 8 4 20 5-35 1 74 2-41 4-29 1 38 1-5 0-21 1 44 0 14 0-75 1 56 0-6 0 11 1-9 0 5 3-26 3 19 0-1 1 20 1-44 0-4 0 28 1 3 1-15 0 32 0-18 1 26 0-61 0-3 0 50 1-56 1 60 0-41 0-18 1 23 1 14 1-17 0 20 1-16 0 42 1-37 0 14 2 1 0 17 0-2 1-23 0 18 0-36 0 32 0 10 1-43 0 39 1-35 0 29 2-6 0 4 0 7 1-19 0-41 1 4 0 19 1 7 1 26 0-48 0 41 1-40 0 24 0 27 0-18 1-38 1 48 0-19 0 6 2 15 0-37 0 39 0 4 0-25 1 30 1-10 0-2 1-24 1 17 0-20 0 36 0-25 1-40 0 14 2 14 0-24 0 0 1 131-78-31 2-9 4 53 3-33 3 8 1 10 3-46 1 16 1 56 0-21 1-4 0-25 1 36 1-47 0 25 0-17 1 29 0-22 0 45 1-77 2 72 1-45 1 35 0-43 1 53 1-48 1-9 1 50 0-48 2 12 1-15 1-10 1 45 0-32 0-2 3 15 1 23 1-36 1-17 1 61 0-52 0 69 0-31 1-41 0 37 1-14 0 26 1-22 0-13 1 8 0 42 1-36 0 24 0 18 1-18 0-7 1-41 0-4 0 33 0-11 1 41 0 7 0-64 1 66 0 0 0-30 1-5 3 10 1-33 0 7 1 31 1 6 0-3 1-33 1 27 1-1 0-14 1 16 0-50 1-6 0 15 0 29 1-38 0 24 3-6 0-2 0-10 1 13 0 48 0-59 1 9 1-5 1 64-69 75 1-1 2-15 0-56 1 48 2 13 0 3 2-41 1 1 2 5 0 27 1-7 0-21 2 40 3-58 1 30 0 28 1-6 0-62 0 42 1-21 1 37 3 4 4-59 0 22 0-24 3 30 0 10 4 3 0 14 0 15 0-35 1 13 1 3 1-54 0 57 0 11 1-55 0 26 1 13 0-24 1 42 0-75 0 45 1-37 1 40 0-44 0 50 0-10 1 30 0-44 2-16 0-8 0 5 0 65 1-1 0-35 1 15 1 16 0-48 1-8 0 34 1 25 0-17 0-50 0 46 1-34 1 55 0-44 1 28 0-14 1 10 1 17 0-22 0-19 1 12 1-1 0-1 0 29 1-14 0 14 0 1 1-24 1-5 1 30 0-70 1 39 0 36 1-40 1-26 0 89-64 25 1 1 4-22 0 9 1-16 2 42 8-19 6 3 1-37 0 58 1-59 0-2 0 68 1-4 1-27 0-30 3 13 1 32 1 1 0-40 0 17 0-13 1-8 2 21 0 9 3-27 0 24 0 11 1-3 0 4 0-25 1 36 1-55 0 18 0-24 0 13 1 25 1-35 0 25 0 15 1-43 0-1 1 56 0-49 1 46 1-11 0-25 1-4 0 60 1 2 0-36 1-5 1 21 0-5 0 4 0-36 1 23 1 28 0-58 0 13 1 18 0-40 0 22 0-10 2 7 0 47 0-11 2-51 0 25 1 44 1-47 1-22 1 30 0-33 0 44 0 12 0-13 0-15 0 27 1-53 1 70 0-12 1-7 0 13 2 1 0 9 0-53 1 36 1 16 1 20-72 44 4-61 1 57 1 21 1-56 1 18 2 27 3-65 2 13 2-7 0 61 2-41 0-16 4-12 1 17 2 33 2-41 1-1 1 47 1-22 0 27 0 16 1-46 0-25 1 44 2-16 1-15 0 10 1-22 0 48 2-26 1-22 0 46 1 6 0 0 1-36 1 9 1 46 0-52 1 35 3-5 0-16 1-11 0 2 2 10 0-8 1 16 0-34 1 54 1-34 1 2 1-32 1 9 1 5 0 14 0-8 0-17 0 61 0-60 1-4 0 15 0 14 2 25 1-5 2-4 0-17 1-3 0-21 0 26 0 28 0-27 1 14 0-27 1 36 0 6 0-51 1 28 0-26 1-8 1 1 0 35 0 29 1 6 0-34 1-15 1-12 0 34 0 20 1-15 0 4 0-42 1-2 0 40 1-10 1 108-78-59 1-16 8 32 11 2 0 6 2 12 3-15 2-32 2 14 2 60 1-67 0-8 4 72 0-56 1 0 1 59 5-60 0 0 1-10 0 37 0-31 3-6 1 17 0-26 1 30 0 30 2 16 1-71 2 26 0-11 3 48 0-29 0-19 1-15 0 63 0-32 1-7 2-6 0 11 0 22 1-4 4-30 0 34 0 22 0-25 1-12 1-22 0-7 1 67 0-42 1 29 0 4 2-54 1 3 1 7 0 52 0-71 0 39 0-2 1-17 0-4 0 53 2-24 1-42 0 7 0-17 1 65 0 46-61 23 12-8 3-44 9 17 4-13 4 16 1 18 8-9 5 24 1 13 1-20 1-41 1 27 0 43 2-13 4 10 0-18 2-43 2 60 0 18-59-7 19 6 13 53 17 16 9 21-75-17 32 21 87 2 9-20 0 17 4-13 0-1 11 26 7-30 4-4 1-34-77-45 1 42 6 8 3-11 9-12 2-5 13 40 1-57 1 10 1 27 1 4 1-23 1 23 1-12 0 41 1-67 1-8 1 63 3-41 1 40 2-40 1-8 0 58 0-8 0-32 1-15 1 36 0-50 3 3 1 1 0 6 2 5 5 39 0-57 1 52 1 1 1-53 0 1 0 60 1-43 1-9 0 22 2-11 3 12 1-12 0 14 1 0 2 7 1-119-75 66 1-54 3 50 3-47 1-9 0 30 2-21 1 20 1-24 0 3 0 11 1-7 3 7 0-25 1 72 0-52 1 22 1-40 0 5 0 37 0-7 2 29 1-57 0 64 2-46 0 27 0-43 1 5 0 8 0 9 1 7 1 6 1 7 2 16 1-53 1 35 1 3 3 11 3-4 0-12 1 24 0-17 1-32 0 51 1-13 0-36 1-3 1-3 0 33 1-23 0 38 1-15 0 22 1-54 0 44 1-11 3 3 0-21 1 15 0 9 1-16 0 23 1-32 1 34 0-10 0 10 1-39 0 26 1 5 2-7 0 13 1 2 3-28 0-3 1 12 1-3 1-5 1 33 1-4 1-29 1 0 0 9 4 17 0-22 1-100-79 8 0-29 1 2 0 43 0-48 1 34 1 24 1-12 2 1 1-22 0-1 1-5 1-7 1 47 0 14 0-43 0 33 1 9 0-24 0-20 1 28 0-3 0-17 0 28 2-27 0 20 0-7 0 19 0-1 1-22 2 17 1-22 2 18 0 11 2-15 1 14 0 1 1-12 1 7 3-89-28-8 0 24 0-27 1 26 2-421-3 12 0-52 1 26 1-20 2 19 0-20 1 18 1-23 0 1 0-3 2 26 0-31 1 20 0-16 2 15 1-19 0 0 1-7 3 4 3-4 1-18-19 15 3-21 0-36 1-3 0 20 0-1 0 15 2-21 0 37 0 1 1-38 1 31 1-18 1 27 1-64 0 71 0-5 1-46 0 10 1 9 0 24 1-18 1-31 1 51 0-22 1 0 0-18 0-18 0 37 2-7 2 25 0-19 0 27 0-65 1 58 1-15 1-8 1-1 1 18 0-14 0 2 1 10 1-28 0 12 0-31 1 28 1 17 1-2 0-26 1 4 1 8 1-2 0-5 1-20 1 22 0-23 1 0 0 29 2-17 1 10 2-29 0 12 0 18 0-6 0-5 2-9 1 0 0-11 1 8 0 14 3-13 3-9 1 14 0-18 0 9 1-2 0 10 4-1 0 0 0-17 5-4 6 2 1 6 2-1 2-5 1 3 3-46-78-10 0 26 2-23 3 22 3 1 1-24 9-4 2 39 3-35 4 23 2 10 2 9 2 6 0-16 1 5 4-12 2 5 1-35 1 17 1 10 0 8 4-7 3 11 2-26 3-10 2 44 1-2 1-30 0-24 0 60 2-68 0 42 1-6 2 28 0-36 1 26 1 10 1-12 2 17 2-61 1 13 1-10 0-9 1 47 0-28 1 44 1-21 0-83-75-13 42 29 4-11 5 6 3 10 9 2 6-25 7-80-46 25 3-65 25 38 57-20 12 28 11 52-58 40 6 13 0-29 1 21 1-56 1 35 1 7 0-56 3 25 3 35 3 1 2 16 0-19 2-1 1 13 2 7 1-8 1-18 3-19 3 40 0-22 0 9 4 11 2-60 2 10 1 35 3-40 3 48 3 6 3-60 6 47 1-55 8 26 1 31 0-13 2 25 1 39-75-20 2 19 2 15 0-12 1 39 0-16 1 10 2-3 0-33 5 21 0 7 1-7 0-35 1 30 1-10 1 31 1-2 1-58 0 35 0-7 2-28 1 40 0 17 2-7 1-31 0 33 0 0 0-30 0 18 1-12 1 10 0-18 1-14 0-11 1 46 1-4 1-13 0 4 1-16 0 41 1-41 1 10 0 24 1-4 2-38 0 24 0 13 1-39 1-4 0 48 1-11 0 2 1-5 0-12 0-22 1 7 1 38 0-28 2-6 0 1 0 7 0-1 1 10 2 4 2-29 0 2 2 22 0-28 1 21 1-15 1 29 1-3 6-9 1 0 0 8 0 4 1-12 1-16 0 35 0-38 1 27 1 7 4-36 2 28 1 2 1-7 2 55-76 702-2-2 2 6 0-8 2 18 1-12 1-9 1 15 1-10 2-1 0-4 0 17 3-5 2-3 0 10 3-10 4 4 3 5 6-2 1 5 0-3 10-1 1 4 3-2 0 48-46-24 0 0 2 10 2-22 1-6 0 29 1-10 0-15 2 50 0 20 1-23 0-14 1-24 1-1 1 37 0-46 0-6 0 53 0-51 2 49 0-15 1-15 0 21 0 30 1 5 0-64 1 11 1 18 1-34 0 57 1-30 1-9 1 1 1 39 1 12 0-23 0-43 1 14 1-19 0 30 2-12 0-17 0 56 1-29 1 25 0 3 2-61 2-2 0 20 1 26 1-33 1-12 0 24 1-23 0 9 0 3 1 63 0-56 1 34 1-54 0 54 0-9 2-46 1 23 1 23 1-16 0 25 1-23 0-18 0 60 1-25 1-47 1 15 0 19 0-25 1 59 0-44 1 6 1-15 0-2 1 26 3-22 0 5 2 23 1-19 0-9 1-5 0 12 1-15 0 43 1 21 1-40 0 22 0-19 2-11 1 39 2-57 0 21 2-14 0 9 1 28 0-3 1-14 0-14 1 2 2 55 0-21 0-24 1-4 1 21 0 20 0 45-69-6 4-29 4 4 3 23 4-3 2 25 6-21 0 3 9 31 4-40 10 9 2-22 0-9 3 41 0 20 6-62 1 12 0 2 5 18 1 193 52-134-38 7 32 2 8-17 2 19 10-15 6 22 12-102-74 12 2 12 5 19 1-22 1-16 2 18 0-20 3-9 5 11 1 34 1-37 2-4 2 5 4 23 1 34 1-63 1 30 0 16 1-23 0 25 0-29 0-22 2 20 2-20 0 5 4 8 1 12 2-8 3-16 1 58 1-38 1-4 3 56 4-64 2 68 1-57 1 38 1-30 0 9 0-16 0 32 1-48 0 11 1 41 1-29 2-19 1 0 1 22 1 33 1-1 0-63 0 2 2 6 1 41 0-3 1-29 1-30-79-53 1-3 1 10 0 46 0-2 1-58 0 52 2-31 0-12 1-4 1 18 1 34 1-7 1 10 0-24 1-13 0-5 3-7 0 20 1-21 0 31 1-17 0-15 1 22 0 1 0 33 1-60 1 13 1 23 0-8 2-7 0 24 1-27 0-7 0 40 1-37 0 12 2 33 2-16 1 0 1-39 0 22 0 19 0-34 1 8 0 38 1-12 1 7 0-3 1-5 0-4 0-20 2-10 3 41 1-33 0 45 2-35 1-8 1-7 1 47 0-18 0-35 0 20 1 34 2-6 0-32 0 25 1-37 0 3 0-8 1 44 2-47 0 5 0 49 1-4 0-46 0 39 1-12 0 8 2-2 2-37 2 10 2 51 0-42 0-3 1 35 0-5 2-4 1-43 2 8 0 5 1 25 0-18 1 4 1 28 0 3 1-42 0 45 0 3 0-57 1-3 0 23 1 31 0-48 2-6 1 47 1-861-76 8 2 13 2 2 2-22 0 0 0 23 1-22 0 31 0-33 3 28 1-30 4 19 0-15 1 10 3 13 1-20 2 10 0-10 0 12 0-2 1 14 2-24 2 7 1 13 2-24 2 11 2-5 4 3 2-7 2 27 0-20 4 14 0-6 1 8 1-12 2 1 1 2 1 9 1-9 1-2 0 1 1 0 1 7 0-23 0 25 0 2 5 1 2-8 0-21 1 15 0-11 0 6 1-9 0 11 1 7 1-15 1 23 2-6 0 3 1-14 2 19 0-6 1-4 1-18 1 10 0-36-77-3 4 5 1 7 0-53 1-4 3 65 0-9 1-29 2 42 2-8 0 10 2-3 0 3 1-11 0-10 0 18 3-52 0 14 0 24 1-20 2 22 0 10 1-29 3 7 1 16 1-16 1 0 0-29 0 12 1-28 1 58 0 1 1-13 0 25 0-1 1-5 0-59 1 32 1 1 0 26 1-38 0 33 0 8 0-22 1 9 1-14 1 12 1 13 3-46 0 35 0-31 3 45 2 1 0-4 2-9 2-18 1 19 1-31 1-27 0 72 3-3 4-67 1 53 0-28 0 45 1-2 2-47 0 36 0 5 0 8 2-48 2 18 2 22 0 4 1-3 0-6 0-22 1 28 1-10 0 13 1-38 0 29 1-107-72 26 3-31 16 35 0-24 14-42 5 35 3 30 4 3 1 3 16-21 1-43 4 53 4-106-15 41 9 61 9-13 5 31 3 2 2-22 12-22 11 44 4-75 19 32 4-17 1 57 17 71-79-37 0 22 1 15 0-22 2-9 0 30 3-12 1-41 2-5 0 57 2-5 0 10 0-10 2-26 0 19 0 23 0-29 0 13 1-5 0-11 2 4 0-44 3 17 1-4 0 61 0-52 1-12 2-6 0 30 0 27 4-19 0 22 2 0 1-63 0 72 1-19 1 19 1-16 0 18 1-59 0 4 0 39 1-21 0 30 1 3 2-73 1 61 1-35 0-15 2 28 0 3 1 12 2 16 2 2 1-16 1 19 5 0 0-72 1 65 2-27 0 26 1-2 0-42 2 28 0-1 1-7 5-16 1 12 0 21 6-13 1-36 1 12 0 47 0-3 3-48 1 33 0 36-76 15 3 0 1-12 1-13 1 17 1 0 5-11 3-5 0 10 0-6 3 19 0-3 2-16 2 20 1-20 3 13 0 3 1-16 1 22 1-19 1-2 1 22 1-24 0 22 1-25 1 8 1 18 0-11 1-9 0-7 4 16 1-11 0 21 2-22 2-4 0 20 1-7 0 5 0 11 1-20 3 4 6 2 1-13 2 33 0-7 0-8 7 9 1-29 1 4 2 26 2-25 1 10 1 21 0-6 0-17 0 783 0 2 0 21-77 39 1-42 0 2 2 23 1 36 1-31 0-10 1-11 0 23 1 16 3-41 0 5 2 20 1-5 0-4 1-6 0 28 0-39 0 34 1-22 0 34 1-24 0-18 1 17 1 25 2 1 0-14 1 2 0 1 1-36 0 19 0-4 2 8 0-14 2 47 0-39 1-16 0 53 1-24 0-4 1-8 0-17 1-2 0-1 1 29 0 5 1 8 0-21 2 18 0-28 0-6 2 3 1 2 0 29 0-50 1 3 1 8 0 0 2 45 0-48 0-1 0-8 0 17 0-12 1 5 0 3 0 18 1 14 0-29 0 27 1-16 1 36 1-36 0-17 1 52 3-54 0 57 0-57 0 17 0-26 1 28 1-1 0-12 1 44 1-27 0-32 2 67 1 3 0 0 0-61 1 11 0 13 2-21 0 5 1-8 0 8 0-7 0 51 0 7 1-61 1-3 0 27 3-8 0-23 0 20 4 33 0-10 1-20 1 18 0 25 1-26 0-21 1 8 0-2 1 3 0-18 0-16 1 11 2 67 0-56 1 39 0 42-75-18 1 21 0 13 2 3 1-17 0 3 3 31 6-13 3 20 4-55 0 67 0-70 7-8 1 30 1 36 1 1 1-38 2-21 3 10 5-12 0 54 1-30 4 21 4-48 0 21 1 1 2-23 0 64 2-44 2 21 3-44 0 71 6-62 1-4 0 44 4-30 2 64-65 11 15-13 2 8 6-5 2 2 18-5 30 35 44-35 24-65-73 40 1-31 4 45 1-17 2-31 2 39 0-36 1 15 1-4 7 36 2-69 0 19 0 51 1-72 2 9 0 7 1 42 1 18 1-68 2 6 0 5 2 3 6 50 0-21 0-9 3 23 0-6 1 1 1-28 3-7 0 9 4 18 2-22 0 5 4-20 5 36 0 3 2-47 2 29 2 0 0 9 2-43 1 23 1 23 1-41 1 46 0-31 3-7 1-10 2 45 1 16 0-137-79 3 1 34 0 11 1-42 1 35 1-26 0 12 1-32 2-1 0 37 0-31 1 13 1 49 0-67 0 20 0-21 1 23 0-15 1 1 1-10 0 41 1 22 1-45 3 41 0 1 2-16 0-16 0-13 1 42 0 15 1-46 2 0 0 29 4-52 2 53 0 3 1-42 1-19 1 47 1-23 0 1 2 31 1 19 1-45 0 7 4-18 1 46 1-38 1-20 1 24 0-30 2 38 2-13 0 18 1-7 1-36 1-2 0 6 1 8 0 49 2-61 2 45 0-13 2 40 0-31 1-16 1 50 0-44 1-8 0 5 2 7 0-2 0-28 1 57 3-34 1 9 0 22 1-47 2 42 1-21 1 40 1-37 1 37 2-76-77-1 4-5 7 3 1-3 7 3 8-9 1-2 1 10 1 0 1-1 2-14 0-10 1 23 0-14 2 0 0 18 2-15 1 16 3 0 1-25 1-6 1 15 1 5 1-4 0-15 1 27 0 0 1-5 1-18 2 1 0-9 2 11 1 4 0 8 1-31 0 6 2 2 1-6 2 15 0-6 2-6 2 6 0-3 0 22 2-31 0 21 2-31 0 25 1-5 0-18 1 31 1-18 0-6 1 15 0 23 1-49 1 1 2 38 1-776-79-1 4 21 2 10 0-12 1-18 0 27 1-1 3 6 0-23 1-3 3-10 3 30 0-12 1 13 1-9 4-24 0 22 1 19 0-8 1-23 0 28 1-29 1 34 1-14 0-16 3 22 1 1 1 1 1-14 1 5 4-22 1 37 0-29 0 16 1 12 0-37 1 16 0 1 2-7 0 21 1 11 1-13 0-25 2-6 1 32 1-7 1 15 1-35 2-2 0 41 0 6 1-26 0 12 2 9 1-11 2-1 1 12 0-35 1 41 1-54 1 7 0 16 2 6 2-20 0 46 1 6 0-25 1-14 0 27 1 2 0-9 0 19 1-3 0-58 1 56 1-41 1 17 1 23 0-8 1-6 0-101-77 28 1 6 0-14 0 37 1-64 2 43 2-20 0 32 1-44 2 27 0 2 1 21 8-5 1-19 0 17 3-5 1 2 1 13 1-21 0-41 1 54 2 5 0 0 3-2 1-1 1-3 1-13 3-52 1 43 2 22 1-40 2 42 1-36 2 34 3-29 2 32 5-46 0 46 0-6 1-8 2-16 2 37 1-8 1-42 3 10 1 9 6 2 0-8 2 11 1-106-72 45 42-2 5 4 6-15 6 1 12 6 3-82-46 0 43 64 25-7 2-21 35 66-51 6 3 18 2-16 2 8 2 13 5 21 2 17 1-3 5 6 0-47 2 17 2 16 3 12 2-39 3-30 1 39 0 31 1-37 8 18 1 15 5 6 0-29 6 25 1-23 4 17 3 33-71 1 1-1 1 41 1 3 0 5 1-4 2-12 0-2 4 18 1-31 0 8 1 9 0-25 1 38 1-41 0 12 2 6 0-13 0-26 1 67 1-56 1 27 1-19 2 34 0-30 2-5 2 40 0-53 2 25 3 38 0-26 3-41 1 23 0-13 2 36 1-21 0-27 0 57 0-44 1-16 0 21 2 55 1-31 1-39 2 20 1 42 2-15 1-2 0-24 3 41 0-1 1-23 1-11 0-2 1 27 0 11 1-62 1 18 4 52 1-34 2 1 0 31 3-22 4 1 1 3 1-9 2-5 0 28 1 3 0-12 3 6 0 15-53 6 7 0 1 2 4-9 3 11 3-14 2 7 1-3 1 0 1 7 2-1 1-2 0 11 2-5 1 9 0-22 0 24 2-21 2 4 0 24 0-27 0 19 0-15 4-3 1 10 0-5 0-5 1 1 1 33 1-34 1 18 0-8 2 21 0-26 1-7 1 14 0 10 0 21 1-6 1-30 0 38 2 1 1-52 0 50 1-20 1-4 0 529-5-4 0 7 5 79-62-9 6 2 1-8 8-4 0-5 6-10 1 13 0 23 0 0 2-18 2 12 0 5 2-10 1-7 0-26 1 42 1-46 2 12 0-13 0 30 1 10 1-10 1-35 1 16 0 29 0-36 0 30 1-38 0 37 0-21 0 7 1-13 0-8 1 21 0-3 1-28 4 50 0 1 0-59 1 61 1-46 0 37 1-17 0 27 1-28 0 1 1-44 0 30 0 7 0-22 0 4 0 8 1-7 0 18 0 12 0 0 0-26 1-10 2 18 2 8 1 22 0-22 0 27 1-16 0 14 1-8 2 13 0 46-78-21 2 1 0 9 0 10 1 28 0 1 2-21 0-22 0 57 1-61 1 27 1 3 3 11 0-9 0-2 1-32 0 60 0-30 0-5 1-38 1 54 0-25 0-5 0 37 1-6 1-10 0-3 0-12 0-15 0 41 1-46 0 61 0-68 0 11 1 0 1 61 0-35 0-32 1 57 0-60 2 6 2 42 0-18 0-28 1 14 0 6 1 23 0-35 1 29 1-15 0 35 0 12 1-40 0 9 0-32 0-10 0 39 1 25 0-36 1 44 0-52 0 50 0-2 0-14 0-14 1 12 1-28 1 18 1-31 0-9 1 46 0 13 1-54 1 8 0-6 1 24 2-39 0 0 0 50 1-16 0 19 0 16 1-61 0 26 0-4 0 33 2-61 0 50 1 0 5-46 2 44 0-30 1-1 0 52 4-55 1 60 0-74 1 16 0 12 1-9 1-20 0 2 0 3 1 1 4 56 1-57 3 28 0-19 1 14 1 26 0-20 2-21 1 40 1-8 1-40 0-4 1 100-78 12 0-26 1 40 0 29 3-27 6 4 0-52 0 21 4-10 3 26 1-11 3 19 0-38 1 17 0 20 0-11 2-14 2-12 1 22 1-9 1-8 1 50 1 4 1-17 3 2 0-44 0 16 1 2 1 15 3-37 0 37 1-29 3 59 2-12 2 19 1-73 1 6 0 0 1 47 0 5 3-25 0-4 0 34 0-28 1-13 0 3 1-9 1 23 2-9 0 42 2-10 1-45 0 46 5-29 0 15 1-30 0-20 1 18 1 40 1-62 4 52 1 38-75-11 0 27 0 27 1-15 1-32 2 54 1-34 6-21 6 52 0-36 1-1 0 11 4 23 0 17 1-53 3-18 6 12 1 11 3 7 6 21 1-34 6-17 1 18 10 3 3 21 3-24 2 7 7-23 1 84-71-77 75 12 2 4 9-5 0 6 6 33 7-25 1-30 0-5 8 18 16 21 9-6 4-107-61 32 1-19 0 4 2-6 0 36 0-1 1-51 1 19 5 10 1 41 0-68 1 25 3 7 1-32 1 59 0-35 0-9 1 35 1 4 1-37 1 21 1-39 3 12 0 16 1 5 2-24 2 32 1-15 1-6 1 31 1-13 0-16 7-8 1 50 0-40 0-24 1 77 5-52 1 3 2-1 14-14 2 8 4 34 5-75-74-24 2-7 2 42 1-37 2 3 1 33 1-45 1 29 0-52 1 40 0-40 1 60 2-64 3 13 2 54 2-46 2-19 0 28 2 5 0 37 1-10 1-3 4-16 1 33 0 2 0-29 1-47 1 5 2 54 0 9 0-43 2 4 3-20 2-9 1 32 2 40 0-19 0-31 0 23 1 18 4-50 0 61 1-70 2 40 2-31 0 10 1 4 4 12 1-18 0 3 3 47 5-62 1 24 0 23 2-22 1 5 0-116-79 1 0 19 1 16 0 10 1-8 0-39 0-3 1 48 0 5 1-2 0 22 0-37 1-8 0 11 0 26 0-23 1-11 0-27 1 19 0 8 2 18 0-41 0 8 1 0 0 62 0-57 1-14 0 19 0 11 5 31 1 5 0-54 0 46 1-22 2-19 1-6 2 49 1-6 1-39 0 18 1 21 1-39 1 27 3 5 0-40 2 40 1-36 1 21 3-28 1 27 2-14 0 17 2-30 1 58 1-14 0-43 1 28 2 4 0 28 1-56 1-16 0 3 2 26 5 12 1 8 0-48 0 15 1 12 1 8 1 3 0-11 1 47 1-50 0 17 0-10 4-6 1 10 1-31 3 34 1 36 4-66 1-30-77 16 1 3 1-29 1 26 0-15 0 14 2 2 3-3 0-28 1 30 0-4 1-26 1-22 1 24 0 14 0-16 0 22 1-46 3 51 1-28 0-6 1 31 0 6 2-15 0-45 0 63 1-15 1-22 0-41 1 55 0-45 1 28 0-30 0 60 0-29 2 31 0-13 0-1 1-11 0-4 1 24 2-63 0 40 2 25 1-56 0 2 2 55 1 4 0-26 0-26 1 23 1-14 0-2 2 17 0 7 1-38 0 51 1-35 1 31 1-33 2 27 0 3 0-46 1 10 0-21 3 33 5 5 1 1 2 23 0-5 0 10 0 8 2-76 2 72 3 2 0-11 1 9 1-58 0 59 6-23 3-52-55-5 4-7 0-6 2 16 0-8 3-15 0 26 1-5 3-5 0-23 1-9 1 2 0-4 4-1 0-24 1 58 0-63 1 19 0-8 0 40 1-45 0 22 2 21 1 24 0-14 1-15 1 21 1-18 1-40 0 2 1 63 0-75 0 5 1 35 0 5 2 29 0-60 1 33 0 15 1-6 0-13 2-5 1-40 0 22 1 39 0-40 0 3 0 10 1 19 1-3 1 27 1-56 1 41 2 11 1-21 1-26 0 48 0-1 0-13 1-50 1 24 0-4 2 40 2-18 0-49 1 58 1 11 0-65 1 2 0-14-30 0 2-18 1 12 0-21 1 0 0 19 0 2 1-16 1 25 1-13 0-31 1-18 2 48 1-36 1-7 0 55 0-19 0-39 1-18 1 76 0-68 2 37 0-43 1 62 0-34 0 11 0 14 1-49 1 1 1 39 0-45 1 40 0 9 0-34 0 39 1-33 0-5 0 35 1-11 0-26 1 16 1 4 1 39 0-49 1 24 0-38 0-7 1 30 2-24 0 30 0-44-19-7 2-41 1 13 1 38 0-72 0 40 0-1 1 8 0-28 0 21 0 5 2 10 0-25 0-4 1 45 1-43 0 15 0-47 1 39 0 23 0-61 1 66 0 7 1-39 1 30 0-6 0 3 0-16 1 14 1-43 0 54 1-43 1 36 0-33 1 44 1-72 0 53 0-50 0 57 0-13 0-130-22 28 1-11 0 13 3-17 0 19 0 36 2-63 0 55 0 3 0-10 2-53 0 16 0 29 2-28 0 18 4 29 0-5 0-28 1-1 0-28 0 60 0 14 2-60 0 4 1 54 0-11 0 11 2-3 1-24 0 27 0-41 1 18 0-126-53 6 3-8 1-2 1 14 3-16 1 28 1-29 2 30 0-22 2 22 1 4 0 2 0-19 1-2 0 3 0-11 1 0 0 2 1 8 0 20 0-15 0-19 1 38 3 15 0-10 1 14 0-28 1 0 0 14 1-27 1-18 0 27 0 44 0 1 1-16 1 10 0-13 0-34 2 34 1-45 1 61 0-66 1 63 0-51 0-2 0 11 0 21 2-28 1 12 0 26 0-1 2-7 0-6 0-40 0 3 0 15 0 0 1 25 0-25 1-7 0 35 1-3 0 31 0-51 2 9 0 31 0-64 0 64 0 4 1 3 0-27 0 27 1-64 0-6 0 27 1 17 2-35 0 67 0-43 1-20 0-15 1 64 0-51 1 11 1-11 0 55 1 1 0-2 0-106-79-30 0 8 1 5 0 29 3-18 1-9 0-5 1 36 5-10 0-17 1-24 1 69 0-38 1 23 0 2 1-38 0 38 2-12 0 27 3-25 1 1 1 11 0-10 0-16 0 19 1-20 0-14 0 10 0 33 0-15 0-33 1 10 0-19 2 57 0-25 2 33 0-30 0 0 1 14 1 17 3-51 0 52 0-29 1 9 1-15 0 24 0-15 1-12 1-22 1 44 1-49 0 44 2 23 0-68 2-9 3 64 0 4 0 0 1-31 0 13 2-9 0-22 0 40 1-11 2-38 3 0 3 0 0 30 2 37 1-59 2-3 1 0 0 15 1-13 0 11 1-3 2-5 5 57 0-38 1 2 1 35 3-1 0-81-77-15 0-1 1-13 5-5 1 24 3-8 1 5 2 10 3-31 3 34 3-5 1-25 0 29 1-34 2-7 1 32 3-17 1 12 0-13 3 22 1 4 1-22 0 13 2-8 3-14 2 32 1-62 1 8 1 48 4-45 3 17 5 38 4-23 0-106-56 20 1 19 2 7 4-2 6-15 5-40 6 21 13-29 9-26 29 145-2 27 8-20 4-38 17 43 2-18 6 10 2 24 39 64-77-44 0-6 1 43 2-16 2 40 0-16 3-39 0 53 5-41 1-7 1 16 0-40 0 71 4-31 2 9 2-28 12 6 0 11 3 13 10 22 7-28 8-19 7 79-71 31 1-23 0 12 0-24 0 25 1 3 0 4 0 8 2 9 1-7 0 8 2-20 0-42 1 49 0-30 0 26 1-55 1 65 1-37 1 10 0 35 3-18 1-8 1 15 1-60 0 16 0 56 0-12 1-26 1 2 0 29 1-7 3 8 0-52 1 43 1 5 3-50 0 49 1 5 1-24 1-10 2 38 2-36 1-14 1 3 2-4 2 3 0 16 1 12 2-11 2-42 2 35 0 18 2-32 1 31 1-25 0 33 2 6 4-10 1 3 2-37 1 54 0-60 3-6 1 60 6-64 3 18 0 51 0-54 2 88-78-14 0-14 0 17 1-6 0 16 4-22 0 54 0-41 1-22 0 11 0-7 0 40 2-22 1 18 0 22 0 16 2-42 1-33 0 73 0-26 0 19 1-1 3 10 1-51 2 44 1 6 3-64 1 22 1-19 5 0 1 62 3-54 0 37 1 17 0-27 0-17 2-16 2-4 0 12 0-16 0 55 1-16 1 13 0-23 3 18 1-5 0-37 1 55 1-42 0 1 1 13 1 23 1-12 0-48 1 73 1-51 6 25 1 20 3 1 1-28 1 13 5 15 2-26 1 16 0-60 0 64 1-6 3 5 2 66-77-36 0 35 0-20 1-1 1 2 1 37 0-52 0 50 0 7 3 1 0-20 1-54 0 51 0-49 1 6 0 34 0-22 1 46 0-26 0 2 1-24 1 53 1-48 0 50 1-5 0-5 0-26 1 41 0-24 1-1 1 2 2-45 1 16 1 37 0-43 1 39 1-37 1 3 0 2 1 14 0-9 1 32 0-31 1 8 0-13 0 44 1-20 1-50 1 45 3-12 0-22 1 55 1-16 1-32 1 17 0 17 2-43 2-10 0 53 0 2 1 18 0-37 1-26 1 14 2 27 0 16 1-58 0 9 1 21 1-6 2 32 1 4 1-25 1 8 0 23 0-57 2 30 0 12 0-55 0 53 1-18 1 2 0 21 0-55 5 39 4-38 0 33 0-33 0-9 1 13 1 23 1 16 1-34 1 11 0 2 5 21 2 61-79-10 0 53 1-2 0-64 0 8 1 32 1-16 3-25 1 38 3 13 0-7 3-44 0 42 1-46 1 70 0-18 1 5 2-6 0-3 1-2 0-10 1-8 0-24 1 66 0-40 1-31 0 65 0-68 1 59 1 16 1-10 0-62 1 0 0 66 1-55 1-3 0 31 0 10 1-6 0 17 1-42 1-24 0 16 4 31 2 27 6-59 3 31 4-45 2 52 1 22 2-64 1 23 1-13 1-11 0 6 1 41 0-50 2 32 3 27 2-38 2 13 1 5 2-31 1 13 1 19 6 36-79 54 0 12 0-59 0 20 1 9 3-26 1 13 2 26 1 3 1-28 1 31 1-27 1 24 1 8 0 5 0-12 0 19 0-59 1 0 1 12 1-2 0 1 0 36 1-9 0 7 0-27 0 21 2 13 1-41 0-7 1 20 1 24 3 12 0-40 2 20 1-52 1 3 0-3 1 32 2-4 1 36 0-63 0-4 1 40 0-28 0 46 4-49 1 18 1 51 2-3 1-16 1-59 0 65 1 12 0-40 1-38 0 55 2-3 2 22 1-34 2 31 2-23 1-26 0 49 5-58 1 22 1 24 2-52 3 59 1-55 2-10 7 60 0 5 0 41-74 0 1-17 0 12 0 47 0-44 3 36 0-38 1-18 2 28 0 32 3-52 0-12 1 12 4-11 2-1 1 55 3-45 0 8 1 5 0 31 1 2 1-29 0 19 3-44 1 21 2 32 2-26 1 8 2-20 2 18 5-35 0 19 5-4 3 17 3 19 1-35 3 11 1-28 11 99-72 21 1 17 1-32 1 10 2 36 1-3 1-64 0 31 1-14 3-4 1-13 2 45 6 21 3 7 8-38 1 8 1 22 0-30 2-24 2 62 1-76 1 53 2-30 1 28 1-16 5 12 3-14 0-24 2 13 5 34 4 0 15 43-78 2 0 20 1-3 4-13 2-22 2 21 0 27 5-32 2 7 6 29 0-21 4-32 3 11 14 5 17 78-56-5 11-12 3 11 13-163 56-152-5 9 5 10 20 9 5-46-31-5 1-38 0 7 1 25 0 8 0-64 2 30 0-31 6 23 7 26 1-25 6-25 4 22 0-109-28 4 1 72 0-72 1 65 0-31 1-16 0 54 12-75 5 49 2-50 1 36 7-16 7-60-35 14 1-21 0 22 2 0 13 17 1-20 4-36 2-17 1 52 11 5 4-79-42-8 13 8 20 18 2 2 14-32 6-5 1-59-55-87 17 294 68" marker-start="url(#my)" marker-mid="url(#my)" marker-end="url(#my)"/>
<path d="M1555 319l-82-22 8 4-119-53 9 25 17 36 45 6-45 2-88-42 48 6 0 16-24 5-44 2 75 7-67 2 55 3-56 0 11 0 24 1-53-39-30 17 3 4-40 5 35 6 34 1-48 2 50 0-60 3-13 1-76-25 64 16-7 2-16 2-3 3-67-57-54 0 5 39 33 3 26 3-12 2-8 1-42 5 54 5-6 1-87-25-41 12 34 7-15 1 55 6-82-6-10 7-85-28-2 21-69 13-22 57 32 17 79-77-36 1 25 12 4 5-35 7 7 4 32 2-24 3-29 3-9 1 18 6 48 6-8 2 3 1-34 1-18 1 14 1 33 2-1 0-62 4 43 0-9 1-8 0 44 1-21 1 5 2 19 1-13 0-20 2 13 3-47 0 37 2 18 0 12 1-16 1 9 0-34 0 118-72-25 14-48 2 52 4 21 1 2 2-27 1-11 0-8 2 0 2-10 3-18 2 39 0 30 1-9 1 14 0-2 0-40 1 17 1 14 0-19 2 30 1-59 1 20 1 31 0-58 0 33 1 9 1-14 1-22 2 33 1-4 2-10 0 15 0 25 1-20 1-34 2 18 3 29 2-43 0 49 0-63 1 34 0 18 0-1 1-54 0 0 1 65 0-74 0 63 0-55 1 38 1-10 0-26 1 0 0-11 1 67 0-5 0-22 1 6 0 4 1 7 0-16 0 2 1 2 0-19 0 46 1-12 0-51 1-4 0 63 0-29 0-8 1 34 0 93-78-9 4-30 8 7 0-25 1 34 3 13 3 9 2-75 0 77 0-3 1-2 5-12 3-19 3 18 2-26 2 6 2-4 0-12 1-2 0 15 0-4 1 8 0-9 0 5 1-4 0 11 2 22 2-63 0 55 1-23 0-8 0 49 0-36 1 23 0-39 1 35 0 13 1-32 1 26 0-3 0-52 0 54 1-41 0 31 1 13 0-20 1-41 0 50 1 12 1 2 1-56 1-6 0 68 0-31 1-26 0 27 0 14 1-22 0 18 0 21 0-39 0 30 1-70 1 12 0 57 1-20 0-17 0 44 1-41 0 24 0 7 0-48 1 31 0-33 1 55 0-20 2 4 0-8 0 1 1-28 0 30 0 16 0 1 1-11 0-30 1-1 0 42 0-2 0-54 1 1 0 53 2-47 0 8 0-14 0 16 1-25 1 139-77-3 1 20 2-32 3-16 3 34 1 10 0-75 3 56 0-46 2 28 1-14 2-21 1 55 0 0 4 10 0-34 1 33 3 9 4-48 2 9 1 25 1-59 1 14 0 60 1 0 3-53 1 20 1-8 0-11 0 43 1-34 1 4 0-7 0 9 1-3 0-19 0 48 1-32 1-22 0 45 1-6 0-2 0-33 2-10 0 20 2-10 1 5 0-14 0 16 1 49 0-19 1-22 0 34 1-9 1-33 0-13 1 47 0 13 0-37 0 31 0-20 1 9 0-13 1-35 1 23 0 16 1 31 0-19 0-15 1 10 0-32 1 24 1-34 0 23 0 20 0-35 1-13 1 28 0 45 1-11 0-58 0 34 1-23 0 5 1-9 2 6 0 103-72 29 5-66 0 32 5 8 0 15 2 4 1-64 0 11 0 65 4-68 0 44 2-22 1 12 1-34 0 63 3-2 0-60 0-11 2 2 0 43 3-11 1 11 1 12 1-56 0 67 1-48 0 1 1 55 1-12 1 8 0-19 0-24 1-11 0 9 0-26 0 9 0 46 1-41 1 33 1-34 0 65 2-24 0 0 0-51 3 36 1-3 1 35 0-17 1-27 0-22 0 25 0 13 1-37 1 57 1-23 1 25 0-18 1-46 1 77 0-37 2 23 1-62 0 59 0 7 1-27 0 4 0-2 1 21 0-6 1-17 0 20 0-5 0 1 3-14 0-4 1 32 0-8 0-24 0 2 1 25 1-1 0-30 1 16 0-49 1 75 1-6 0 50-67 6 4-6 0 16 0 11 1-44 0-15 3-8 1 43 1 30 1-64 1-11 3 39 2-12 1-14 0-9 2 74 1-10 4-3 1-34 1-8 0-18 1 49 1-28 1-2 1 7 0 5 1-25 0 52 0-12 2-19 1 30 0-15 2-11 2-20 2-1 2 23 0 27 0-8 1-39 0 15 1-29 0 58 1-1 0-32 0 12 0 17 1-47 0 5 1 53 0-65 0 12 1-16 0 75 0-1 1-3 1-61 0-9 0 18 2-5 0-4 0 4 0 35 1 20 0-28 0 15 1 2 0 5 1-7 0-34 1-7 0 22 1 11 0 2 2 1 0-28 0-3 2-13 0 35 1-17 1 14 1-35 0-3 1 71 1-18 1 3 0-7 1 29 0 0 4 18-68 35 1-51 0 46 0-20 1 32 2-57 4 61 0-37 1 20 1-21 2-15 1 62 0-62 7 64 1-66 2 43 1 26 1-75 6 28 0 32 2-3 0-2 2 20 0-48 0 27 6-34 1 0 1-7 0 48 2-38 2 1 0-7 1-13 1 4 0-9 0 49 1 4 1-50 0 25 1 13 0 3 1-16 1-25 0 35 1 32 0-71 1 74 0-17 0-12 1-5 0 14 1-36 0 1 1 9 1 12 1 35 0-18 0-5 0-6 1-22 1 53 0-66 0 44 0 0 0-44 1 40 1 11 0-19 1 21 0-37 0 31 1-5 0-23 0 2 1 31 0-43 0 56 0-31 1 34 1-62 0 22 0-2 0 26 0 8 1-28 0 31 1 66-74-2 11 1 4-13 2-24 1-5 1 26 1-18 4 32 3-53 1 56 4-57 3 42 0-25 1 42 9-12 0-30 0 3 0-8 2-15 0 4 1-3 2 16 1 58 0-7 0 2 1-48 1 30 2 20 0-70 0 72 3-11 0-59 1 3 0 39 0-7 1-27 0 50 1-50 0 41 1-42 2 64 0-32 0-38 1 59 1-40 1 50 0-2 1-31 2 9 2-17 0-24 0 17 1 47 1-8 0 17-79 36 2-13 20 27 18-16 0-25 1 2 3 2 6-5 6 5 2 0 3-1 0 49 1-51 1 24 4 20 3-54 1-1 0 23 1 37 4-11 0 27 2-72 1 101-58-14 10 1 13 17 4 103 24 72-20-95 38 46 3-70 1 39 16-21 13-20 15 30 6-34 14 45 1-118-77 31 3-32 2 7 11 43 3-53 1-2 5 36 1 26 1-27 1 2 3-34 8 53 0-7 2-30 2 18 1-28 0 51 1 2 0-63 2 57 0-31 0 1 1-27 3 56 1-13 2-21 1 30 0-24 2 18 0-37 0 14 0-21 3 1 1 23 1 11 2-12 1-17 2 33 2-38 2 32 1 5 0-9 1-26 0 39 2 10 0 14 1-87-78-1 1-35 0 18 1 4 3-25 0 33 1-51 0 24 1-3 1-1 1-17 1 9 1 2 1 31 1 12 1-21 0-8 0-29 2 45 0-3 0 18 2-28 0-22 0-3 2-2 0 31 0-8 1 45 1-8 1-33 2 30 0-50 1-11 1 23 1 21 0-16 1 39 0-57 1 38 0-4 1-6 0-31 1 42 0-51 0 35 1-16 0 2 0 9 1 26 2-32 0 19 0-12 0-7 1 44 0-42 1-18 0 2 2 3 0 59 0-57 0-6 1 20 0 32 0-5 1-42 0-2 2 22 1 17 0-31 0 29 1 19 0-31 3 21 0-28 0 28 1 10 3 6 1-43 2 11 1 33 0-47 1 40 2-15 3-2 0-15 2 14 1 4 4-15 0 0 2 23 0 14 1-29 0 3 1-6 3 23 1-4 0-4 0-1 1-119-79 15 0-17 2 21 0 4 1-12 1-29 0 38 0-18 0 5 1-22 2 62 1-42 0 31 0 10 1-16 0-12 0-9 1 39 1-3 0-10 0 12 1 6 4 4 4-36 0 24 0-11 0 23 2-18 0 9 0-9 1 19 4-3 0-3 1-542-28 27 0-13 0-21 1 74 0-47 0 37 1-58 0 32 0-25 1-1 1 24 0-3 0 4 0-18 1-7 1 34 0-27 1-8 0-8 4 22 0-1 1-16 3-60-15 41 1-31 2-7 0 19 1-22 0 19 1-32 1 27 0 27 0-37 4-26 0 44 0 22 1-76 0 79 2-3 1-4 1-19 0-24 1-17 1 16 0 21 0-45 0 51 0-26 1 40 1 3 0-29 1 32 1-16 1-3 0-3 2-40 0 40 1 15 1-21 0-19 1 33 0-33 1 20 0-44 1-1 1 12 0 46 0-24 0 6 1 16 0 2 1-37 1 15 1-5 0 23 1-29 0-3 1 29 1-49 4 32 0-29 1 10 1-9 0-3 1 18 0-13 0 16 1 10 2-34 4 16 1-12 2-5 1 0 2 16 0-2 4-7 1-7 3 8 0 3 1-2 0-4 5-6 7-19-75-18 2 8 4 27 3-7 1 2 5-14 2 8 1 5 2-5 5 7 6-1 0-16 0 19 0-73 3 63 3-22 0 29 1-10 1 3 1 10 2-7 1-40 0 40 3 0 1-48 0-8 1 29 3-38 2 72 1-12 1-20 0-8 0 35 2-23 0 15 1 1 1 6 1-40 2-4 1 46 0-7 3 11 1-13 1-28 1 11 1-41 0 7 1 26 1 2 1 17 0-21 2 13 0-9 0-59-55-27 47 32 1-21 1 22 1 1 5-80 7 10 51-5 2-1 3-9 15 85-58-26 0-14 9 15 2 14 3-47 0 25 1 24 1-30 4-30 5 43 1 21 1 8 1-9 1-26 2 8 6-17 2 46 0-43 1 27 1-51 3 70 0-46 4 16 1-42 3 43 3-3 4 14 0 71-76 2 1-49 0 70 2-6 1-16 0-49 1 49 1-17 2 28 0-11 0-19 2-3 0 8 0 27 0-53 1 8 0-13 0 35 2 16 0 15 1-16 0 14 0-36 1 6 0-33 1 42 0 7 1 2 1-12 1-16 0-6 0-3 1 29 0-19 1-13 2-9 0 19 1 13 0-26 1 40 1-36 0 40 0-7 1-5 0-16 1-26 0-3 0 37 1-27 0 33 1 15 1-14 1-4 1-22 1 18 3-13 0 3 0 26 0 3 0-14 0 3 1 2 0-21 2 13 1-13 1 20 0-21 2-2 0 15 2-16 1 16 1-11 0-27 1 40 1-17 0 15 0 12 1-3 1-30 1 14 1 6 1 9 0-20 0-1 1 11 0 8 2-24 2 14 0-34 2 17 0-11 0 30 0-3 2 12 0-11 0-15 1-15 0 12 0 23 2 0 6-12 2 749-75 7 0 6 0-10 3 15 2-6 0 10 2-4 0 3 5-12 1-5 1 7 1 11 0-9 3 3 1-6 1-2 0 6 8 2 1-3 2 7 10 1 0 54-41-21 0 32 0-59 2 40 1 7 0-37 1 29 2-17 1 23 2-43 2 59 0-7 1-47 0 17 4-1 0-16 1 1 0 9 1 15 1-9 1 3 0-12 0-14 2 37 1-38 1 16 1 6 1-9 2 31 0-41 1 8 0 22 3-31 3 3 0 13 0 1 0 51 1-23 1-8 0-41 1 10 0 27 0-12 0-22 0 23 1-21 1 43 1-39 0 42 1-13 0 34 1-55 0 46 0-13 2-37 3 24 2-7 2-21 0-3 0-6 0 47 1 8 0-4 0 23 0-2 2-37 1-18 2 41 1-53 0 61 0 10 1-18 0 3 0-47 2 62 0-26 1-2 0 4 0-39 2 22 0-24 1 6 0 54 0 3 0-55 1 20 0-29 0 8 2 9 2 0 2-15 0-7 1 50 1 5 0-33 2 8 0 59-69-15 6 29 3-29 1 26 2-20 1 13 12-17 2 13 8-11 8 5 2 0 5 36 5-24 5-10 2-8 5 53 3 48-79 4 28-28 7 30 81-11 4-17 10 7 1-4 25-82-74 58 2 10 1-61 4-2 6 10 1 19 1-5 0-13 0 21 2 24 2-38 0 4 6 17 1-31 2 28 3 14 1-3 1-9 2-34 5 12 0 0 0-14 3 21 2-18 1 61 1-74 1 20 3-11 1 11 3-16 2 57 3-55 0 38 1 12 1-35 0-20 2 12 4 45 0-57 0 55 5-30 3-15 0 37 1-38 0 14 0-75-79 49 0-62 2 53 1-43 0 35 0-29 1-19 1 60 0 3 1-60 0-3 1 55 0 0 0-47 3 20 1 17 0-32 1-6 0 11 0-16 0 25 1 36 0-25 2-27 1 1 0 44 0-34 1 6 1 30 0-7 1-29 2-12 0 47 1-43 0 37 1-46 1 8 1 13 0 21 0 7 0-38 2 13 1 6 0 10 0 16 1-41 1 37 0-32 1-2 2-6 0 2 0 14 0 31 0-53 0 32 1-38 1 37 0 2 0-14 2-17 0-3 0 18 1-23 0 1 2 39 0 20 0-26 1 9 1-39 0 10 2 1 1 4 0-19 1 18 0 8 3-13 0 6 0 35 0-18 1 24 0-14 0-36 1 40 0-18 2-31 2 18 0-7 1 15 0-6 1-17 1 26 1 8 1-30 2 39 2 3 0-21 1-9 0 4 0-16 0 9 1-17 1 61 0-33 2-8 0 26 1-20 3-19 0 1 0 42 1-32 0-19 1-1 0 12 1 12 0-16 1 14 0-16 0 10 0 25 1 17 0-56 0 36 1-817-79-8 0 9 1-33 0 16 1-5 1-14 1 34 3-8 1 1 0-11 1-15 1 32 1-26 0 18 3-6 1-19 1 33 0 2 1-16 0 9 1 4 0-17 0-5 1-12 0 32 1-12 3 5 2-6 1-2 1 17 1-18 4 15 0-22 1 21 1 1 1-13 1 5 3-17 2 14 2 6 0-14 2-7 1 6 0 3 2 3 0 10 0-2 1-10 1-13 2 6 6 4 3 11 1-7 1-12 1 25 1-22 0 9 2 13 0-26 3 27 3-6 3-11 1 7 2 7 0-45-79-25 3 11 3-20 0 49 2-8 4 9 7-4 2-34 2-11 3 24 1 7 1-34 2 52 0-57 1 12 1 5 1 7 1 15 3-43 0-4 7 31 2 9 2-9 1 17 5 8 0-3 2 12 1-62 1 16 0 2 0 33 0-20 1 14 3 18 2-7 0-60 1 58 0-36 2 13 1 0 0-3 3 32 4-3 1-55 1-42-67-47 27 48 32 7 9-74-60-78 77 63 41 100-38-12 9 5 0-24 1-12 4 35 0-5 8-38 1 49 0-6 2-17 5-39 12 84-59 22 2 41 3-22 2 3 1-5 2 8 0-46 1 31 3 12 1 10 1 10 2-19 0 14 3-57 0 35 1 17 0-11 1 18 2-28 3 8 0-18 0-2 2 3 3-38 2 74 1-27 1 12 1 3 1-43 0 15 1 27 1-2 3-3 1-7 0 28 0 1 4-50 0 40 1-49 1 8 2 14 2 36 1-13 1-20 1 25 1-27 1 36 1-1 5-58 1-19 1 41 2 0 0 5 1-1 1-18 0 14 0 37 0-40 2 27 1-18 0-21 0 15 1 20 1 8 1-4 0 28-79 0 0-14 0 23 1-10 1 13 0-2 2-21 0 3 0 9 1-5 1 8 2-8 1-2 1 22 6-25 0 18 4 5 0-28 2 23 0-17 3 21 4-13 3 5 1 9 0-3 0 3 0-27 1 24 0-6 1-17 0-2 0 30 1-18 3-2 5 5 1-7 2 16 0-14 1-1 1 2 0 14 0 7 0-22 4-7 0-3 0 27 1-3 0-21 1 22 0 2 1-19 1 2 1-5 2-5 0 32 0 0 1-21 1-2 1-4 0 3 0 0 1 6 0-6 2 9 4 7 2-21 3 26 1-7 3 777-4 72-75 1 1 1 1-2 1-45 0 24 2-25 1 30 0-23 0-12 1 30 0 11 1-16 0 31 0-15 0-45 1 61 1-8 0-29 1-27 1 23 1 16 0 25 1-63 0 17 1 16 0-24 3-9 2 43 0-22 1-14 0 54 0-24 0 22 1-54 1 7 0 3 0 36 2-15 2 17 0-34 1-15 0 35 1-20 0 16 0 9 1-37 0-9 1 18 0-4 1 48 1-57 0 8 0-1 0 35 1-49 0 20 1 24 0-3 1-37 1-6 1 26 1-21 1 25 1-14 0 15 0-15 1 32 0-20 0 43 1-49 0 14 1 15 1-36 1-11 0 10 2 28 1 8 0-42 1 28 1-21 1 55 0-28 1-42 2 15 0 4 0 49 0-69 0 71 1-55 1-16 2 58 2-1 1-11 1-28 0 1 0 23 1 14 2-27 0-10 0 4 1-21 1 15 1-21 0-2 1 43 1-28 0 49 0-52 0-9 1 67 2-40 1 8 2-28 1 61 1 19-77 9 3-18 3 9 0-8 1-3 0 1 1 38 1-6 1 11 0-7 1-20 4 45 2-19 0 14 1-8 0 18 1 1 1-4 0-29 1-12 1-17 0 68 1-23 0-51 1 24 2 22 1-25 3 35 2-33 1 2 1 43 0-31 1-30 0 32 1-27 4 12 2-8 1 37 2-11 1-42 1 3 2 38 3 23 2-16 1-25 2 33 3-26 1 42 1-20 1-52 1 39 1-15 2 35 7-48 2 40 1-30 0 23 0 51-68-15 43 3 0-3 11 95 33-83 8 1 12-5 9 3 1-1 3-67-51 18 0 32 2 1 1 3 0-67 1 0 1 9 0 8 0-17 2 6 0 12 0 13 5-36 4 19 2-12 0 0 2 2 6 34 7-12 5 6 2-16 3 44 1-48 1-11 1 13 1 24 1-45 1 22 0 46 1-54 4 44 1-39 1 6 1 6 2 35 0 8 1-3 4-19 2-50 0 36 3-11 8-16 1 5 0 27 1-125-78 16 0-16 0 64 0-61 2-4 0 46 1 6 0-47 5 34 2-8 2-8 0 6 1-26 0 11 1 37 0-19 2-12 1-6 3 17 0 35 0 12 0-14 1 13 1-39 0-1 1-29 0 52 1-43 0-14 1 7 0 44 1-45 0 34 1 2 0-24 0-14 3-6 3 29 0 31 0-60 1 48 0 13 2 4 0-12 2-2 1-16 1-15 0 13 2-2 1 20 0-8 3 14 2-25 1 5 1 36 0-72 0 0 1 76 3-50 0-12 1-1 0-13 0 47 1 24 0-30 3-30 0 38 4-43 1 62 0-37 1-28 1 38 1 12 1-5 3 25 3-10 0-12 0-40 3 39 1-62-72 6 0 3 4-10 2 10 1-11 0 3 2-1 2 4 5 5 0 0 2-17 3 10 4-14 1 5 4 7 3-17 1 15 3 3 0 1 3-18 2 7 1-17 0 11 1 4 1 20 1-28 1-3 1 10 1-17 0 19 0 4 2 15 0-35 2 8 0-12 1 14 1-12 0 35 1-20 1-8 3 5 1 0 0 22 2-10 1-25 2-7 0 25 1 14 1-53 1 50 1-50 0 5 0 24 0-20 1 46 0-9 1-29 0-731-76-2 1 6 0-5 2 2 0-16 0 23 1-4 0-16 0-14 1 11 1 11 0-9 1 16 0-5 2 14 1-14 1-6 1-1 1-10 0 17 3 10 3-23 0-2 2-7 2 29 1-15 2 17 2 5 0-32 2 16 1 20 2-29 3 19 2 7 1-31 0 15 1 22 4 0 0-18 0-6 2 10 0 0 0-26 1 32 0-5 1-16 0 1 2 0 1 22 1-9 0 6 1 20 0-17 1 5 0-43 1-1 0 35 1-24 0-10 1 12 1 23 0 14 0-49 2 25 0-9 1 11 0 21 0-9 2-33 1 30 1-24 1 22 0 5 0-2 1-12 0 2 1 2 2 28 0 3 1-49 1-3 0 33 1 10 0-47 1 33 0-38 0 39 0-37 0 15 1 7 0-3 1-91-77 58 1-68 1 51 2 18 0 1 1-14 0 10 1-2 1-10 0 1 2 21 1 3 0-56 2-16 1 52 2-12 0 31 4-35 5-17 4 33 4 2 2 14 0-27 3-38 1 67 2-19 1-4 3 4 3 13 0-9 3 3 0-7 3-20 0-6 1 23 1 20 0 1 1-54 3-7 0 45 5-2 4-10 0 30 1-26 6-76-74 3 6 2 1 8 4-12 17-35 5-19 8 65 12-47 12-56-68 20 41 14 18-71 9 58 61 58-32 23 15 8 9-47 9 82-48-8 1 50 11 7 12-24 2-1 6 19 2-40 11 19 2 8 1 4 8-10 2 22 4-3 6 57-69-45 0 22 0 28 1 0 1-51 0 50 0-46 0 52 4-48 2 29 1-3 0-29 1 34 0-24 0 24 1 30 0-36 0 26 0-29 0 39 2-71 0 31 1 14 1 2 0-6 2 30 0-43 1-21 1 56 0 3 1-26 1 34 0-27 2-32 0 25 0-5 1-5 1-20 1 0 0 33 1 18 1-8 0-49 3 21 1 47 1-5 0 1 1-8 0 7 2-13 0-5 1 9 0-31 1 47 0-10 0 10 0-25 3-43 0 63 2-22 1 3 0-17 1 23 1 6 2 11 3 1 0 1 0-70 0 56 3 14 0-4 0-53 1 23 0 19 1-5 1 13 1-2 1 11 1-79 0 44 1-5 2 3 1 35 1-1 0-5 1-67 1-1 0 42 0 9 1-8 1-2 1 14 1-20 0 25 2 10 1-24 0 17 1-29 1 33 1-9 0 22-55 2 2 0 2 0 5 3 3-7 1 1 1 0 4 8 2 3 0 3 3-4 2 7 1-12 0 16 3-20 8 17 0-3 2-3 0 1 2-3 2-1 0 28 1 0 0-6 0-14 0 3 0-14 1 36 1-11 2-18 0 21 1-24 0-4 1-7 0 42 1 1 0-38 2 45 1-21 0-21 0-9 1 41 0 4 0 512-8 79-52-7 7 3 1-11 2 14 1-10 4 8 2-19 0 5 3-3 0 14 0-1 1 1 1-8 1-20 0 31 1-22 0 13 0-8 2 18 0-12 1-21 0 28 0 5 2-17 1 15 1-18 0-1 0 12 0-36 1 24 0 21 0-13 1-20 1 33 1-8 1-8 0-32 0 14 1 14 0-33 1 54 1-38 1-15 0 5 1-13 0 22 0-6 0-2 1 43 0-32 0 20 1-34 0 39 1-47 0 3 0 17 0 5 0-6 1-27 0-6 2 11 0 54 0-18 0 10 2 2 0-21 1-22 0 59 1-44 1 14 0-15 1-30 0 11 1 26 1 1 0-31 1 29 0-32 0 8 1-13 1 60 0-20 0-23 1 36 0 4 0-12 0-8 1-12 1 105-78 6 1 18 1-24 0-34 0 35 0-15 0-22 0 42 1-9 1 11 0-40 1-12 2 61 0-45 1 22 0-2 0-20 1 41 0-40 0 3 1 31 2-9 1-48 0 70 1-44 0-1 1-15 0 53 1-18 1-27 0 3 0 3 0-15 1 67 0-55 0 39 2-10 1 0 0-38 3 30 1 2 1 31 1-23 1-42 0-4 0 62 1-36 1 32 3-37 0 6 2-19 0 33 1-3 0-30 0 38 1-27 0 19 1-29 0-7 0 10 1 15 1 21 0 13 0-1 1-47 1-17 0 47 1-20 0 30 0-10 1-21 0 37 2 9 1-5 0-39 0-28 2 44 2-46 0 76 1-65 0 47 2-14 1 4 2-5 0 4 0 26 1-66 0 55 2-28 1-2 2-20 1 34 1-3 0-43 3 59 0-52 3 3 0-5 1 24 0 15 0-26 0 36 2-24 1 39 0 4 0-62 1 20 0 4 1 5 0-12 0 41 1 82-79-55 0 55 2-60 2 50 0-38 0-25 3 27 0 12 1 11 0 8 1 1 0 4 1-60 0 59 3 7 4-51 0-14 2 26 3 30 3-55 0 10 4 17 2-9 0 0 1 41 0 12 1-43 1-18 0 43 2-48 3 3 1 61 4-66 1 69 0-4 2-56 1 25 0 22 1-29 1 11 1-5 1 27 3-41 1-3 0 20 2 5 3-39 0 41 1 10 0-3 0-6 1-10 0 10 4 6 0 5 1-39 8 43 2-55 1 97-79 10 2-8 1-6 3-2 2-7 2 16 8 12 1-44 1 9 1 43 0-39 0 9 2 12 3-26 0 30 3-31 2 23 0-4 1-22 0-2 1 51 0-53 2 13 1 34 3-15 0-27 0 3 1-1 1 26 0 22 2 5 2-11 0 15 1-43 4 11 3 6 1 22 3-44 10-3 2-4 1 17 0-1 7 3 2 57-58-2 9-36 51-19 4-28 1 14 1 10 1-10 3 7 1 33 0-53 1 18 5-19 1 1 1 6 4 47 5-35 10-5 26 0 1 25 10-117-75 29 0 22 0 22 3-74 3 53 0 23 1-50 2-20 0 5 0 56 2-60 3 49 1-23 1 11 0-16 1-3 0-7 2 27 5 33 2-78 4 64 1-45 6 29 1-3 1-30 5-7 1-3 1 2 1 25 1 2 1 18 0 8 3-28 0-20 1 30 1-28 2 2 2 2 0-1 3 23 11-13 0-14 1-11 3-46-77-35 0-2 1 32 0-15 0 3 2-10 1 1 1 59 1-12 0-20 1 33 0-60 0-10 0 77 1-8 0-25 2 13 0 16 2-73 1 26 1 28 1 13 2-32 1 34 0-32 2-26 3 2 0 5 1 29 0 8 3-27 0 15 1 2 1 33 2 0 4-24 3-9 1 16 1-62 1 32 1-18 1-10 1 49 0 18 2-69 0 9 1 52 4-26 0 28 1-19 3-28 1-12 2 34 1 31 1-27 1-26 1 10 1 16 0-3 5 24 0 9 2-30 1-18 1 35 0-47 1 40 1-47 0 25 2-26 1 67 2-41 0-101-77 9 0-3 1 19 0 21 0 15 0-72 3 58 0-42 1 56 2-28 0 25 1-8 1-36 1-5 2 43 2 3 2-10 0-48 1 14 1 40 1-55 1 11 0 13 1-17 0 31 2-42 0 72 1-74 0 24 1 34 0-19 0-21 1-5 0-5 3 0 1 34 0-6 2-15 1 17 0 16 0 11 1-1 2-9 1-30 0-16 3 11 0 3 2 10 0-25 1-2 0-2 1 22 1 39 1-12 1-28 0 15 1 5 1-43 3 7 3 50 0-14 0-44 0 13 1-7 1-3 4 21 0 21 0-36 2 28 3 30 1-62 4 69 0-32 1 4 0-31 1 3 1 34 0-51 1 22 1-53-78 8 0 15 3-9 1-23 0 8 2 23 1-10 2-27 0 2 1 11 0 16 0-31 1 32 1-44 1 45 0-25 0-12 1 39 1-23 0-32 1 23 1-9 1-5 0 50 0-53 1 20 1-3 0-23 1-1 0-1 0 46 1 15 0-24 0 8 3-38 0-17 1 66 0-31 1-9 0 31 0 7 0-12 1 5 0 1 0-26 1 36 1-17 0 20 1-62 0 24 0-36 2 57 0-17 1-25 1 16 2 25 0-10 0 0 0-22 1 39 0-31 2-7 0 5 0 46 1-61 1-10 0 54 1-20 0-4 2 35 1-51 1 44 0-36 1-4 0 27 1-35 0 2 1 16 0 12 4 11 0 9 1-60 2 67 0-36 0-17 0 13 1-1 0-25 0 8 2-10 1 59 1 9 2-34 6 41 1-41 0-10 0 34 2 14 4-69 0 21 2 8 0-38-59-3 3-8 3 9 2-10 2 13 3-10 0-34 2 15 3 27 2-37 1 4 0-8 0-20 2 5 0 44 2-41 0 5 2-29 1 5 1 52 0-36 0 37 1-51 0 48 1-23 0-11 1 35 0-10 0-42 0 60 0-30 0-19 0 16 1-7 1 18 1-11 0 36 0-59 0 31 1 15 0-12 0 8 1-32 1-4 0 64 1-77 0 1 0 8 1 8 0-12 2-6 0 47 1 32 1-50 0 22 0 13 0-45 1-13 1 71 2-47 2-25 0 1 1 63 0-34 0-19 1 56 2-6 0-16 0-37 1 34 0 29 0 0 1-21 0-7 1 21 2-90-28 13 0-11 1-22 2-1 1 3 0 25 2-37 1-6 0 37 1 4 0-15 1-32 0 0 0 6 3-20 1 34 0 6 1-21 1-2 1-1 1 51 0-5 0 12 0-20 2-12 0 8 1 3 1-13 0-10 0-6 2-8 0 59 1-38 0-39 0 44 0 23 0-63 2-4 1 23 0 28 0-66-14 0 0-32 2 32 0 0 1-42 2-13 2 3 0 3 1-16 1 74 1-69 0 66 1-50 1-22 0 40 0-20 1 6 0 46 0-148-23 7 2 10 2-1 2 2 0 23 1-27 1 7 1 2 0 27 0-9 1-13 2 26 0-51 0-2 1 16 0-3 1-16 0 42 1 16 0-43 1 20 1-31 0 55 0-38 0 6 2 21 0-5 1-22 0 15 0-5 0-3 0 6 1 26 0-23 1-23 0 41 0 11 1-34 1 25 0-13 0-23 1-22 0 41 0-7 0 4 0 33 0-140-54-12 3 6 0-1 1 10 1 1 1 10 2-1 1-7 0-16 0 6 1-3 1 0 0 6 2-4 1 24 0 7 3-9 0-25 1 30 1 14 0-28 1-19 0 12 2 7 0-1 0-8 0 0 0 45 1 0 0-46 1 44 1 22 0-38 0 15 0 20 1-62 0 26 0 12 1 27 1 3 1-50 0-20 0 33 0 7 2-34 0 25 2-20 0 9 1-28 0 41 0-7 0-25 1 57 0-32 1 23 0-5 0 22 1 3 1-1 0-70 0 49 1 0 0-19 0 15 1 26 0-42 1 8 0-7 0-3 0 23 1-8 3-6 2-11 1 44 1-44 0-28 2-1 0 14 0 62 2-35 1-84-77 1 4 20 0-24 0-2 0-4 1-7 1-18 1 61 1-62 0 59 2-33 0 9 0-4 0 19 1-43 0-1 1 43 1-17 0-35 1 55 0 3 1 6 1-31 1 25 1-33 0 12 0-17 2 33 1-33 2 37 0 7 1-17 1 0 1 7 1 22 1-19 2-29 0 13 1-16 0 29 1 5 0-6 1 24 0-7 1-46 0 44 1-2 1-24 0-44 1 40 0-39 0 38 2 40 0-18 1 1 1-53 0 15 0 37 1-60 1 44 1 7 0 8 3-14 1-10 1 33 0-1 2-15 3-10 0 9 1 24 0-55 1 36 1-11 0 33 2-16 0-11 0 24 2-55 0 48 3-43 0 41 1-1 0 7 1-30 1-6 0 4 2 1 1-2 2-19 2 40 3-85-79-31 7-7 1 18 2 29 1-58 1 36 0-3 3 9 2-6 5 25 1-10 1 17 0-45 1 41 0 6 1-74 2 51 2-14 1 23 0 12 2-22 2 11 1 13 0-33 3-21 1 28 2 22 9-48 9 23 4 7 0 2 3-3 3-39 7-17-67-55 13 37 3 3 7 16 29 62 21-5 5 1 2-23 1 43 2-5 3-1 5-18 3-49 23 118-47-33 0 31 1-4 0-3 1-20 0 58 1-16 2-16 1 11 2-13 2 35 0-38 1-7 1 44 1 0 0-26 1 13 0 17 0-25 0 24 1-38 0 38 4-24 1-10 3 1 2 19 2 16 5-47 1 30 2-47 7 42 1 18 3-17 6 20 7-29 2 3 6 64-67 7 0 21 1-29 1 38 2 8 1-24 1-22 1-18 0 24 0 7 2-11 0 33 1-54 2 35 2-3 1-33 0 8 1 8 0 8 2 0 1 32 0-20 1-26 2 55 3 1 1-21 1-30 1 18 1-3 2-8 0-24 1 5 0-5 0-3 4 52 4-21 4 10 1 3 6-6 1-2 4 12 2-20 3-21 3 27 0 3 7 30 0-55 3 38 5 4 0 46-78 50 0-51 3 41 0 0 1-3 1-12 0 7 1-23 0 32 0-65 0 66 0-45 2-8 0-5 1 28 0 40 0-48 1-7 0 22 0 30 1-62 1 4 0 19 1-4 0-28 1 1 1 39 2 30 0-22 0-10 2-32 1 14 0-19 1 17 1 36 0-43 1 32 1 15 1 15 1-28 0-47 0 20 0 34 1 8 2-4 0-51 1 64 1-57 0 5 1-21 0 6 1 17 0-21 1 44 2-34 0-8 1 74 2-10 1 3 3-28 2-32 3 24 0 14 2-9 1-8 1 22 0-37 2 44 3-50 1 61 1-36 1 33 1-34 3 15 2 10 1 17 2-20 3 0 0-20 0 27 1-47 1 58 1-11 1-4 1 38-78 13 2 13 0-3 1-7 0 25 1-48 1 49 0-12 0-25 1-21 0 39 1-9 0 40 1-47 1 36 0 12 1-22 2 27 0-30 0-21 0-1 0 14 1-39 0 76 2-31 0 9 1-13 2 1 1-30 0-13 0 49 0-4 0 32 1-38 1 25 1-59 1 62 1-52 0 43 0-37 1 54 0-66 1 68 1-58 0 46 2-10 0-28 0-3 1 20 0 6 1 26 2-71 1 62 0-3 0-34 1-9 0 2 2 34 2 12 0-1 3-30 0-7 1-4 1 31 2-11 3 2 1-44 0 2 1 28 1-35 2 44 0-9 1 42 4 1 6-14 0-41 0 21 0 25 2-25 0 14 4-24 4-1 4 119-79-36 1 12 1-27 0-18 1 4 1-7 0 63 0 5 2-52 1 34 2 7 0-13 1 10 0-12 2 33 1-29 0-21 0 45 1 4 0-57 1-15 0 23 1-23 0 25 1 38 0-44 2-3 0 53 2-21 6-10 0-4 1-19 1 60 1-30 0-8 2 1 2 6 1 16 1-47 1-12 0 31 0 29 1-60 2 69 2-66 0 52 4-34 0-20 1 21 0-16 2 6 1 57 1-30 0 2 0-34 1-9 1 77 0-24 2-40 0-2 3 62 2-66 0 62 0 0 3-21 0 19 0-29 1-6 0 10 4 7 0 26 2-30 2 2 1-38 3 60 1 6 0-3 1 56-77-39 2 51 0-29 0-22 1-9 0 40 1-8 0 0 2 42 0-76 0 57 1-5 1-31 1-7 0 64 1-13 1-31 1-9 1 15 1-6 4 19 1-23 1-12 0 9 0-3 1 51 1-6 1 2 1-33 1-22 1 9 1-7 1 27 1-6 0-2 1 29 1-44 0-7 0-4 1 27 1-8 0 34 1-37 1 51 0-76 0 50 1-20 1 30 1-4 1-16 6-37 3-1 1 29 0-27 1 4 0 25 2-21 2 21 1 37 0-27 2 9 5 24 4-59 1 55 2-68 1 91-71 59 4-65 0 46 1 10 0-45 0 30 0-41 1 8 2-7 0 4 1-9 3 51 1-9 0-46 4 36 4-39 0 19 1 59 0-26 2 13 1-50 2 27 2-13 1-4 0 29 0-29 2 8 0-3 0 47 1-66 0 51 2-23 0-14 0-1 3-22 5 43 8 34 0-46 3 41 1-31 2-37 7-1 3 32 0-32 2 8 6-12 0 152-75-70 1 60 1-56 3-5 0 62 1 5 0-11 1-45 1 30 1-5 2-30 0 61 3 8 1-77 4 70 0-20 4-50 3 49 1-14 13-35 1 28 4-6 0 111-45 10 1-42 0 3 1 14 0 10 1 15 0-35 0 22 1 11 2-54 2 70 1-77 10 9 4 11 4-15 0 19 2 7 2 1 8-12 4 127-40-53 0-6 9 16 6 156-9-379 73-24 6 12 24-59-30-30 0-6 4 5 1 22 15 17 25-115-46 2 3-1 2 14 6-20 2-17 5 2 0 29 3 28 12-49 10 22 2-72-46 9 2-3 0-15 4-15 3 3 2 40 0-5 9-53 2 65 3-50 8 62 16-10 4 1 17-93-68-22 2 28 3-51 3 59 1-44 2 46 0-48 7 17 2 34 2-52 0-22 0 69 3-10 10-29 36-55-71 20 0-39 0 8 14 28 6-31 32-47-48-1 9-18 15-7 49 225 19" marker-start="url(#my)" marker-mid="url(#my)" marker-end="url(#my)"/></g>
<path d="M149.5 109.5L147 122.5L147 136L148.5 142L148.5 145.5L151.5 154L156 163.5L163 172.5L168.5 178L172.5 180L175 182.5L184.5 187L195 190L202.5 191L219.5 191L228.5 190L231 189L234.5 189L242 186.5L245 186.5L247.5 185L254.5 183.5L257 182L260 181.5L271.5 176.5L283 169L285.5 168L288 165.5L290 164.5L295.5 159L302.5 150L304.5 145L306.5 142L309 133.5L309.5 129.5L309 115L305 102.5L299.5 93.5L295.5 89L293.5 88L291 85.5L284 82L282.5 82L280 80.5L271 78L268 78L265.5 77L244.5 75L213 75L188.5 77.5L179 80L172.5 82.5L167.5 86L165 87L157 95.5L153 101.5Z" fill="#f0e68c" fill-opacity="0.94" filter="url(#bl)"/>
<path d="M254.13 134.36L250.43 141.76L257.83 141.76Z" fill="#1f77b4" stroke="#1f77b4" stroke-width="1.8" stroke-linejoin="round"/>
<path d="M220.52 126.80L216.82 134.20L224.22 134.20Z" fill="#ff7f0e" stroke="#ff7f0e" stroke-width="1.8" stroke-linejoin="round"/>
<path d="M220.52 117.90L216.82 125.30L224.22 125.30Z" fill="#2ca02c" stroke="#2ca02c" stroke-width="1.8" stroke-linejoin="round"/>
<path d="M220.52 109.00L216.82 116.40L224.22 116.40Z" fill="#d62728" stroke="#d62728" stroke-width="1.8" stroke-linejoin="round"/>
<path d="M220.52 117.90L216.82 125.30L224.22 125.30Z" fill="#9467bd" stroke="#9467bd" stroke-width="1.8" stroke-linejoin="round"/>
<path d="M292.55 120.57L288.85 127.97L296.25 127.97Z" fill="#8c564b" stroke="#8c564b" stroke-width="1.8" stroke-linejoin="round"/>
<path d="M244.53 135.70L240.83 143.10L248.23 143.10Z" fill="#e377c2" stroke="#e377c2" stroke-width="1.8" stroke-linejoin="round"/>
<path d="M172.50 126.80L168.80 134.20L176.20 134.20Z" fill="#7f7f7f" stroke="#7f7f7f" stroke-width="1.8" stroke-linejoin="round"/>
<path d="M182.10 137.48L178.40 144.88L185.80 144.88Z" fill="#bcbd22" stroke="#bcbd22" stroke-width="1.8" stroke-linejoin="round"/>
<path d="M158.09 103.66L154.39 111.06L161.79 111.06Z" fill="#17becf" stroke="#17becf" stroke-width="1.8" stroke-linejoin="round"/>
<rect x="298.35" y="361.66" width="7.60" height="7.60" fill="#1f77b4" stroke="#1f77b4" stroke-width="1.6" stroke-linejoin="round"/>
<rect x="365.58" y="335.85" width="7.60" height="7.60" fill="#ff7f0e" stroke="#ff7f0e" stroke-width="1.6" stroke-linejoin="round"/>
<rect x="216.72" y="117.80" width="7.60" height="7.60" fill="#2ca02c" stroke="#2ca02c" stroke-width="1.6" stroke-linejoin="round"/>
<rect x="216.72" y="100.00" width="7.60" height="7.60" fill="#d62728" stroke="#d62728" stroke-width="1.6" stroke-linejoin="round"/>
<rect x="312.76" y="356.76" width="7.60" height="7.60" fill="#9467bd" stroke="#9467bd" stroke-width="1.6" stroke-linejoin="round"/>
</g>
<rect x="60.70" y="2.10" width="622.30" height="463.60" fill="none" stroke="#000" stroke-width="1.35"/>
<path d="M76.46 465.70v6.3" stroke="#000" stroke-width="1.35"/>
<text x="76.46" y="490.40" font-size="17.36" text-anchor="middle">16</text>
<path d="M172.50 465.70v6.3" stroke="#000" stroke-width="1.35"/>
<text x="172.50" y="490.40" font-size="17.36" text-anchor="middle">18</text>
<path d="M268.54 465.70v6.3" stroke="#000" stroke-width="1.35"/>
<text x="268.54" y="490.40" font-size="17.36" text-anchor="middle">20</text>
<path d="M364.58 465.70v6.3" stroke="#000" stroke-width="1.35"/>
<text x="364.58" y="490.40" font-size="17.36" text-anchor="middle">22</text>
<path d="M460.62 465.70v6.3" stroke="#000" stroke-width="1.35"/>
<text x="460.62" y="490.40" font-size="17.36" text-anchor="middle">24</text>
<path d="M556.66 465.70v6.3" stroke="#000" stroke-width="1.35"/>
<text x="556.66" y="490.40" font-size="17.36" text-anchor="middle">26</text>
<path d="M652.70 465.70v6.3" stroke="#000" stroke-width="1.35"/>
<text x="652.70" y="490.40" font-size="17.36" text-anchor="middle">28</text>
<path d="M60.70 442.00h-6.3" stroke="#000" stroke-width="1.35"/>
<text x="47.90" y="448.20" font-size="17.36" text-anchor="end">30</text>
<path d="M60.70 353.00h-6.3" stroke="#000" stroke-width="1.35"/>
<text x="47.90" y="359.20" font-size="17.36" text-anchor="end">40</text>
<path d="M60.70 264.00h-6.3" stroke="#000" stroke-width="1.35"/>
<text x="47.90" y="270.20" font-size="17.36" text-anchor="end">50</text>
<path d="M60.70 175.00h-6.3" stroke="#000" stroke-width="1.35"/>
<text x="47.90" y="181.20" font-size="17.36" text-anchor="end">60</text>
<path d="M60.70 86.00h-6.3" stroke="#000" stroke-width="1.35"/>
<text x="47.90" y="92.20" font-size="17.36" text-anchor="end">70</text>
<text x="371.85" y="515.50" font-size="17.36" text-anchor="middle">Distance (Å)</text>
<text transform="translate(15.90 233.90) rotate(-90)" font-size="17.36" text-anchor="middle">Angle (°)</text>
<rect x="607.50" y="6.60" width="70.30" height="293.30" rx="2.8" fill="#fff" fill-opacity="0.8" stroke="#ccc" stroke-opacity="0.8" stroke-width="1.3"/>
<rect x="611.5" y="12.30" width="21" height="7.2" fill="#6495ed" fill-opacity="0.5" stroke="#6495ed" stroke-opacity="0.7" stroke-width="1.6"/>
<text class="lg" x="640.9" y="19.70" font-size="10.15">APO</text>
<rect x="611.5" y="27.57" width="21" height="7.2" fill="#32cd32" fill-opacity="0.5" stroke="#32cd32" stroke-opacity="0.7" stroke-width="1.6"/>
<text class="lg" x="640.9" y="34.97" font-size="10.15">OCT</text>
<rect x="611.5" y="42.84" width="21" height="7.2" fill="#ee82ee" fill-opacity="0.5" stroke="#ee82ee" stroke-opacity="0.7" stroke-width="1.6"/>
<text class="lg" x="640.9" y="50.24" font-size="10.15">CYN</text>
<rect x="611.5" y="58.11" width="21" height="7.2" fill="#f0e68c" fill-opacity="0.5" stroke="#f0e68c" stroke-opacity="0.7" stroke-width="1.6"/>
<text class="lg" x="640.9" y="65.51" font-size="10.15">SST14</text>
<path d="M622.20 74.28L618.50 81.68L625.90 81.68Z" fill="#1f77b4" stroke="#1f77b4" stroke-width="1.8" stroke-linejoin="round"/>
<text class="lg" x="640.9" y="80.78" font-size="10.15">7T10</text>
<path d="M622.20 89.55L618.50 96.95L625.90 96.95Z" fill="#ff7f0e" stroke="#ff7f0e" stroke-width="1.8" stroke-linejoin="round"/>
<text class="lg" x="640.9" y="96.05" font-size="10.15">7WJ5</text>
<path d="M622.20 104.82L618.50 112.22L625.90 112.22Z" fill="#2ca02c" stroke="#2ca02c" stroke-width="1.8" stroke-linejoin="round"/>
<text class="lg" x="640.9" y="111.32" font-size="10.15">7XMR</text>
<path d="M622.20 120.09L618.50 127.49L625.90 127.49Z" fill="#d62728" stroke="#d62728" stroke-width="1.8" stroke-linejoin="round"/>
<text class="lg" x="640.9" y="126.59" font-size="10.15">7WIC</text>
<path d="M622.20 135.36L618.50 142.76L625.90 142.76Z" fill="#9467bd" stroke="#9467bd" stroke-width="1.8" stroke-linejoin="round"/>
<text class="lg" x="640.9" y="141.86" font-size="10.15">7XAT</text>
<path d="M622.20 150.63L618.50 158.03L625.90 158.03Z" fill="#8c564b" stroke="#8c564b" stroke-width="1.8" stroke-linejoin="round"/>
<text class="lg" x="640.9" y="157.13" font-size="10.15">7Y27</text>
<path d="M622.20 165.90L618.50 173.30L625.90 173.30Z" fill="#e377c2" stroke="#e377c2" stroke-width="1.8" stroke-linejoin="round"/>
<text class="lg" x="640.9" y="172.40" font-size="10.15">7T11</text>
<path d="M622.20 181.17L618.50 188.57L625.90 188.57Z" fill="#7f7f7f" stroke="#7f7f7f" stroke-width="1.8" stroke-linejoin="round"/>
<text class="lg" x="640.9" y="187.67" font-size="10.15">7XAU</text>
<path d="M622.20 196.44L618.50 203.84L625.90 203.84Z" fill="#bcbd22" stroke="#bcbd22" stroke-width="1.8" stroke-linejoin="round"/>
<text class="lg" x="640.9" y="202.94" font-size="10.15">7Y24</text>
<path d="M622.20 211.71L618.50 219.11L625.90 219.11Z" fill="#17becf" stroke="#17becf" stroke-width="1.8" stroke-linejoin="round"/>
<text class="lg" x="640.9" y="218.21" font-size="10.15">7Y26</text>
<rect x="618.40" y="226.23" width="7.60" height="7.60" fill="#1f77b4" stroke="#1f77b4" stroke-width="1.6" stroke-linejoin="round"/>
<text class="lg" x="640.9" y="233.48" font-size="10.15">7XNA</text>
<rect x="618.40" y="241.50" width="7.60" height="7.60" fill="#ff7f0e" stroke="#ff7f0e" stroke-width="1.6" stroke-linejoin="round"/>
<text class="lg" x="640.9" y="248.75" font-size="10.15">7UL5</text>
<rect x="618.40" y="256.77" width="7.60" height="7.60" fill="#2ca02c" stroke="#2ca02c" stroke-width="1.6" stroke-linejoin="round"/>
<text class="lg" x="640.9" y="264.02" font-size="10.15">7XAV</text>
<rect x="618.40" y="272.04" width="7.60" height="7.60" fill="#d62728" stroke="#d62728" stroke-width="1.6" stroke-linejoin="round"/>
<text class="lg" x="640.9" y="279.29" font-size="10.15">7WIG</text>
<rect x="618.40" y="287.31" width="7.60" height="7.60" fill="#9467bd" stroke="#9467bd" stroke-width="1.6" stroke-linejoin="round"/>
<text class="lg" x="640.9" y="294.56" font-size="10.15">7XN9</text>
</svg>
</body></html>
